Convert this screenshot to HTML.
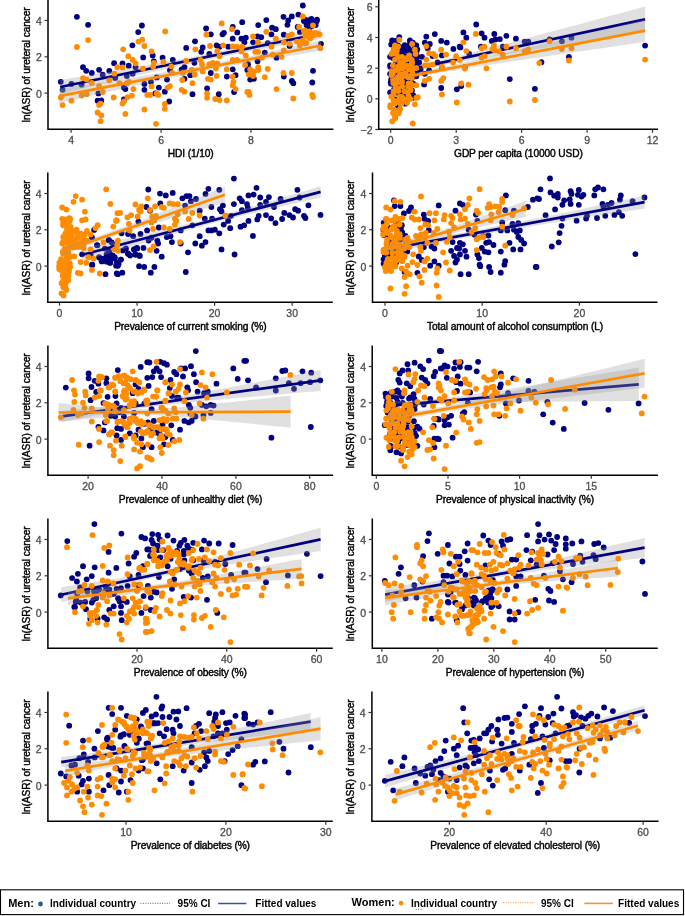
<!DOCTYPE html>
<html><head><meta charset="utf-8"><style>
html,body{margin:0;padding:0;background:#fff;}
svg{display:block;filter:blur(0.3px);}
text{font-family:"Liberation Sans",sans-serif;}
.tk{fill:#4D4D4D;font-size:10.5px;stroke:#4D4D4D;stroke-width:0.3px;}
.at{fill:#000;font-size:10.2px;letter-spacing:-0.12px;stroke:#000;stroke-width:0.4px;}
.lg{fill:#000;font-size:10px;font-weight:bold;}
</style></head><body>
<svg width="685" height="916" viewBox="0 0 685 916">
<rect width="685" height="916" fill="#fff"/>
<clipPath id="c0"><rect x="48.0" y="-0.5" width="285.4" height="129.8"/></clipPath>
<g clip-path="url(#c0)">
<circle cx="76.9" cy="16.8" r="2.9" fill="#000080"/>
<circle cx="88.1" cy="24.8" r="2.9" fill="#000080"/>
<circle cx="141.9" cy="25.5" r="2.9" fill="#000080"/>
<circle cx="138.2" cy="32.1" r="2.9" fill="#000080"/>
<circle cx="132.4" cy="45.3" r="2.9" fill="#000080"/>
<circle cx="143.2" cy="57.4" r="2.9" fill="#000080"/>
<circle cx="83.0" cy="67.2" r="2.9" fill="#000080"/>
<circle cx="86.2" cy="70.8" r="2.9" fill="#000080"/>
<circle cx="91.8" cy="73.0" r="2.9" fill="#000080"/>
<circle cx="99.1" cy="69.8" r="2.9" fill="#000080"/>
<circle cx="109.3" cy="70.8" r="2.9" fill="#000080"/>
<circle cx="114.1" cy="63.2" r="2.9" fill="#000080"/>
<circle cx="122.5" cy="63.5" r="2.9" fill="#000080"/>
<circle cx="128.7" cy="65.7" r="2.9" fill="#000080"/>
<circle cx="135.6" cy="67.2" r="2.9" fill="#000080"/>
<circle cx="60.8" cy="81.8" r="2.9" fill="#000080"/>
<circle cx="62.6" cy="89.8" r="2.9" fill="#000080"/>
<circle cx="71.4" cy="83.9" r="2.9" fill="#000080"/>
<circle cx="81.6" cy="84.7" r="2.9" fill="#000080"/>
<circle cx="102.7" cy="74.7" r="2.9" fill="#000080"/>
<circle cx="98.4" cy="93.4" r="2.9" fill="#000080"/>
<circle cx="97.6" cy="100.7" r="2.9" fill="#000080"/>
<circle cx="101.3" cy="100.4" r="2.9" fill="#000080"/>
<circle cx="123.9" cy="99.3" r="2.9" fill="#000080"/>
<circle cx="123.9" cy="87.6" r="2.9" fill="#000080"/>
<circle cx="125.4" cy="89.1" r="2.9" fill="#000080"/>
<circle cx="144.4" cy="89.8" r="2.9" fill="#000080"/>
<circle cx="144.4" cy="83.9" r="2.9" fill="#000080"/>
<circle cx="132.7" cy="73.7" r="2.9" fill="#000080"/>
<circle cx="126.8" cy="75.9" r="2.9" fill="#000080"/>
<circle cx="115.2" cy="78.1" r="2.9" fill="#000080"/>
<circle cx="242.2" cy="22.2" r="2.9" fill="#000080"/>
<circle cx="206.1" cy="28.5" r="2.9" fill="#000080"/>
<circle cx="210.8" cy="34.3" r="2.9" fill="#000080"/>
<circle cx="232.7" cy="27.0" r="2.9" fill="#000080"/>
<circle cx="237.3" cy="32.4" r="2.9" fill="#000080"/>
<circle cx="222.5" cy="34.3" r="2.9" fill="#000080"/>
<circle cx="223.9" cy="32.8" r="2.9" fill="#000080"/>
<circle cx="232.7" cy="38.7" r="2.9" fill="#000080"/>
<circle cx="241.4" cy="38.7" r="2.9" fill="#000080"/>
<circle cx="245.8" cy="37.7" r="2.9" fill="#000080"/>
<circle cx="244.4" cy="42.3" r="2.9" fill="#000080"/>
<circle cx="195.0" cy="41.3" r="2.9" fill="#000080"/>
<circle cx="186.2" cy="47.9" r="2.9" fill="#000080"/>
<circle cx="202.7" cy="47.4" r="2.9" fill="#000080"/>
<circle cx="201.3" cy="51.8" r="2.9" fill="#000080"/>
<circle cx="209.3" cy="54.0" r="2.9" fill="#000080"/>
<circle cx="216.6" cy="45.3" r="2.9" fill="#000080"/>
<circle cx="219.5" cy="46.7" r="2.9" fill="#000080"/>
<circle cx="228.3" cy="46.7" r="2.9" fill="#000080"/>
<circle cx="152.7" cy="55.5" r="2.9" fill="#000080"/>
<circle cx="162.6" cy="57.7" r="2.9" fill="#000080"/>
<circle cx="172.8" cy="59.9" r="2.9" fill="#000080"/>
<circle cx="153.8" cy="61.3" r="2.9" fill="#000080"/>
<circle cx="194.4" cy="62.8" r="2.9" fill="#000080"/>
<circle cx="184.5" cy="67.2" r="2.9" fill="#000080"/>
<circle cx="181.6" cy="69.3" r="2.9" fill="#000080"/>
<circle cx="169.9" cy="70.1" r="2.9" fill="#000080"/>
<circle cx="150.9" cy="81.8" r="2.9" fill="#000080"/>
<circle cx="167.0" cy="79.6" r="2.9" fill="#000080"/>
<circle cx="156.8" cy="77.4" r="2.9" fill="#000080"/>
<circle cx="158.9" cy="87.6" r="2.9" fill="#000080"/>
<circle cx="164.8" cy="91.7" r="2.9" fill="#000080"/>
<circle cx="155.3" cy="93.4" r="2.9" fill="#000080"/>
<circle cx="192.5" cy="94.2" r="2.9" fill="#000080"/>
<circle cx="207.1" cy="88.3" r="2.9" fill="#000080"/>
<circle cx="218.8" cy="94.2" r="2.9" fill="#000080"/>
<circle cx="232.7" cy="69.3" r="2.9" fill="#000080"/>
<circle cx="235.6" cy="75.2" r="2.9" fill="#000080"/>
<circle cx="226.8" cy="76.6" r="2.9" fill="#000080"/>
<circle cx="210.8" cy="73.0" r="2.9" fill="#000080"/>
<circle cx="190.3" cy="75.2" r="2.9" fill="#000080"/>
<circle cx="184.5" cy="78.8" r="2.9" fill="#000080"/>
<circle cx="169.2" cy="101.5" r="2.9" fill="#000080"/>
<circle cx="234.1" cy="92.0" r="2.9" fill="#000080"/>
<circle cx="247.3" cy="70.1" r="2.9" fill="#000080"/>
<circle cx="302.8" cy="5.5" r="2.9" fill="#000080"/>
<circle cx="258.2" cy="25.1" r="2.9" fill="#000080"/>
<circle cx="266.3" cy="20.1" r="2.9" fill="#000080"/>
<circle cx="283.5" cy="16.8" r="2.9" fill="#000080"/>
<circle cx="291.8" cy="16.4" r="2.9" fill="#000080"/>
<circle cx="298.4" cy="14.6" r="2.9" fill="#000080"/>
<circle cx="288.2" cy="20.4" r="2.9" fill="#000080"/>
<circle cx="287.4" cy="24.8" r="2.9" fill="#000080"/>
<circle cx="272.1" cy="27.7" r="2.9" fill="#000080"/>
<circle cx="275.8" cy="29.2" r="2.9" fill="#000080"/>
<circle cx="271.4" cy="34.3" r="2.9" fill="#000080"/>
<circle cx="283.8" cy="34.7" r="2.9" fill="#000080"/>
<circle cx="261.2" cy="37.2" r="2.9" fill="#000080"/>
<circle cx="257.5" cy="36.5" r="2.9" fill="#000080"/>
<circle cx="305.7" cy="20.4" r="2.9" fill="#000080"/>
<circle cx="311.5" cy="19.0" r="2.9" fill="#000080"/>
<circle cx="316.6" cy="21.2" r="2.9" fill="#000080"/>
<circle cx="307.2" cy="24.8" r="2.9" fill="#000080"/>
<circle cx="297.7" cy="27.0" r="2.9" fill="#000080"/>
<circle cx="299.9" cy="32.1" r="2.9" fill="#000080"/>
<circle cx="310.1" cy="27.0" r="2.9" fill="#000080"/>
<circle cx="253.1" cy="42.3" r="2.9" fill="#000080"/>
<circle cx="267.7" cy="43.1" r="2.9" fill="#000080"/>
<circle cx="264.8" cy="52.6" r="2.9" fill="#000080"/>
<circle cx="276.5" cy="57.7" r="2.9" fill="#000080"/>
<circle cx="257.5" cy="61.3" r="2.9" fill="#000080"/>
<circle cx="248.0" cy="64.2" r="2.9" fill="#000080"/>
<circle cx="248.8" cy="68.6" r="2.9" fill="#000080"/>
<circle cx="250.2" cy="79.6" r="2.9" fill="#000080"/>
<circle cx="253.9" cy="78.8" r="2.9" fill="#000080"/>
<circle cx="283.8" cy="76.6" r="2.9" fill="#000080"/>
<circle cx="291.8" cy="81.0" r="2.9" fill="#000080"/>
<circle cx="293.3" cy="83.2" r="2.9" fill="#000080"/>
<circle cx="313.0" cy="70.8" r="2.9" fill="#000080"/>
<circle cx="312.3" cy="82.5" r="2.9" fill="#000080"/>
<circle cx="321.0" cy="43.8" r="2.9" fill="#000080"/>
<circle cx="289.6" cy="46.0" r="2.9" fill="#000080"/>
<circle cx="305.2" cy="19.7" r="2.9" fill="#000080"/>
<circle cx="307.8" cy="22.3" r="2.9" fill="#000080"/>
<circle cx="310.4" cy="19.7" r="2.9" fill="#000080"/>
<circle cx="313.1" cy="22.3" r="2.9" fill="#000080"/>
<circle cx="315.7" cy="21.0" r="2.9" fill="#000080"/>
<circle cx="317.0" cy="19.7" r="2.9" fill="#000080"/>
<circle cx="306.5" cy="25.0" r="2.9" fill="#000080"/>
<circle cx="309.1" cy="26.3" r="2.9" fill="#000080"/>
<circle cx="311.8" cy="26.3" r="2.9" fill="#000080"/>
<circle cx="315.7" cy="25.0" r="2.9" fill="#000080"/>
<circle cx="303.9" cy="21.0" r="2.9" fill="#000080"/>
<path d="M60.2,80.0 L66.7,78.9 L73.2,77.8 L79.8,76.7 L86.3,75.6 L92.8,74.5 L99.3,73.4 L105.8,72.3 L112.4,71.2 L118.9,70.1 L125.4,68.9 L131.9,67.8 L138.4,66.7 L145.0,65.5 L151.5,64.4 L158.0,63.2 L164.5,62.0 L171.0,60.8 L177.6,59.6 L184.1,58.4 L190.6,57.2 L197.1,55.9 L203.6,54.6 L210.2,53.3 L216.7,52.0 L223.2,50.6 L229.7,49.3 L236.2,47.9 L242.8,46.4 L249.3,45.0 L255.8,43.5 L262.3,42.0 L268.8,40.6 L275.4,39.0 L281.9,37.5 L288.4,36.0 L294.9,34.5 L301.4,32.9 L308.0,31.4 L314.5,29.8 L321.0,28.3 L321.0,38.7 L314.5,39.9 L308.0,41.0 L301.4,42.1 L294.9,43.2 L288.4,44.4 L281.9,45.5 L275.4,46.7 L268.8,47.8 L262.3,49.0 L255.8,50.2 L249.3,51.4 L242.8,52.7 L236.2,53.9 L229.7,55.2 L223.2,56.5 L216.7,57.8 L210.2,59.1 L203.6,60.5 L197.1,61.9 L190.6,63.3 L184.1,64.8 L177.6,66.2 L171.0,67.7 L164.5,69.2 L158.0,70.7 L151.5,72.2 L145.0,73.7 L138.4,75.2 L131.9,76.8 L125.4,78.3 L118.9,79.9 L112.4,81.4 L105.8,83.0 L99.3,84.5 L92.8,86.1 L86.3,87.7 L79.8,89.3 L73.2,90.8 L66.7,92.4 L60.2,94.0Z" fill="#999" fill-opacity="0.3"/>
<line x1="60.2" y1="87.0" x2="321" y2="33.5" stroke="#000080" stroke-width="2.7"/>
<circle cx="76.9" cy="47.0" r="2.9" fill="#FF8C00"/>
<circle cx="88.1" cy="40.1" r="2.9" fill="#FF8C00"/>
<circle cx="123.2" cy="49.3" r="2.9" fill="#FF8C00"/>
<circle cx="138.5" cy="41.6" r="2.9" fill="#FF8C00"/>
<circle cx="142.2" cy="39.7" r="2.9" fill="#FF8C00"/>
<circle cx="144.4" cy="46.0" r="2.9" fill="#FF8C00"/>
<circle cx="128.3" cy="56.2" r="2.9" fill="#FF8C00"/>
<circle cx="132.7" cy="59.9" r="2.9" fill="#FF8C00"/>
<circle cx="135.6" cy="63.5" r="2.9" fill="#FF8C00"/>
<circle cx="117.3" cy="67.2" r="2.9" fill="#FF8C00"/>
<circle cx="122.5" cy="67.4" r="2.9" fill="#FF8C00"/>
<circle cx="114.4" cy="73.7" r="2.9" fill="#FF8C00"/>
<circle cx="83.0" cy="78.1" r="2.9" fill="#FF8C00"/>
<circle cx="86.7" cy="79.6" r="2.9" fill="#FF8C00"/>
<circle cx="91.8" cy="82.9" r="2.9" fill="#FF8C00"/>
<circle cx="109.3" cy="80.3" r="2.9" fill="#FF8C00"/>
<circle cx="99.1" cy="86.1" r="2.9" fill="#FF8C00"/>
<circle cx="102.7" cy="92.0" r="2.9" fill="#FF8C00"/>
<circle cx="60.8" cy="97.5" r="2.9" fill="#FF8C00"/>
<circle cx="71.4" cy="100.7" r="2.9" fill="#FF8C00"/>
<circle cx="62.6" cy="105.1" r="2.9" fill="#FF8C00"/>
<circle cx="81.6" cy="95.6" r="2.9" fill="#FF8C00"/>
<circle cx="86.7" cy="94.2" r="2.9" fill="#FF8C00"/>
<circle cx="119.5" cy="83.2" r="2.9" fill="#FF8C00"/>
<circle cx="126.8" cy="83.2" r="2.9" fill="#FF8C00"/>
<circle cx="129.0" cy="81.8" r="2.9" fill="#FF8C00"/>
<circle cx="133.4" cy="89.1" r="2.9" fill="#FF8C00"/>
<circle cx="113.7" cy="97.5" r="2.9" fill="#FF8C00"/>
<circle cx="127.6" cy="97.1" r="2.9" fill="#FF8C00"/>
<circle cx="131.9" cy="95.6" r="2.9" fill="#FF8C00"/>
<circle cx="122.5" cy="103.6" r="2.9" fill="#FF8C00"/>
<circle cx="123.9" cy="101.5" r="2.9" fill="#FF8C00"/>
<circle cx="99.1" cy="105.1" r="2.9" fill="#FF8C00"/>
<circle cx="100.6" cy="103.6" r="2.9" fill="#FF8C00"/>
<circle cx="97.6" cy="112.4" r="2.9" fill="#FF8C00"/>
<circle cx="101.3" cy="115.3" r="2.9" fill="#FF8C00"/>
<circle cx="100.6" cy="121.2" r="2.9" fill="#FF8C00"/>
<circle cx="125.4" cy="113.9" r="2.9" fill="#FF8C00"/>
<circle cx="144.4" cy="109.5" r="2.9" fill="#FF8C00"/>
<circle cx="142.9" cy="68.6" r="2.9" fill="#FF8C00"/>
<circle cx="147.3" cy="94.9" r="2.9" fill="#FF8C00"/>
<circle cx="165.2" cy="31.4" r="2.9" fill="#FF8C00"/>
<circle cx="221.7" cy="23.4" r="2.9" fill="#FF8C00"/>
<circle cx="231.9" cy="29.2" r="2.9" fill="#FF8C00"/>
<circle cx="206.4" cy="34.7" r="2.9" fill="#FF8C00"/>
<circle cx="195.4" cy="49.3" r="2.9" fill="#FF8C00"/>
<circle cx="210.0" cy="46.0" r="2.9" fill="#FF8C00"/>
<circle cx="223.2" cy="45.3" r="2.9" fill="#FF8C00"/>
<circle cx="232.7" cy="46.4" r="2.9" fill="#FF8C00"/>
<circle cx="237.1" cy="46.7" r="2.9" fill="#FF8C00"/>
<circle cx="242.2" cy="46.7" r="2.9" fill="#FF8C00"/>
<circle cx="241.4" cy="51.4" r="2.9" fill="#FF8C00"/>
<circle cx="245.8" cy="55.5" r="2.9" fill="#FF8C00"/>
<circle cx="217.3" cy="50.8" r="2.9" fill="#FF8C00"/>
<circle cx="219.5" cy="56.2" r="2.9" fill="#FF8C00"/>
<circle cx="151.6" cy="51.4" r="2.9" fill="#FF8C00"/>
<circle cx="153.8" cy="62.8" r="2.9" fill="#FF8C00"/>
<circle cx="153.1" cy="66.4" r="2.9" fill="#FF8C00"/>
<circle cx="163.3" cy="62.0" r="2.9" fill="#FF8C00"/>
<circle cx="171.4" cy="66.4" r="2.9" fill="#FF8C00"/>
<circle cx="186.2" cy="61.0" r="2.9" fill="#FF8C00"/>
<circle cx="200.6" cy="59.9" r="2.9" fill="#FF8C00"/>
<circle cx="202.0" cy="64.2" r="2.9" fill="#FF8C00"/>
<circle cx="209.3" cy="64.2" r="2.9" fill="#FF8C00"/>
<circle cx="213.0" cy="62.8" r="2.9" fill="#FF8C00"/>
<circle cx="217.3" cy="63.5" r="2.9" fill="#FF8C00"/>
<circle cx="215.9" cy="68.6" r="2.9" fill="#FF8C00"/>
<circle cx="202.7" cy="71.5" r="2.9" fill="#FF8C00"/>
<circle cx="191.8" cy="69.8" r="2.9" fill="#FF8C00"/>
<circle cx="183.0" cy="73.0" r="2.9" fill="#FF8C00"/>
<circle cx="194.7" cy="74.5" r="2.9" fill="#FF8C00"/>
<circle cx="172.1" cy="73.0" r="2.9" fill="#FF8C00"/>
<circle cx="182.3" cy="80.0" r="2.9" fill="#FF8C00"/>
<circle cx="192.5" cy="83.2" r="2.9" fill="#FF8C00"/>
<circle cx="151.6" cy="86.4" r="2.9" fill="#FF8C00"/>
<circle cx="167.7" cy="87.6" r="2.9" fill="#FF8C00"/>
<circle cx="169.9" cy="86.1" r="2.9" fill="#FF8C00"/>
<circle cx="181.6" cy="89.8" r="2.9" fill="#FF8C00"/>
<circle cx="184.5" cy="91.7" r="2.9" fill="#FF8C00"/>
<circle cx="150.2" cy="94.9" r="2.9" fill="#FF8C00"/>
<circle cx="158.2" cy="94.9" r="2.9" fill="#FF8C00"/>
<circle cx="156.8" cy="93.4" r="2.9" fill="#FF8C00"/>
<circle cx="207.9" cy="78.8" r="2.9" fill="#FF8C00"/>
<circle cx="210.8" cy="79.6" r="2.9" fill="#FF8C00"/>
<circle cx="216.6" cy="75.9" r="2.9" fill="#FF8C00"/>
<circle cx="226.8" cy="69.3" r="2.9" fill="#FF8C00"/>
<circle cx="232.7" cy="59.9" r="2.9" fill="#FF8C00"/>
<circle cx="237.1" cy="59.9" r="2.9" fill="#FF8C00"/>
<circle cx="232.7" cy="76.6" r="2.9" fill="#FF8C00"/>
<circle cx="233.4" cy="81.8" r="2.9" fill="#FF8C00"/>
<circle cx="232.7" cy="85.4" r="2.9" fill="#FF8C00"/>
<circle cx="235.6" cy="89.1" r="2.9" fill="#FF8C00"/>
<circle cx="207.1" cy="93.4" r="2.9" fill="#FF8C00"/>
<circle cx="207.1" cy="97.8" r="2.9" fill="#FF8C00"/>
<circle cx="215.2" cy="99.0" r="2.9" fill="#FF8C00"/>
<circle cx="219.5" cy="100.0" r="2.9" fill="#FF8C00"/>
<circle cx="226.8" cy="100.4" r="2.9" fill="#FF8C00"/>
<circle cx="164.8" cy="103.9" r="2.9" fill="#FF8C00"/>
<circle cx="164.8" cy="108.8" r="2.9" fill="#FF8C00"/>
<circle cx="156.0" cy="123.8" r="2.9" fill="#FF8C00"/>
<circle cx="245.1" cy="65.0" r="2.9" fill="#FF8C00"/>
<circle cx="247.3" cy="92.0" r="2.9" fill="#FF8C00"/>
<circle cx="302.8" cy="16.4" r="2.9" fill="#FF8C00"/>
<circle cx="299.1" cy="27.0" r="2.9" fill="#FF8C00"/>
<circle cx="313.0" cy="25.5" r="2.9" fill="#FF8C00"/>
<circle cx="266.3" cy="31.8" r="2.9" fill="#FF8C00"/>
<circle cx="253.1" cy="36.5" r="2.9" fill="#FF8C00"/>
<circle cx="275.8" cy="38.7" r="2.9" fill="#FF8C00"/>
<circle cx="288.2" cy="35.8" r="2.9" fill="#FF8C00"/>
<circle cx="291.8" cy="34.3" r="2.9" fill="#FF8C00"/>
<circle cx="283.8" cy="42.3" r="2.9" fill="#FF8C00"/>
<circle cx="289.6" cy="43.8" r="2.9" fill="#FF8C00"/>
<circle cx="296.9" cy="41.6" r="2.9" fill="#FF8C00"/>
<circle cx="302.8" cy="41.6" r="2.9" fill="#FF8C00"/>
<circle cx="306.4" cy="43.1" r="2.9" fill="#FF8C00"/>
<circle cx="305.0" cy="30.7" r="2.9" fill="#FF8C00"/>
<circle cx="308.6" cy="32.8" r="2.9" fill="#FF8C00"/>
<circle cx="311.5" cy="35.0" r="2.9" fill="#FF8C00"/>
<circle cx="315.9" cy="34.3" r="2.9" fill="#FF8C00"/>
<circle cx="319.6" cy="34.3" r="2.9" fill="#FF8C00"/>
<circle cx="310.1" cy="38.0" r="2.9" fill="#FF8C00"/>
<circle cx="258.2" cy="42.3" r="2.9" fill="#FF8C00"/>
<circle cx="271.4" cy="46.7" r="2.9" fill="#FF8C00"/>
<circle cx="255.3" cy="51.8" r="2.9" fill="#FF8C00"/>
<circle cx="258.2" cy="51.8" r="2.9" fill="#FF8C00"/>
<circle cx="261.9" cy="57.7" r="2.9" fill="#FF8C00"/>
<circle cx="272.8" cy="54.7" r="2.9" fill="#FF8C00"/>
<circle cx="281.6" cy="56.9" r="2.9" fill="#FF8C00"/>
<circle cx="283.8" cy="50.4" r="2.9" fill="#FF8C00"/>
<circle cx="250.2" cy="69.3" r="2.9" fill="#FF8C00"/>
<circle cx="253.9" cy="71.5" r="2.9" fill="#FF8C00"/>
<circle cx="258.2" cy="67.2" r="2.9" fill="#FF8C00"/>
<circle cx="258.2" cy="70.1" r="2.9" fill="#FF8C00"/>
<circle cx="248.8" cy="74.5" r="2.9" fill="#FF8C00"/>
<circle cx="253.1" cy="75.9" r="2.9" fill="#FF8C00"/>
<circle cx="267.7" cy="68.9" r="2.9" fill="#FF8C00"/>
<circle cx="264.8" cy="77.1" r="2.9" fill="#FF8C00"/>
<circle cx="283.5" cy="73.0" r="2.9" fill="#FF8C00"/>
<circle cx="291.8" cy="73.0" r="2.9" fill="#FF8C00"/>
<circle cx="276.5" cy="89.1" r="2.9" fill="#FF8C00"/>
<circle cx="248.8" cy="92.0" r="2.9" fill="#FF8C00"/>
<circle cx="249.5" cy="94.9" r="2.9" fill="#FF8C00"/>
<circle cx="293.3" cy="98.5" r="2.9" fill="#FF8C00"/>
<circle cx="312.3" cy="94.9" r="2.9" fill="#FF8C00"/>
<circle cx="313.0" cy="97.1" r="2.9" fill="#FF8C00"/>
<circle cx="320.3" cy="48.2" r="2.9" fill="#FF8C00"/>
<circle cx="299.9" cy="45.3" r="2.9" fill="#FF8C00"/>
<circle cx="303.9" cy="30.9" r="2.9" fill="#FF8C00"/>
<circle cx="306.5" cy="32.8" r="2.9" fill="#FF8C00"/>
<circle cx="309.1" cy="31.5" r="2.9" fill="#FF8C00"/>
<circle cx="311.8" cy="33.5" r="2.9" fill="#FF8C00"/>
<circle cx="314.4" cy="32.8" r="2.9" fill="#FF8C00"/>
<circle cx="317.0" cy="33.5" r="2.9" fill="#FF8C00"/>
<circle cx="307.8" cy="36.8" r="2.9" fill="#FF8C00"/>
<circle cx="310.4" cy="38.1" r="2.9" fill="#FF8C00"/>
<circle cx="305.2" cy="35.5" r="2.9" fill="#FF8C00"/>
<circle cx="313.1" cy="35.5" r="2.9" fill="#FF8C00"/>
<circle cx="318.3" cy="34.2" r="2.9" fill="#FF8C00"/>
<circle cx="302.6" cy="40.7" r="2.9" fill="#FF8C00"/>
<circle cx="305.2" cy="43.4" r="2.9" fill="#FF8C00"/>
<path d="M59.1,89.2 L65.6,88.2 L72.2,87.1 L78.7,86.1 L85.3,85.1 L91.8,84.1 L98.4,83.0 L104.9,82.0 L111.5,80.9 L118.0,79.9 L124.6,78.8 L131.1,77.8 L137.7,76.7 L144.2,75.6 L150.8,74.5 L157.3,73.5 L163.9,72.3 L170.4,71.2 L177.0,70.1 L183.5,68.9 L190.0,67.8 L196.6,66.6 L203.1,65.4 L209.7,64.1 L216.2,62.9 L222.8,61.6 L229.3,60.3 L235.9,59.0 L242.4,57.6 L249.0,56.2 L255.5,54.8 L262.1,53.4 L268.6,52.0 L275.2,50.6 L281.7,49.1 L288.3,47.7 L294.8,46.2 L301.4,44.7 L307.9,43.3 L314.5,41.8 L321.0,40.3 L321.0,50.7 L314.5,51.8 L307.9,52.8 L301.4,53.9 L294.8,54.9 L288.3,56.0 L281.7,57.1 L275.2,58.2 L268.6,59.3 L262.1,60.4 L255.5,61.5 L249.0,62.7 L242.4,63.8 L235.9,65.0 L229.3,66.2 L222.8,67.4 L216.2,68.7 L209.7,70.0 L203.1,71.3 L196.6,72.6 L190.0,73.9 L183.5,75.3 L177.0,76.7 L170.4,78.1 L163.9,79.5 L157.3,80.9 L150.8,82.4 L144.2,83.8 L137.7,85.3 L131.1,86.7 L124.6,88.2 L118.0,89.7 L111.5,91.2 L104.9,92.7 L98.4,94.2 L91.8,95.7 L85.3,97.2 L78.7,98.7 L72.2,100.2 L65.6,101.7 L59.1,103.2Z" fill="#999" fill-opacity="0.3"/>
<line x1="59.1" y1="96.2" x2="321" y2="45.5" stroke="#FF8C00" stroke-width="2.7"/>
</g>
<path d="M48.0,-0.5 V129.3 H333.4" fill="none" stroke="#000" stroke-width="1.5"/>
<line x1="44.6" y1="93.1" x2="48.0" y2="93.1" stroke="#333" stroke-width="1.2"/>
<text class="tk" x="41.8" y="97.6" text-anchor="end">0</text>
<line x1="44.6" y1="56.8" x2="48.0" y2="56.8" stroke="#333" stroke-width="1.2"/>
<text class="tk" x="41.8" y="61.3" text-anchor="end">2</text>
<line x1="44.6" y1="20.5" x2="48.0" y2="20.5" stroke="#333" stroke-width="1.2"/>
<text class="tk" x="41.8" y="25.0" text-anchor="end">4</text>
<line x1="71.1" y1="129.3" x2="71.1" y2="132.70000000000002" stroke="#333" stroke-width="1.2"/>
<text class="tk" x="71.1" y="143.7" text-anchor="middle">4</text>
<line x1="161.1" y1="129.3" x2="161.1" y2="132.70000000000002" stroke="#333" stroke-width="1.2"/>
<text class="tk" x="161.1" y="143.7" text-anchor="middle">6</text>
<line x1="251.0" y1="129.3" x2="251.0" y2="132.70000000000002" stroke="#333" stroke-width="1.2"/>
<text class="tk" x="251.0" y="143.7" text-anchor="middle">8</text>
<text class="at" x="190.7" y="157.1" text-anchor="middle">HDI (1/10)</text>
<text class="at" transform="translate(29.6,64.8) rotate(-90)" text-anchor="middle">ln(ASR) of ureteral cancer</text>
<clipPath id="c1"><rect x="378.7" y="-0.5" width="279.3" height="129.8"/></clipPath>
<g clip-path="url(#c1)">
<circle cx="392.2" cy="40.4" r="2.9" fill="#000080"/>
<circle cx="399.3" cy="37.2" r="2.9" fill="#000080"/>
<circle cx="409.9" cy="40.4" r="2.9" fill="#000080"/>
<circle cx="412.8" cy="42.6" r="2.9" fill="#000080"/>
<circle cx="403.5" cy="46.8" r="2.9" fill="#000080"/>
<circle cx="406.4" cy="49.0" r="2.9" fill="#000080"/>
<circle cx="402.1" cy="52.5" r="2.9" fill="#000080"/>
<circle cx="407.8" cy="51.1" r="2.9" fill="#000080"/>
<circle cx="415.6" cy="45.4" r="2.9" fill="#000080"/>
<circle cx="426.3" cy="36.6" r="2.9" fill="#000080"/>
<circle cx="434.8" cy="34.1" r="2.9" fill="#000080"/>
<circle cx="441.2" cy="40.9" r="2.9" fill="#000080"/>
<circle cx="446.8" cy="42.6" r="2.9" fill="#000080"/>
<circle cx="424.8" cy="42.6" r="2.9" fill="#000080"/>
<circle cx="429.8" cy="44.0" r="2.9" fill="#000080"/>
<circle cx="427.7" cy="48.3" r="2.9" fill="#000080"/>
<circle cx="432.6" cy="56.1" r="2.9" fill="#000080"/>
<circle cx="422.0" cy="56.8" r="2.9" fill="#000080"/>
<circle cx="416.3" cy="58.2" r="2.9" fill="#000080"/>
<circle cx="419.2" cy="62.4" r="2.9" fill="#000080"/>
<circle cx="441.9" cy="55.4" r="2.9" fill="#000080"/>
<circle cx="437.6" cy="62.4" r="2.9" fill="#000080"/>
<circle cx="441.9" cy="68.1" r="2.9" fill="#000080"/>
<circle cx="429.1" cy="70.3" r="2.9" fill="#000080"/>
<circle cx="424.8" cy="73.8" r="2.9" fill="#000080"/>
<circle cx="420.6" cy="69.5" r="2.9" fill="#000080"/>
<circle cx="424.1" cy="84.4" r="2.9" fill="#000080"/>
<circle cx="441.2" cy="88.0" r="2.9" fill="#000080"/>
<circle cx="412.1" cy="97.9" r="2.9" fill="#000080"/>
<circle cx="397.9" cy="105.7" r="2.9" fill="#000080"/>
<circle cx="390.1" cy="56.8" r="2.9" fill="#000080"/>
<circle cx="390.1" cy="65.3" r="2.9" fill="#000080"/>
<circle cx="390.1" cy="73.8" r="2.9" fill="#000080"/>
<circle cx="390.8" cy="82.3" r="2.9" fill="#000080"/>
<circle cx="390.1" cy="92.3" r="2.9" fill="#000080"/>
<circle cx="406.4" cy="85.2" r="2.9" fill="#000080"/>
<circle cx="409.2" cy="93.7" r="2.9" fill="#000080"/>
<circle cx="395.0" cy="66.7" r="2.9" fill="#000080"/>
<circle cx="399.3" cy="62.4" r="2.9" fill="#000080"/>
<circle cx="396.5" cy="71.0" r="2.9" fill="#000080"/>
<circle cx="476.2" cy="24.5" r="2.9" fill="#000080"/>
<circle cx="463.4" cy="32.4" r="2.9" fill="#000080"/>
<circle cx="466.3" cy="37.7" r="2.9" fill="#000080"/>
<circle cx="481.6" cy="33.3" r="2.9" fill="#000080"/>
<circle cx="484.5" cy="37.7" r="2.9" fill="#000080"/>
<circle cx="494.3" cy="33.9" r="2.9" fill="#000080"/>
<circle cx="491.8" cy="40.9" r="2.9" fill="#000080"/>
<circle cx="495.5" cy="39.4" r="2.9" fill="#000080"/>
<circle cx="499.9" cy="39.1" r="2.9" fill="#000080"/>
<circle cx="506.4" cy="35.8" r="2.9" fill="#000080"/>
<circle cx="515.9" cy="38.7" r="2.9" fill="#000080"/>
<circle cx="524.7" cy="41.6" r="2.9" fill="#000080"/>
<circle cx="528.3" cy="41.6" r="2.9" fill="#000080"/>
<circle cx="453.4" cy="48.9" r="2.9" fill="#000080"/>
<circle cx="459.7" cy="46.7" r="2.9" fill="#000080"/>
<circle cx="460.4" cy="47.4" r="2.9" fill="#000080"/>
<circle cx="469.2" cy="54.0" r="2.9" fill="#000080"/>
<circle cx="480.9" cy="46.7" r="2.9" fill="#000080"/>
<circle cx="502.8" cy="46.7" r="2.9" fill="#000080"/>
<circle cx="509.8" cy="79.1" r="2.9" fill="#000080"/>
<circle cx="456.8" cy="89.3" r="2.9" fill="#000080"/>
<circle cx="461.2" cy="86.1" r="2.9" fill="#000080"/>
<circle cx="534.9" cy="88.8" r="2.9" fill="#000080"/>
<circle cx="464.8" cy="67.2" r="2.9" fill="#000080"/>
<circle cx="549.6" cy="39.4" r="2.9" fill="#000080"/>
<circle cx="561.9" cy="41.2" r="2.9" fill="#000080"/>
<circle cx="571.5" cy="37.7" r="2.9" fill="#000080"/>
<circle cx="568.9" cy="56.9" r="2.9" fill="#000080"/>
<circle cx="645.1" cy="45.6" r="2.9" fill="#000080"/>
<circle cx="541.4" cy="62.2" r="2.9" fill="#000080"/>
<circle cx="395.2" cy="40.8" r="2.9" fill="#000080"/>
<circle cx="391.2" cy="44.5" r="2.9" fill="#000080"/>
<circle cx="393.1" cy="43.5" r="2.9" fill="#000080"/>
<circle cx="398.0" cy="45.4" r="2.9" fill="#000080"/>
<circle cx="404.6" cy="45.2" r="2.9" fill="#000080"/>
<circle cx="409.1" cy="45.0" r="2.9" fill="#000080"/>
<circle cx="414.0" cy="45.1" r="2.9" fill="#000080"/>
<circle cx="416.3" cy="45.3" r="2.9" fill="#000080"/>
<circle cx="394.8" cy="48.5" r="2.9" fill="#000080"/>
<circle cx="398.7" cy="48.5" r="2.9" fill="#000080"/>
<circle cx="403.0" cy="47.5" r="2.9" fill="#000080"/>
<circle cx="409.1" cy="49.6" r="2.9" fill="#000080"/>
<circle cx="414.1" cy="49.3" r="2.9" fill="#000080"/>
<circle cx="417.3" cy="49.5" r="2.9" fill="#000080"/>
<circle cx="394.4" cy="52.2" r="2.9" fill="#000080"/>
<circle cx="398.2" cy="53.3" r="2.9" fill="#000080"/>
<circle cx="402.8" cy="53.1" r="2.9" fill="#000080"/>
<circle cx="408.4" cy="52.9" r="2.9" fill="#000080"/>
<circle cx="411.4" cy="53.2" r="2.9" fill="#000080"/>
<circle cx="416.3" cy="52.4" r="2.9" fill="#000080"/>
<circle cx="393.3" cy="58.2" r="2.9" fill="#000080"/>
<circle cx="400.5" cy="57.4" r="2.9" fill="#000080"/>
<circle cx="404.3" cy="59.1" r="2.9" fill="#000080"/>
<circle cx="406.7" cy="56.6" r="2.9" fill="#000080"/>
<circle cx="413.6" cy="58.8" r="2.9" fill="#000080"/>
<circle cx="417.5" cy="56.6" r="2.9" fill="#000080"/>
<circle cx="395.8" cy="63.2" r="2.9" fill="#000080"/>
<circle cx="398.2" cy="63.3" r="2.9" fill="#000080"/>
<circle cx="403.2" cy="62.9" r="2.9" fill="#000080"/>
<circle cx="407.0" cy="63.7" r="2.9" fill="#000080"/>
<circle cx="412.9" cy="62.9" r="2.9" fill="#000080"/>
<circle cx="416.2" cy="62.6" r="2.9" fill="#000080"/>
<circle cx="390.4" cy="67.0" r="2.9" fill="#000080"/>
<circle cx="394.2" cy="67.4" r="2.9" fill="#000080"/>
<circle cx="398.6" cy="66.1" r="2.9" fill="#000080"/>
<circle cx="402.5" cy="67.3" r="2.9" fill="#000080"/>
<circle cx="406.9" cy="65.8" r="2.9" fill="#000080"/>
<circle cx="411.2" cy="67.2" r="2.9" fill="#000080"/>
<circle cx="417.3" cy="66.8" r="2.9" fill="#000080"/>
<circle cx="394.1" cy="69.9" r="2.9" fill="#000080"/>
<circle cx="397.5" cy="72.8" r="2.9" fill="#000080"/>
<circle cx="402.4" cy="70.6" r="2.9" fill="#000080"/>
<circle cx="407.4" cy="71.5" r="2.9" fill="#000080"/>
<circle cx="411.3" cy="71.1" r="2.9" fill="#000080"/>
<circle cx="416.7" cy="72.3" r="2.9" fill="#000080"/>
<circle cx="394.6" cy="77.2" r="2.9" fill="#000080"/>
<circle cx="399.2" cy="75.6" r="2.9" fill="#000080"/>
<circle cx="404.1" cy="75.1" r="2.9" fill="#000080"/>
<circle cx="406.6" cy="75.7" r="2.9" fill="#000080"/>
<circle cx="413.9" cy="76.5" r="2.9" fill="#000080"/>
<circle cx="416.3" cy="76.3" r="2.9" fill="#000080"/>
<circle cx="391.2" cy="79.4" r="2.9" fill="#000080"/>
<circle cx="394.9" cy="79.7" r="2.9" fill="#000080"/>
<circle cx="398.3" cy="79.5" r="2.9" fill="#000080"/>
<circle cx="402.7" cy="79.7" r="2.9" fill="#000080"/>
<circle cx="406.6" cy="79.9" r="2.9" fill="#000080"/>
<circle cx="411.3" cy="81.0" r="2.9" fill="#000080"/>
<circle cx="391.0" cy="83.7" r="2.9" fill="#000080"/>
<circle cx="394.5" cy="84.9" r="2.9" fill="#000080"/>
<circle cx="398.6" cy="84.0" r="2.9" fill="#000080"/>
<circle cx="403.4" cy="83.6" r="2.9" fill="#000080"/>
<circle cx="409.2" cy="83.5" r="2.9" fill="#000080"/>
<circle cx="413.6" cy="83.8" r="2.9" fill="#000080"/>
<circle cx="394.2" cy="89.0" r="2.9" fill="#000080"/>
<circle cx="400.3" cy="90.7" r="2.9" fill="#000080"/>
<circle cx="402.2" cy="89.3" r="2.9" fill="#000080"/>
<circle cx="406.9" cy="90.2" r="2.9" fill="#000080"/>
<circle cx="412.0" cy="90.4" r="2.9" fill="#000080"/>
<circle cx="395.8" cy="92.6" r="2.9" fill="#000080"/>
<circle cx="399.0" cy="93.3" r="2.9" fill="#000080"/>
<circle cx="403.1" cy="94.7" r="2.9" fill="#000080"/>
<circle cx="407.2" cy="94.4" r="2.9" fill="#000080"/>
<circle cx="413.1" cy="95.1" r="2.9" fill="#000080"/>
<circle cx="395.0" cy="99.3" r="2.9" fill="#000080"/>
<circle cx="400.4" cy="97.0" r="2.9" fill="#000080"/>
<circle cx="402.5" cy="98.3" r="2.9" fill="#000080"/>
<circle cx="409.1" cy="98.3" r="2.9" fill="#000080"/>
<circle cx="395.3" cy="101.5" r="2.9" fill="#000080"/>
<circle cx="399.8" cy="103.9" r="2.9" fill="#000080"/>
<circle cx="405.2" cy="103.7" r="2.9" fill="#000080"/>
<path d="M390.2,70.5 L396.6,69.3 L402.9,68.1 L409.3,66.9 L415.7,65.6 L422.1,64.3 L428.4,63.0 L434.8,61.5 L441.2,60.1 L447.6,58.5 L453.9,57.0 L460.3,55.4 L466.7,53.8 L473.0,52.2 L479.4,50.6 L485.8,48.9 L492.2,47.3 L498.5,45.6 L504.9,43.9 L511.3,42.3 L517.6,40.6 L524.0,38.9 L530.4,37.2 L536.8,35.5 L543.1,33.8 L549.5,32.1 L555.9,30.5 L562.3,28.8 L568.6,27.1 L575.0,25.4 L581.4,23.7 L587.7,22.0 L594.1,20.3 L600.5,18.5 L606.9,16.8 L613.2,15.1 L619.6,13.4 L626.0,11.7 L632.4,10.0 L638.7,8.3 L645.1,6.6 L645.1,32.2 L638.7,33.2 L632.4,34.2 L626.0,35.2 L619.6,36.2 L613.2,37.2 L606.9,38.2 L600.5,39.2 L594.1,40.2 L587.7,41.2 L581.4,42.2 L575.0,43.3 L568.6,44.3 L562.3,45.3 L555.9,46.3 L549.5,47.3 L543.1,48.3 L536.8,49.3 L530.4,50.4 L524.0,51.4 L517.6,52.4 L511.3,53.4 L504.9,54.5 L498.5,55.5 L492.2,56.6 L485.8,57.6 L479.4,58.7 L473.0,59.8 L466.7,60.9 L460.3,62.0 L453.9,63.1 L447.6,64.3 L441.2,65.5 L434.8,66.7 L428.4,68.0 L422.1,69.3 L415.7,70.7 L409.3,72.2 L402.9,73.6 L396.6,75.2 L390.2,76.7Z" fill="#999" fill-opacity="0.3"/>
<line x1="390.2" y1="73.6" x2="645.1" y2="19.4" stroke="#000080" stroke-width="2.7"/>
<circle cx="399.3" cy="39.7" r="2.9" fill="#FF8C00"/>
<circle cx="412.1" cy="44.0" r="2.9" fill="#FF8C00"/>
<circle cx="395.0" cy="45.4" r="2.9" fill="#FF8C00"/>
<circle cx="393.6" cy="49.7" r="2.9" fill="#FF8C00"/>
<circle cx="391.5" cy="53.9" r="2.9" fill="#FF8C00"/>
<circle cx="396.5" cy="53.9" r="2.9" fill="#FF8C00"/>
<circle cx="414.9" cy="49.7" r="2.9" fill="#FF8C00"/>
<circle cx="415.6" cy="53.9" r="2.9" fill="#FF8C00"/>
<circle cx="409.2" cy="55.4" r="2.9" fill="#FF8C00"/>
<circle cx="426.3" cy="46.1" r="2.9" fill="#FF8C00"/>
<circle cx="429.1" cy="53.2" r="2.9" fill="#FF8C00"/>
<circle cx="433.4" cy="53.9" r="2.9" fill="#FF8C00"/>
<circle cx="435.5" cy="56.1" r="2.9" fill="#FF8C00"/>
<circle cx="441.2" cy="49.7" r="2.9" fill="#FF8C00"/>
<circle cx="446.1" cy="54.6" r="2.9" fill="#FF8C00"/>
<circle cx="426.3" cy="59.6" r="2.9" fill="#FF8C00"/>
<circle cx="424.8" cy="65.3" r="2.9" fill="#FF8C00"/>
<circle cx="428.4" cy="65.3" r="2.9" fill="#FF8C00"/>
<circle cx="432.6" cy="64.6" r="2.9" fill="#FF8C00"/>
<circle cx="441.9" cy="66.7" r="2.9" fill="#FF8C00"/>
<circle cx="416.3" cy="68.1" r="2.9" fill="#FF8C00"/>
<circle cx="412.1" cy="62.4" r="2.9" fill="#FF8C00"/>
<circle cx="441.2" cy="80.9" r="2.9" fill="#FF8C00"/>
<circle cx="443.3" cy="78.1" r="2.9" fill="#FF8C00"/>
<circle cx="424.8" cy="80.9" r="2.9" fill="#FF8C00"/>
<circle cx="429.1" cy="78.8" r="2.9" fill="#FF8C00"/>
<circle cx="416.3" cy="85.2" r="2.9" fill="#FF8C00"/>
<circle cx="441.9" cy="94.4" r="2.9" fill="#FF8C00"/>
<circle cx="416.3" cy="97.9" r="2.9" fill="#FF8C00"/>
<circle cx="417.7" cy="97.2" r="2.9" fill="#FF8C00"/>
<circle cx="414.9" cy="104.3" r="2.9" fill="#FF8C00"/>
<circle cx="412.8" cy="123.5" r="2.9" fill="#FF8C00"/>
<circle cx="392.2" cy="121.3" r="2.9" fill="#FF8C00"/>
<circle cx="395.0" cy="116.4" r="2.9" fill="#FF8C00"/>
<circle cx="399.3" cy="110.7" r="2.9" fill="#FF8C00"/>
<circle cx="393.6" cy="112.1" r="2.9" fill="#FF8C00"/>
<circle cx="475.8" cy="33.9" r="2.9" fill="#FF8C00"/>
<circle cx="463.4" cy="42.3" r="2.9" fill="#FF8C00"/>
<circle cx="466.3" cy="51.1" r="2.9" fill="#FF8C00"/>
<circle cx="456.1" cy="56.2" r="2.9" fill="#FF8C00"/>
<circle cx="459.7" cy="59.9" r="2.9" fill="#FF8C00"/>
<circle cx="453.1" cy="62.5" r="2.9" fill="#FF8C00"/>
<circle cx="481.6" cy="48.2" r="2.9" fill="#FF8C00"/>
<circle cx="484.5" cy="46.7" r="2.9" fill="#FF8C00"/>
<circle cx="494.0" cy="45.3" r="2.9" fill="#FF8C00"/>
<circle cx="492.6" cy="48.9" r="2.9" fill="#FF8C00"/>
<circle cx="494.7" cy="50.4" r="2.9" fill="#FF8C00"/>
<circle cx="499.1" cy="51.4" r="2.9" fill="#FF8C00"/>
<circle cx="502.8" cy="54.7" r="2.9" fill="#FF8C00"/>
<circle cx="506.4" cy="46.7" r="2.9" fill="#FF8C00"/>
<circle cx="515.9" cy="48.2" r="2.9" fill="#FF8C00"/>
<circle cx="524.7" cy="51.1" r="2.9" fill="#FF8C00"/>
<circle cx="528.3" cy="49.3" r="2.9" fill="#FF8C00"/>
<circle cx="481.6" cy="57.7" r="2.9" fill="#FF8C00"/>
<circle cx="484.5" cy="56.2" r="2.9" fill="#FF8C00"/>
<circle cx="486.4" cy="68.3" r="2.9" fill="#FF8C00"/>
<circle cx="464.8" cy="68.6" r="2.9" fill="#FF8C00"/>
<circle cx="461.2" cy="83.5" r="2.9" fill="#FF8C00"/>
<circle cx="468.5" cy="84.7" r="2.9" fill="#FF8C00"/>
<circle cx="456.8" cy="102.5" r="2.9" fill="#FF8C00"/>
<circle cx="509.8" cy="101.5" r="2.9" fill="#FF8C00"/>
<circle cx="534.9" cy="100.0" r="2.9" fill="#FF8C00"/>
<circle cx="539.3" cy="63.1" r="2.9" fill="#FF8C00"/>
<circle cx="549.6" cy="41.2" r="2.9" fill="#FF8C00"/>
<circle cx="561.9" cy="49.1" r="2.9" fill="#FF8C00"/>
<circle cx="571.5" cy="48.2" r="2.9" fill="#FF8C00"/>
<circle cx="568.9" cy="60.4" r="2.9" fill="#FF8C00"/>
<circle cx="645.1" cy="59.6" r="2.9" fill="#FF8C00"/>
<circle cx="398.7" cy="57.1" r="2.9" fill="#FF8C00"/>
<circle cx="402.1" cy="56.8" r="2.9" fill="#FF8C00"/>
<circle cx="407.7" cy="57.7" r="2.9" fill="#FF8C00"/>
<circle cx="395.0" cy="59.7" r="2.9" fill="#FF8C00"/>
<circle cx="400.2" cy="62.5" r="2.9" fill="#FF8C00"/>
<circle cx="403.5" cy="61.4" r="2.9" fill="#FF8C00"/>
<circle cx="406.3" cy="59.6" r="2.9" fill="#FF8C00"/>
<circle cx="411.7" cy="59.8" r="2.9" fill="#FF8C00"/>
<circle cx="393.0" cy="65.3" r="2.9" fill="#FF8C00"/>
<circle cx="398.5" cy="66.4" r="2.9" fill="#FF8C00"/>
<circle cx="403.1" cy="65.8" r="2.9" fill="#FF8C00"/>
<circle cx="407.3" cy="65.9" r="2.9" fill="#FF8C00"/>
<circle cx="411.5" cy="64.7" r="2.9" fill="#FF8C00"/>
<circle cx="391.6" cy="71.2" r="2.9" fill="#FF8C00"/>
<circle cx="395.4" cy="70.3" r="2.9" fill="#FF8C00"/>
<circle cx="398.1" cy="68.9" r="2.9" fill="#FF8C00"/>
<circle cx="402.4" cy="68.4" r="2.9" fill="#FF8C00"/>
<circle cx="408.1" cy="69.4" r="2.9" fill="#FF8C00"/>
<circle cx="412.6" cy="69.4" r="2.9" fill="#FF8C00"/>
<circle cx="391.5" cy="75.0" r="2.9" fill="#FF8C00"/>
<circle cx="392.9" cy="73.1" r="2.9" fill="#FF8C00"/>
<circle cx="399.9" cy="73.9" r="2.9" fill="#FF8C00"/>
<circle cx="404.4" cy="73.7" r="2.9" fill="#FF8C00"/>
<circle cx="406.0" cy="74.4" r="2.9" fill="#FF8C00"/>
<circle cx="412.4" cy="73.3" r="2.9" fill="#FF8C00"/>
<circle cx="395.8" cy="79.1" r="2.9" fill="#FF8C00"/>
<circle cx="397.6" cy="77.5" r="2.9" fill="#FF8C00"/>
<circle cx="401.8" cy="77.0" r="2.9" fill="#FF8C00"/>
<circle cx="408.2" cy="77.3" r="2.9" fill="#FF8C00"/>
<circle cx="411.8" cy="78.1" r="2.9" fill="#FF8C00"/>
<circle cx="393.3" cy="83.0" r="2.9" fill="#FF8C00"/>
<circle cx="397.5" cy="82.4" r="2.9" fill="#FF8C00"/>
<circle cx="402.1" cy="81.9" r="2.9" fill="#FF8C00"/>
<circle cx="408.7" cy="83.5" r="2.9" fill="#FF8C00"/>
<circle cx="411.0" cy="83.8" r="2.9" fill="#FF8C00"/>
<circle cx="395.5" cy="87.3" r="2.9" fill="#FF8C00"/>
<circle cx="397.5" cy="88.4" r="2.9" fill="#FF8C00"/>
<circle cx="402.1" cy="86.2" r="2.9" fill="#FF8C00"/>
<circle cx="408.1" cy="86.4" r="2.9" fill="#FF8C00"/>
<circle cx="411.0" cy="85.6" r="2.9" fill="#FF8C00"/>
<circle cx="393.6" cy="91.5" r="2.9" fill="#FF8C00"/>
<circle cx="398.3" cy="91.1" r="2.9" fill="#FF8C00"/>
<circle cx="404.4" cy="91.2" r="2.9" fill="#FF8C00"/>
<circle cx="407.5" cy="92.3" r="2.9" fill="#FF8C00"/>
<circle cx="410.6" cy="90.2" r="2.9" fill="#FF8C00"/>
<circle cx="391.3" cy="96.5" r="2.9" fill="#FF8C00"/>
<circle cx="393.6" cy="94.6" r="2.9" fill="#FF8C00"/>
<circle cx="399.4" cy="96.8" r="2.9" fill="#FF8C00"/>
<circle cx="402.1" cy="96.9" r="2.9" fill="#FF8C00"/>
<circle cx="408.5" cy="95.8" r="2.9" fill="#FF8C00"/>
<circle cx="393.6" cy="100.4" r="2.9" fill="#FF8C00"/>
<circle cx="398.0" cy="100.8" r="2.9" fill="#FF8C00"/>
<circle cx="403.3" cy="99.2" r="2.9" fill="#FF8C00"/>
<circle cx="406.3" cy="100.5" r="2.9" fill="#FF8C00"/>
<circle cx="410.3" cy="99.0" r="2.9" fill="#FF8C00"/>
<circle cx="390.3" cy="105.2" r="2.9" fill="#FF8C00"/>
<circle cx="394.7" cy="103.4" r="2.9" fill="#FF8C00"/>
<circle cx="400.0" cy="103.2" r="2.9" fill="#FF8C00"/>
<circle cx="401.5" cy="103.4" r="2.9" fill="#FF8C00"/>
<circle cx="407.1" cy="102.8" r="2.9" fill="#FF8C00"/>
<circle cx="390.3" cy="107.3" r="2.9" fill="#FF8C00"/>
<circle cx="394.0" cy="109.6" r="2.9" fill="#FF8C00"/>
<circle cx="400.1" cy="108.9" r="2.9" fill="#FF8C00"/>
<circle cx="393.0" cy="113.1" r="2.9" fill="#FF8C00"/>
<circle cx="398.6" cy="113.4" r="2.9" fill="#FF8C00"/>
<circle cx="395.3" cy="118.2" r="2.9" fill="#FF8C00"/>
<circle cx="394.9" cy="46.5" r="2.9" fill="#FF8C00"/>
<circle cx="398.1" cy="46.6" r="2.9" fill="#FF8C00"/>
<circle cx="393.5" cy="50.8" r="2.9" fill="#FF8C00"/>
<circle cx="396.9" cy="50.6" r="2.9" fill="#FF8C00"/>
<circle cx="394.0" cy="53.2" r="2.9" fill="#FF8C00"/>
<path d="M390.2,76.8 L396.6,75.8 L402.9,74.7 L409.3,73.5 L415.7,72.4 L422.1,71.2 L428.4,69.9 L434.8,68.6 L441.2,67.3 L447.6,66.0 L453.9,64.6 L460.3,63.2 L466.7,61.8 L473.0,60.3 L479.4,58.9 L485.8,57.4 L492.2,55.9 L498.5,54.5 L504.9,53.0 L511.3,51.5 L517.6,50.0 L524.0,48.5 L530.4,47.0 L536.8,45.4 L543.1,43.9 L549.5,42.4 L555.9,40.9 L562.3,39.4 L568.6,37.8 L575.0,36.3 L581.4,34.8 L587.7,33.3 L594.1,31.7 L600.5,30.2 L606.9,28.7 L613.2,27.2 L619.6,25.6 L626.0,24.1 L632.4,22.6 L638.7,21.0 L645.1,19.5 L645.1,41.9 L638.7,42.8 L632.4,43.7 L626.0,44.7 L619.6,45.6 L613.2,46.5 L606.9,47.4 L600.5,48.4 L594.1,49.3 L587.7,50.2 L581.4,51.2 L575.0,52.1 L568.6,53.0 L562.3,53.9 L555.9,54.9 L549.5,55.8 L543.1,56.8 L536.8,57.7 L530.4,58.6 L524.0,59.6 L517.6,60.5 L511.3,61.5 L504.9,62.4 L498.5,63.4 L492.2,64.4 L485.8,65.4 L479.4,66.3 L473.0,67.3 L466.7,68.4 L460.3,69.4 L453.9,70.5 L447.6,71.5 L441.2,72.6 L434.8,73.8 L428.4,74.9 L422.1,76.2 L415.7,77.4 L409.3,78.7 L402.9,80.0 L396.6,81.4 L390.2,82.8Z" fill="#999" fill-opacity="0.3"/>
<line x1="390.2" y1="79.8" x2="645.1" y2="30.7" stroke="#FF8C00" stroke-width="2.7"/>
</g>
<path d="M378.7,-0.5 V129.3 H658.0" fill="none" stroke="#000" stroke-width="1.5"/>
<line x1="375.3" y1="129.5" x2="378.7" y2="129.5" stroke="#333" stroke-width="1.2"/>
<text class="tk" x="372.5" y="134.0" text-anchor="end">−2</text>
<line x1="375.3" y1="98.8" x2="378.7" y2="98.8" stroke="#333" stroke-width="1.2"/>
<text class="tk" x="372.5" y="103.3" text-anchor="end">0</text>
<line x1="375.3" y1="68.2" x2="378.7" y2="68.2" stroke="#333" stroke-width="1.2"/>
<text class="tk" x="372.5" y="72.7" text-anchor="end">2</text>
<line x1="375.3" y1="37.5" x2="378.7" y2="37.5" stroke="#333" stroke-width="1.2"/>
<text class="tk" x="372.5" y="42.0" text-anchor="end">4</text>
<line x1="375.3" y1="6.8" x2="378.7" y2="6.8" stroke="#333" stroke-width="1.2"/>
<text class="tk" x="372.5" y="11.3" text-anchor="end">6</text>
<line x1="390.7" y1="129.3" x2="390.7" y2="132.70000000000002" stroke="#333" stroke-width="1.2"/>
<text class="tk" x="390.7" y="143.7" text-anchor="middle">0</text>
<line x1="456.2" y1="129.3" x2="456.2" y2="132.70000000000002" stroke="#333" stroke-width="1.2"/>
<text class="tk" x="456.2" y="143.7" text-anchor="middle">3</text>
<line x1="521.6" y1="129.3" x2="521.6" y2="132.70000000000002" stroke="#333" stroke-width="1.2"/>
<text class="tk" x="521.6" y="143.7" text-anchor="middle">6</text>
<line x1="587.1" y1="129.3" x2="587.1" y2="132.70000000000002" stroke="#333" stroke-width="1.2"/>
<text class="tk" x="587.1" y="143.7" text-anchor="middle">9</text>
<line x1="652.5" y1="129.3" x2="652.5" y2="132.70000000000002" stroke="#333" stroke-width="1.2"/>
<text class="tk" x="652.5" y="143.7" text-anchor="middle">12</text>
<text class="at" x="518.4" y="157.1" text-anchor="middle">GDP per capita (10000 USD)</text>
<text class="at" transform="translate(353.7,64.8) rotate(-90)" text-anchor="middle">ln(ASR) of ureteral cancer</text>
<clipPath id="c2"><rect x="47.8" y="172.5" width="285.0" height="129.8"/></clipPath>
<g clip-path="url(#c2)">
<circle cx="99.4" cy="257.6" r="2.9" fill="#000080"/>
<circle cx="101.5" cy="260.7" r="2.9" fill="#000080"/>
<circle cx="103.5" cy="258.6" r="2.9" fill="#000080"/>
<circle cx="106.6" cy="261.7" r="2.9" fill="#000080"/>
<circle cx="109.6" cy="262.7" r="2.9" fill="#000080"/>
<circle cx="110.7" cy="259.6" r="2.9" fill="#000080"/>
<circle cx="112.7" cy="255.5" r="2.9" fill="#000080"/>
<circle cx="114.7" cy="258.6" r="2.9" fill="#000080"/>
<circle cx="116.8" cy="262.7" r="2.9" fill="#000080"/>
<circle cx="117.8" cy="265.8" r="2.9" fill="#000080"/>
<circle cx="120.9" cy="259.6" r="2.9" fill="#000080"/>
<circle cx="106.6" cy="254.5" r="2.9" fill="#000080"/>
<circle cx="109.6" cy="253.5" r="2.9" fill="#000080"/>
<circle cx="108.6" cy="240.2" r="2.9" fill="#000080"/>
<circle cx="111.7" cy="242.3" r="2.9" fill="#000080"/>
<circle cx="97.4" cy="245.3" r="2.9" fill="#000080"/>
<circle cx="92.3" cy="264.7" r="2.9" fill="#000080"/>
<circle cx="128.0" cy="253.5" r="2.9" fill="#000080"/>
<circle cx="130.1" cy="255.5" r="2.9" fill="#000080"/>
<circle cx="134.2" cy="249.4" r="2.9" fill="#000080"/>
<circle cx="137.2" cy="248.4" r="2.9" fill="#000080"/>
<circle cx="135.2" cy="254.5" r="2.9" fill="#000080"/>
<circle cx="139.3" cy="255.5" r="2.9" fill="#000080"/>
<circle cx="122.9" cy="250.4" r="2.9" fill="#000080"/>
<circle cx="126.0" cy="248.4" r="2.9" fill="#000080"/>
<circle cx="94.1" cy="229.9" r="2.9" fill="#000080"/>
<circle cx="92.0" cy="237.3" r="2.9" fill="#000080"/>
<circle cx="97.0" cy="245.1" r="2.9" fill="#000080"/>
<circle cx="109.0" cy="240.1" r="2.9" fill="#000080"/>
<circle cx="113.3" cy="244.4" r="2.9" fill="#000080"/>
<circle cx="82.1" cy="254.3" r="2.9" fill="#000080"/>
<circle cx="90.6" cy="254.3" r="2.9" fill="#000080"/>
<circle cx="99.1" cy="257.2" r="2.9" fill="#000080"/>
<circle cx="101.9" cy="261.4" r="2.9" fill="#000080"/>
<circle cx="107.6" cy="257.2" r="2.9" fill="#000080"/>
<circle cx="110.4" cy="262.8" r="2.9" fill="#000080"/>
<circle cx="114.7" cy="257.2" r="2.9" fill="#000080"/>
<circle cx="116.1" cy="265.7" r="2.9" fill="#000080"/>
<circle cx="92.0" cy="265.0" r="2.9" fill="#000080"/>
<circle cx="105.5" cy="274.2" r="2.9" fill="#000080"/>
<circle cx="116.8" cy="273.5" r="2.9" fill="#000080"/>
<circle cx="104.8" cy="248.6" r="2.9" fill="#000080"/>
<circle cx="109.0" cy="251.5" r="2.9" fill="#000080"/>
<circle cx="148.3" cy="189.5" r="2.9" fill="#000080"/>
<circle cx="160.0" cy="193.6" r="2.9" fill="#000080"/>
<circle cx="165.8" cy="195.4" r="2.9" fill="#000080"/>
<circle cx="172.7" cy="192.9" r="2.9" fill="#000080"/>
<circle cx="182.4" cy="198.3" r="2.9" fill="#000080"/>
<circle cx="186.5" cy="196.1" r="2.9" fill="#000080"/>
<circle cx="189.5" cy="196.1" r="2.9" fill="#000080"/>
<circle cx="196.0" cy="199.0" r="2.9" fill="#000080"/>
<circle cx="205.5" cy="193.9" r="2.9" fill="#000080"/>
<circle cx="208.4" cy="188.8" r="2.9" fill="#000080"/>
<circle cx="160.3" cy="203.4" r="2.9" fill="#000080"/>
<circle cx="146.4" cy="207.0" r="2.9" fill="#000080"/>
<circle cx="150.0" cy="210.7" r="2.9" fill="#000080"/>
<circle cx="138.4" cy="221.6" r="2.9" fill="#000080"/>
<circle cx="147.1" cy="230.4" r="2.9" fill="#000080"/>
<circle cx="140.5" cy="234.0" r="2.9" fill="#000080"/>
<circle cx="133.2" cy="236.2" r="2.9" fill="#000080"/>
<circle cx="128.1" cy="234.0" r="2.9" fill="#000080"/>
<circle cx="121.6" cy="233.3" r="2.9" fill="#000080"/>
<circle cx="158.8" cy="227.5" r="2.9" fill="#000080"/>
<circle cx="157.3" cy="240.6" r="2.9" fill="#000080"/>
<circle cx="158.1" cy="243.5" r="2.9" fill="#000080"/>
<circle cx="170.5" cy="236.2" r="2.9" fill="#000080"/>
<circle cx="171.9" cy="242.1" r="2.9" fill="#000080"/>
<circle cx="166.8" cy="237.0" r="2.9" fill="#000080"/>
<circle cx="180.7" cy="230.4" r="2.9" fill="#000080"/>
<circle cx="185.1" cy="205.6" r="2.9" fill="#000080"/>
<circle cx="190.9" cy="201.2" r="2.9" fill="#000080"/>
<circle cx="199.7" cy="210.7" r="2.9" fill="#000080"/>
<circle cx="204.8" cy="218.7" r="2.9" fill="#000080"/>
<circle cx="212.1" cy="218.7" r="2.9" fill="#000080"/>
<circle cx="208.4" cy="230.4" r="2.9" fill="#000080"/>
<circle cx="211.4" cy="230.4" r="2.9" fill="#000080"/>
<circle cx="192.4" cy="225.3" r="2.9" fill="#000080"/>
<circle cx="199.7" cy="236.2" r="2.9" fill="#000080"/>
<circle cx="195.3" cy="243.5" r="2.9" fill="#000080"/>
<circle cx="201.9" cy="245.7" r="2.9" fill="#000080"/>
<circle cx="205.5" cy="242.1" r="2.9" fill="#000080"/>
<circle cx="188.0" cy="252.3" r="2.9" fill="#000080"/>
<circle cx="185.8" cy="272.0" r="2.9" fill="#000080"/>
<circle cx="180.7" cy="243.5" r="2.9" fill="#000080"/>
<circle cx="161.7" cy="256.7" r="2.9" fill="#000080"/>
<circle cx="154.4" cy="266.9" r="2.9" fill="#000080"/>
<circle cx="150.8" cy="272.7" r="2.9" fill="#000080"/>
<circle cx="144.2" cy="266.9" r="2.9" fill="#000080"/>
<circle cx="139.1" cy="266.2" r="2.9" fill="#000080"/>
<circle cx="139.8" cy="255.9" r="2.9" fill="#000080"/>
<circle cx="135.4" cy="254.5" r="2.9" fill="#000080"/>
<circle cx="134.0" cy="249.4" r="2.9" fill="#000080"/>
<circle cx="136.9" cy="247.9" r="2.9" fill="#000080"/>
<circle cx="143.5" cy="247.9" r="2.9" fill="#000080"/>
<circle cx="128.1" cy="253.8" r="2.9" fill="#000080"/>
<circle cx="120.8" cy="259.6" r="2.9" fill="#000080"/>
<circle cx="118.6" cy="264.0" r="2.9" fill="#000080"/>
<circle cx="117.9" cy="274.2" r="2.9" fill="#000080"/>
<circle cx="122.3" cy="272.7" r="2.9" fill="#000080"/>
<circle cx="156.6" cy="250.8" r="2.9" fill="#000080"/>
<circle cx="148.6" cy="240.6" r="2.9" fill="#000080"/>
<circle cx="151.5" cy="237.7" r="2.9" fill="#000080"/>
<circle cx="211.4" cy="207.0" r="2.9" fill="#000080"/>
<circle cx="233.9" cy="178.6" r="2.9" fill="#000080"/>
<circle cx="256.5" cy="187.8" r="2.9" fill="#000080"/>
<circle cx="219.3" cy="189.8" r="2.9" fill="#000080"/>
<circle cx="297.4" cy="189.8" r="2.9" fill="#000080"/>
<circle cx="239.7" cy="198.3" r="2.9" fill="#000080"/>
<circle cx="241.9" cy="201.2" r="2.9" fill="#000080"/>
<circle cx="248.5" cy="195.4" r="2.9" fill="#000080"/>
<circle cx="253.6" cy="194.6" r="2.9" fill="#000080"/>
<circle cx="260.2" cy="197.5" r="2.9" fill="#000080"/>
<circle cx="268.9" cy="197.1" r="2.9" fill="#000080"/>
<circle cx="266.0" cy="201.9" r="2.9" fill="#000080"/>
<circle cx="280.6" cy="199.0" r="2.9" fill="#000080"/>
<circle cx="299.6" cy="197.5" r="2.9" fill="#000080"/>
<circle cx="233.9" cy="204.1" r="2.9" fill="#000080"/>
<circle cx="247.0" cy="204.1" r="2.9" fill="#000080"/>
<circle cx="260.2" cy="204.8" r="2.9" fill="#000080"/>
<circle cx="274.0" cy="207.0" r="2.9" fill="#000080"/>
<circle cx="308.4" cy="205.3" r="2.9" fill="#000080"/>
<circle cx="222.9" cy="205.6" r="2.9" fill="#000080"/>
<circle cx="220.0" cy="209.2" r="2.9" fill="#000080"/>
<circle cx="221.5" cy="211.4" r="2.9" fill="#000080"/>
<circle cx="241.9" cy="210.2" r="2.9" fill="#000080"/>
<circle cx="247.8" cy="207.8" r="2.9" fill="#000080"/>
<circle cx="228.1" cy="220.9" r="2.9" fill="#000080"/>
<circle cx="223.7" cy="224.6" r="2.9" fill="#000080"/>
<circle cx="230.2" cy="228.2" r="2.9" fill="#000080"/>
<circle cx="240.5" cy="226.7" r="2.9" fill="#000080"/>
<circle cx="244.1" cy="225.3" r="2.9" fill="#000080"/>
<circle cx="248.5" cy="220.9" r="2.9" fill="#000080"/>
<circle cx="257.3" cy="219.4" r="2.9" fill="#000080"/>
<circle cx="258.7" cy="215.8" r="2.9" fill="#000080"/>
<circle cx="266.0" cy="215.1" r="2.9" fill="#000080"/>
<circle cx="271.1" cy="218.4" r="2.9" fill="#000080"/>
<circle cx="275.5" cy="223.1" r="2.9" fill="#000080"/>
<circle cx="282.1" cy="219.0" r="2.9" fill="#000080"/>
<circle cx="284.3" cy="212.9" r="2.9" fill="#000080"/>
<circle cx="289.4" cy="215.1" r="2.9" fill="#000080"/>
<circle cx="293.0" cy="217.5" r="2.9" fill="#000080"/>
<circle cx="295.2" cy="209.2" r="2.9" fill="#000080"/>
<circle cx="298.1" cy="210.7" r="2.9" fill="#000080"/>
<circle cx="304.0" cy="215.8" r="2.9" fill="#000080"/>
<circle cx="305.4" cy="218.0" r="2.9" fill="#000080"/>
<circle cx="214.9" cy="229.7" r="2.9" fill="#000080"/>
<circle cx="219.3" cy="233.3" r="2.9" fill="#000080"/>
<circle cx="252.9" cy="235.9" r="2.9" fill="#000080"/>
<circle cx="221.5" cy="249.4" r="2.9" fill="#000080"/>
<circle cx="234.6" cy="254.5" r="2.9" fill="#000080"/>
<circle cx="231.0" cy="215.8" r="2.9" fill="#000080"/>
<circle cx="320.5" cy="214.9" r="2.9" fill="#000080"/>
<path d="M81.7,248.3 L87.7,247.0 L93.6,245.6 L99.6,244.3 L105.6,243.0 L111.6,241.6 L117.5,240.3 L123.5,238.9 L129.5,237.6 L135.5,236.2 L141.4,234.8 L147.4,233.4 L153.4,232.1 L159.3,230.7 L165.3,229.3 L171.3,227.8 L177.3,226.4 L183.2,225.0 L189.2,223.5 L195.2,222.0 L201.2,220.5 L207.1,219.0 L213.1,217.4 L219.1,215.8 L225.0,214.2 L231.0,212.6 L237.0,210.9 L243.0,209.2 L248.9,207.5 L254.9,205.8 L260.9,204.1 L266.8,202.3 L272.8,200.6 L278.8,198.8 L284.8,197.0 L290.7,195.2 L296.7,193.4 L302.7,191.7 L308.7,189.9 L314.6,188.0 L320.6,186.2 L320.6,197.6 L314.6,198.9 L308.7,200.3 L302.7,201.6 L296.7,203.0 L290.7,204.3 L284.8,205.7 L278.8,207.1 L272.8,208.5 L266.8,209.9 L260.9,211.3 L254.9,212.7 L248.9,214.1 L243.0,215.6 L237.0,217.1 L231.0,218.6 L225.0,220.1 L219.1,221.6 L213.1,223.2 L207.1,224.8 L201.2,226.4 L195.2,228.1 L189.2,229.7 L183.2,231.4 L177.3,233.1 L171.3,234.8 L165.3,236.6 L159.3,238.3 L153.4,240.1 L147.4,241.8 L141.4,243.6 L135.5,245.4 L129.5,247.2 L123.5,249.0 L117.5,250.8 L111.6,252.6 L105.6,254.4 L99.6,256.2 L93.6,258.1 L87.7,259.9 L81.7,261.7Z" fill="#999" fill-opacity="0.3"/>
<line x1="81.7" y1="255.0" x2="320.6" y2="191.9" stroke="#000080" stroke-width="2.7"/>
<circle cx="106.2" cy="189.3" r="2.9" fill="#FF8C00"/>
<circle cx="75.7" cy="196.1" r="2.9" fill="#FF8C00"/>
<circle cx="73.5" cy="201.8" r="2.9" fill="#FF8C00"/>
<circle cx="82.1" cy="199.7" r="2.9" fill="#FF8C00"/>
<circle cx="110.4" cy="203.9" r="2.9" fill="#FF8C00"/>
<circle cx="62.2" cy="207.5" r="2.9" fill="#FF8C00"/>
<circle cx="66.5" cy="209.6" r="2.9" fill="#FF8C00"/>
<circle cx="84.9" cy="211.7" r="2.9" fill="#FF8C00"/>
<circle cx="62.2" cy="218.8" r="2.9" fill="#FF8C00"/>
<circle cx="69.3" cy="218.1" r="2.9" fill="#FF8C00"/>
<circle cx="82.1" cy="220.3" r="2.9" fill="#FF8C00"/>
<circle cx="85.6" cy="219.5" r="2.9" fill="#FF8C00"/>
<circle cx="97.7" cy="225.2" r="2.9" fill="#FF8C00"/>
<circle cx="95.5" cy="228.1" r="2.9" fill="#FF8C00"/>
<circle cx="87.0" cy="230.9" r="2.9" fill="#FF8C00"/>
<circle cx="90.6" cy="234.4" r="2.9" fill="#FF8C00"/>
<circle cx="113.3" cy="226.6" r="2.9" fill="#FF8C00"/>
<circle cx="116.1" cy="221.0" r="2.9" fill="#FF8C00"/>
<circle cx="117.5" cy="213.2" r="2.9" fill="#FF8C00"/>
<circle cx="103.4" cy="242.3" r="2.9" fill="#FF8C00"/>
<circle cx="90.6" cy="249.3" r="2.9" fill="#FF8C00"/>
<circle cx="74.3" cy="256.4" r="2.9" fill="#FF8C00"/>
<circle cx="80.6" cy="262.1" r="2.9" fill="#FF8C00"/>
<circle cx="86.3" cy="262.8" r="2.9" fill="#FF8C00"/>
<circle cx="88.4" cy="257.2" r="2.9" fill="#FF8C00"/>
<circle cx="93.4" cy="258.6" r="2.9" fill="#FF8C00"/>
<circle cx="92.0" cy="269.9" r="2.9" fill="#FF8C00"/>
<circle cx="99.8" cy="273.5" r="2.9" fill="#FF8C00"/>
<circle cx="77.8" cy="272.8" r="2.9" fill="#FF8C00"/>
<circle cx="80.6" cy="273.5" r="2.9" fill="#FF8C00"/>
<circle cx="114.7" cy="249.3" r="2.9" fill="#FF8C00"/>
<circle cx="63.6" cy="295.5" r="2.9" fill="#FF8C00"/>
<circle cx="61.5" cy="293.3" r="2.9" fill="#FF8C00"/>
<circle cx="147.8" cy="198.3" r="2.9" fill="#FF8C00"/>
<circle cx="135.4" cy="204.4" r="2.9" fill="#FF8C00"/>
<circle cx="141.3" cy="206.3" r="2.9" fill="#FF8C00"/>
<circle cx="139.1" cy="210.0" r="2.9" fill="#FF8C00"/>
<circle cx="140.5" cy="211.4" r="2.9" fill="#FF8C00"/>
<circle cx="120.1" cy="212.9" r="2.9" fill="#FF8C00"/>
<circle cx="127.4" cy="217.3" r="2.9" fill="#FF8C00"/>
<circle cx="131.1" cy="215.1" r="2.9" fill="#FF8C00"/>
<circle cx="137.6" cy="216.5" r="2.9" fill="#FF8C00"/>
<circle cx="150.0" cy="210.0" r="2.9" fill="#FF8C00"/>
<circle cx="155.1" cy="206.3" r="2.9" fill="#FF8C00"/>
<circle cx="161.7" cy="207.0" r="2.9" fill="#FF8C00"/>
<circle cx="163.9" cy="207.8" r="2.9" fill="#FF8C00"/>
<circle cx="169.7" cy="203.4" r="2.9" fill="#FF8C00"/>
<circle cx="173.4" cy="204.1" r="2.9" fill="#FF8C00"/>
<circle cx="177.8" cy="204.1" r="2.9" fill="#FF8C00"/>
<circle cx="152.2" cy="216.5" r="2.9" fill="#FF8C00"/>
<circle cx="155.9" cy="215.8" r="2.9" fill="#FF8C00"/>
<circle cx="151.5" cy="222.4" r="2.9" fill="#FF8C00"/>
<circle cx="154.4" cy="220.2" r="2.9" fill="#FF8C00"/>
<circle cx="153.0" cy="228.9" r="2.9" fill="#FF8C00"/>
<circle cx="128.9" cy="223.8" r="2.9" fill="#FF8C00"/>
<circle cx="129.6" cy="230.4" r="2.9" fill="#FF8C00"/>
<circle cx="163.9" cy="227.5" r="2.9" fill="#FF8C00"/>
<circle cx="169.7" cy="228.9" r="2.9" fill="#FF8C00"/>
<circle cx="174.9" cy="218.7" r="2.9" fill="#FF8C00"/>
<circle cx="176.3" cy="220.9" r="2.9" fill="#FF8C00"/>
<circle cx="174.9" cy="224.6" r="2.9" fill="#FF8C00"/>
<circle cx="177.8" cy="214.3" r="2.9" fill="#FF8C00"/>
<circle cx="185.1" cy="211.4" r="2.9" fill="#FF8C00"/>
<circle cx="192.4" cy="212.9" r="2.9" fill="#FF8C00"/>
<circle cx="188.7" cy="219.0" r="2.9" fill="#FF8C00"/>
<circle cx="199.7" cy="215.5" r="2.9" fill="#FF8C00"/>
<circle cx="116.5" cy="220.2" r="2.9" fill="#FF8C00"/>
<circle cx="180.0" cy="242.1" r="2.9" fill="#FF8C00"/>
<circle cx="150.0" cy="250.1" r="2.9" fill="#FF8C00"/>
<circle cx="153.7" cy="246.5" r="2.9" fill="#FF8C00"/>
<circle cx="117.9" cy="240.6" r="2.9" fill="#FF8C00"/>
<circle cx="117.2" cy="245.0" r="2.9" fill="#FF8C00"/>
<circle cx="117.9" cy="250.8" r="2.9" fill="#FF8C00"/>
<circle cx="225.4" cy="215.5" r="2.9" fill="#FF8C00"/>
<circle cx="65.1" cy="219.5" r="2.9" fill="#FF8C00"/>
<circle cx="70.2" cy="218.8" r="2.9" fill="#FF8C00"/>
<circle cx="63.1" cy="222.7" r="2.9" fill="#FF8C00"/>
<circle cx="64.6" cy="222.0" r="2.9" fill="#FF8C00"/>
<circle cx="69.4" cy="221.4" r="2.9" fill="#FF8C00"/>
<circle cx="63.1" cy="225.3" r="2.9" fill="#FF8C00"/>
<circle cx="66.5" cy="225.3" r="2.9" fill="#FF8C00"/>
<circle cx="70.6" cy="227.0" r="2.9" fill="#FF8C00"/>
<circle cx="67.0" cy="229.3" r="2.9" fill="#FF8C00"/>
<circle cx="68.2" cy="228.6" r="2.9" fill="#FF8C00"/>
<circle cx="73.5" cy="230.8" r="2.9" fill="#FF8C00"/>
<circle cx="76.6" cy="229.6" r="2.9" fill="#FF8C00"/>
<circle cx="65.4" cy="233.4" r="2.9" fill="#FF8C00"/>
<circle cx="68.9" cy="232.2" r="2.9" fill="#FF8C00"/>
<circle cx="71.9" cy="234.0" r="2.9" fill="#FF8C00"/>
<circle cx="77.3" cy="232.9" r="2.9" fill="#FF8C00"/>
<circle cx="80.7" cy="233.6" r="2.9" fill="#FF8C00"/>
<circle cx="84.8" cy="234.4" r="2.9" fill="#FF8C00"/>
<circle cx="63.2" cy="236.8" r="2.9" fill="#FF8C00"/>
<circle cx="65.5" cy="236.2" r="2.9" fill="#FF8C00"/>
<circle cx="70.3" cy="235.9" r="2.9" fill="#FF8C00"/>
<circle cx="71.9" cy="237.6" r="2.9" fill="#FF8C00"/>
<circle cx="77.3" cy="236.8" r="2.9" fill="#FF8C00"/>
<circle cx="81.0" cy="235.7" r="2.9" fill="#FF8C00"/>
<circle cx="83.2" cy="236.3" r="2.9" fill="#FF8C00"/>
<circle cx="63.2" cy="241.6" r="2.9" fill="#FF8C00"/>
<circle cx="66.4" cy="240.3" r="2.9" fill="#FF8C00"/>
<circle cx="68.8" cy="241.6" r="2.9" fill="#FF8C00"/>
<circle cx="73.1" cy="241.0" r="2.9" fill="#FF8C00"/>
<circle cx="75.4" cy="239.7" r="2.9" fill="#FF8C00"/>
<circle cx="81.1" cy="241.1" r="2.9" fill="#FF8C00"/>
<circle cx="84.8" cy="240.7" r="2.9" fill="#FF8C00"/>
<circle cx="87.2" cy="240.6" r="2.9" fill="#FF8C00"/>
<circle cx="62.3" cy="243.4" r="2.9" fill="#FF8C00"/>
<circle cx="66.5" cy="242.8" r="2.9" fill="#FF8C00"/>
<circle cx="69.9" cy="245.1" r="2.9" fill="#FF8C00"/>
<circle cx="71.8" cy="244.2" r="2.9" fill="#FF8C00"/>
<circle cx="77.0" cy="244.9" r="2.9" fill="#FF8C00"/>
<circle cx="80.4" cy="243.4" r="2.9" fill="#FF8C00"/>
<circle cx="83.6" cy="245.2" r="2.9" fill="#FF8C00"/>
<circle cx="64.9" cy="248.5" r="2.9" fill="#FF8C00"/>
<circle cx="69.8" cy="246.7" r="2.9" fill="#FF8C00"/>
<circle cx="73.1" cy="247.2" r="2.9" fill="#FF8C00"/>
<circle cx="76.6" cy="246.9" r="2.9" fill="#FF8C00"/>
<circle cx="79.4" cy="246.8" r="2.9" fill="#FF8C00"/>
<circle cx="83.5" cy="248.1" r="2.9" fill="#FF8C00"/>
<circle cx="62.9" cy="251.9" r="2.9" fill="#FF8C00"/>
<circle cx="64.6" cy="251.1" r="2.9" fill="#FF8C00"/>
<circle cx="68.3" cy="251.9" r="2.9" fill="#FF8C00"/>
<circle cx="63.3" cy="253.8" r="2.9" fill="#FF8C00"/>
<circle cx="66.1" cy="254.8" r="2.9" fill="#FF8C00"/>
<circle cx="70.0" cy="256.0" r="2.9" fill="#FF8C00"/>
<circle cx="61.1" cy="259.2" r="2.9" fill="#FF8C00"/>
<circle cx="66.5" cy="258.3" r="2.9" fill="#FF8C00"/>
<circle cx="69.7" cy="257.2" r="2.9" fill="#FF8C00"/>
<circle cx="59.4" cy="262.6" r="2.9" fill="#FF8C00"/>
<circle cx="62.1" cy="261.3" r="2.9" fill="#FF8C00"/>
<circle cx="65.5" cy="262.0" r="2.9" fill="#FF8C00"/>
<circle cx="69.7" cy="263.2" r="2.9" fill="#FF8C00"/>
<circle cx="59.1" cy="266.1" r="2.9" fill="#FF8C00"/>
<circle cx="61.6" cy="266.7" r="2.9" fill="#FF8C00"/>
<circle cx="65.5" cy="265.9" r="2.9" fill="#FF8C00"/>
<circle cx="70.2" cy="266.8" r="2.9" fill="#FF8C00"/>
<circle cx="59.2" cy="269.1" r="2.9" fill="#FF8C00"/>
<circle cx="61.2" cy="270.3" r="2.9" fill="#FF8C00"/>
<circle cx="66.3" cy="268.5" r="2.9" fill="#FF8C00"/>
<circle cx="69.0" cy="269.6" r="2.9" fill="#FF8C00"/>
<circle cx="63.3" cy="272.7" r="2.9" fill="#FF8C00"/>
<circle cx="65.6" cy="273.1" r="2.9" fill="#FF8C00"/>
<circle cx="68.8" cy="272.0" r="2.9" fill="#FF8C00"/>
<circle cx="62.7" cy="275.7" r="2.9" fill="#FF8C00"/>
<circle cx="64.6" cy="276.5" r="2.9" fill="#FF8C00"/>
<circle cx="68.4" cy="275.9" r="2.9" fill="#FF8C00"/>
<circle cx="63.0" cy="280.9" r="2.9" fill="#FF8C00"/>
<circle cx="66.9" cy="281.0" r="2.9" fill="#FF8C00"/>
<circle cx="68.2" cy="280.2" r="2.9" fill="#FF8C00"/>
<circle cx="61.6" cy="283.2" r="2.9" fill="#FF8C00"/>
<circle cx="65.3" cy="283.9" r="2.9" fill="#FF8C00"/>
<circle cx="63.3" cy="287.3" r="2.9" fill="#FF8C00"/>
<circle cx="65.6" cy="287.7" r="2.9" fill="#FF8C00"/>
<circle cx="66.3" cy="290.1" r="2.9" fill="#FF8C00"/>
<path d="M60.2,248.2 L64.3,247.0 L68.4,245.7 L72.6,244.4 L76.7,243.1 L80.8,241.8 L84.9,240.5 L89.0,239.1 L93.1,237.8 L97.3,236.4 L101.4,235.0 L105.5,233.6 L109.6,232.1 L113.7,230.6 L117.8,229.1 L122.0,227.6 L126.1,226.1 L130.2,224.5 L134.3,223.0 L138.4,221.4 L142.6,219.8 L146.7,218.2 L150.8,216.6 L154.9,215.0 L159.0,213.3 L163.1,211.7 L167.3,210.0 L171.4,208.4 L175.5,206.7 L179.6,205.1 L183.7,203.4 L187.8,201.8 L192.0,200.1 L196.1,198.4 L200.2,196.8 L204.3,195.1 L208.4,193.4 L212.5,191.7 L216.7,190.1 L220.8,188.4 L224.9,186.7 L224.9,202.7 L220.8,203.9 L216.7,205.1 L212.5,206.3 L208.4,207.5 L204.3,208.7 L200.2,209.9 L196.1,211.1 L192.0,212.3 L187.8,213.6 L183.7,214.8 L179.6,216.0 L175.5,217.2 L171.4,218.4 L167.3,219.7 L163.1,220.9 L159.0,222.2 L154.9,223.4 L150.8,224.7 L146.7,225.9 L142.6,227.2 L138.4,228.5 L134.3,229.8 L130.2,231.1 L126.1,232.4 L122.0,233.8 L117.8,235.1 L113.7,236.5 L109.6,237.9 L105.5,239.4 L101.4,240.8 L97.3,242.3 L93.1,243.8 L89.0,245.3 L84.9,246.8 L80.8,248.4 L76.7,250.0 L72.6,251.6 L68.4,253.2 L64.3,254.8 L60.2,256.4Z" fill="#999" fill-opacity="0.3"/>
<line x1="60.2" y1="252.3" x2="224.9" y2="194.7" stroke="#FF8C00" stroke-width="2.7"/>
</g>
<path d="M47.8,172.5 V302.3 H332.8" fill="none" stroke="#000" stroke-width="1.5"/>
<line x1="44.4" y1="266.1" x2="47.8" y2="266.1" stroke="#333" stroke-width="1.2"/>
<text class="tk" x="41.6" y="270.6" text-anchor="end">0</text>
<line x1="44.4" y1="229.8" x2="47.8" y2="229.8" stroke="#333" stroke-width="1.2"/>
<text class="tk" x="41.6" y="234.3" text-anchor="end">2</text>
<line x1="44.4" y1="193.5" x2="47.8" y2="193.5" stroke="#333" stroke-width="1.2"/>
<text class="tk" x="41.6" y="198.0" text-anchor="end">4</text>
<line x1="59.5" y1="302.3" x2="59.5" y2="305.7" stroke="#333" stroke-width="1.2"/>
<text class="tk" x="59.5" y="316.7" text-anchor="middle">0</text>
<line x1="137.1" y1="302.3" x2="137.1" y2="305.7" stroke="#333" stroke-width="1.2"/>
<text class="tk" x="137.1" y="316.7" text-anchor="middle">10</text>
<line x1="214.6" y1="302.3" x2="214.6" y2="305.7" stroke="#333" stroke-width="1.2"/>
<text class="tk" x="214.6" y="316.7" text-anchor="middle">20</text>
<line x1="292.2" y1="302.3" x2="292.2" y2="305.7" stroke="#333" stroke-width="1.2"/>
<text class="tk" x="292.2" y="316.7" text-anchor="middle">30</text>
<text class="at" x="190.3" y="330.1" text-anchor="middle">Prevalence of current smoking (%)</text>
<text class="at" transform="translate(29.6,237.8) rotate(-90)" text-anchor="middle">ln(ASR) of ureteral cancer</text>
<clipPath id="c3"><rect x="372.5" y="172.5" width="285.0" height="129.8"/></clipPath>
<g clip-path="url(#c3)">
<circle cx="394.0" cy="200.4" r="2.9" fill="#000080"/>
<circle cx="394.7" cy="206.1" r="2.9" fill="#000080"/>
<circle cx="400.4" cy="206.1" r="2.9" fill="#000080"/>
<circle cx="411.0" cy="207.5" r="2.9" fill="#000080"/>
<circle cx="408.9" cy="211.0" r="2.9" fill="#000080"/>
<circle cx="403.9" cy="213.4" r="2.9" fill="#000080"/>
<circle cx="423.8" cy="214.6" r="2.9" fill="#000080"/>
<circle cx="424.5" cy="218.8" r="2.9" fill="#000080"/>
<circle cx="428.1" cy="221.0" r="2.9" fill="#000080"/>
<circle cx="438.7" cy="205.4" r="2.9" fill="#000080"/>
<circle cx="397.5" cy="220.3" r="2.9" fill="#000080"/>
<circle cx="401.8" cy="225.2" r="2.9" fill="#000080"/>
<circle cx="401.1" cy="230.2" r="2.9" fill="#000080"/>
<circle cx="428.8" cy="230.2" r="2.9" fill="#000080"/>
<circle cx="400.4" cy="238.7" r="2.9" fill="#000080"/>
<circle cx="384.1" cy="250.1" r="2.9" fill="#000080"/>
<circle cx="384.8" cy="255.7" r="2.9" fill="#000080"/>
<circle cx="390.5" cy="254.3" r="2.9" fill="#000080"/>
<circle cx="393.3" cy="255.7" r="2.9" fill="#000080"/>
<circle cx="418.8" cy="256.4" r="2.9" fill="#000080"/>
<circle cx="421.7" cy="260.0" r="2.9" fill="#000080"/>
<circle cx="430.2" cy="265.7" r="2.9" fill="#000080"/>
<circle cx="434.4" cy="261.4" r="2.9" fill="#000080"/>
<circle cx="438.7" cy="265.7" r="2.9" fill="#000080"/>
<circle cx="431.6" cy="246.5" r="2.9" fill="#000080"/>
<circle cx="434.4" cy="248.6" r="2.9" fill="#000080"/>
<circle cx="423.8" cy="247.2" r="2.9" fill="#000080"/>
<circle cx="404.6" cy="272.1" r="2.9" fill="#000080"/>
<circle cx="417.4" cy="272.8" r="2.9" fill="#000080"/>
<circle cx="505.9" cy="195.4" r="2.9" fill="#000080"/>
<circle cx="532.9" cy="199.7" r="2.9" fill="#000080"/>
<circle cx="537.3" cy="198.3" r="2.9" fill="#000080"/>
<circle cx="459.9" cy="203.4" r="2.9" fill="#000080"/>
<circle cx="462.8" cy="204.8" r="2.9" fill="#000080"/>
<circle cx="455.5" cy="210.7" r="2.9" fill="#000080"/>
<circle cx="476.0" cy="214.6" r="2.9" fill="#000080"/>
<circle cx="505.2" cy="210.2" r="2.9" fill="#000080"/>
<circle cx="513.9" cy="210.7" r="2.9" fill="#000080"/>
<circle cx="527.8" cy="207.0" r="2.9" fill="#000080"/>
<circle cx="477.4" cy="220.9" r="2.9" fill="#000080"/>
<circle cx="468.7" cy="229.7" r="2.9" fill="#000080"/>
<circle cx="502.2" cy="222.4" r="2.9" fill="#000080"/>
<circle cx="500.8" cy="230.4" r="2.9" fill="#000080"/>
<circle cx="507.3" cy="230.4" r="2.9" fill="#000080"/>
<circle cx="512.5" cy="223.8" r="2.9" fill="#000080"/>
<circle cx="518.3" cy="223.1" r="2.9" fill="#000080"/>
<circle cx="513.9" cy="229.7" r="2.9" fill="#000080"/>
<circle cx="516.8" cy="231.9" r="2.9" fill="#000080"/>
<circle cx="519.8" cy="230.4" r="2.9" fill="#000080"/>
<circle cx="518.3" cy="237.0" r="2.9" fill="#000080"/>
<circle cx="521.2" cy="239.9" r="2.9" fill="#000080"/>
<circle cx="524.1" cy="243.5" r="2.9" fill="#000080"/>
<circle cx="452.6" cy="242.1" r="2.9" fill="#000080"/>
<circle cx="459.9" cy="242.8" r="2.9" fill="#000080"/>
<circle cx="462.8" cy="244.3" r="2.9" fill="#000080"/>
<circle cx="457.0" cy="247.9" r="2.9" fill="#000080"/>
<circle cx="459.2" cy="248.6" r="2.9" fill="#000080"/>
<circle cx="465.0" cy="250.8" r="2.9" fill="#000080"/>
<circle cx="451.1" cy="250.8" r="2.9" fill="#000080"/>
<circle cx="459.9" cy="254.5" r="2.9" fill="#000080"/>
<circle cx="454.1" cy="255.9" r="2.9" fill="#000080"/>
<circle cx="466.5" cy="256.7" r="2.9" fill="#000080"/>
<circle cx="455.5" cy="262.5" r="2.9" fill="#000080"/>
<circle cx="457.0" cy="259.6" r="2.9" fill="#000080"/>
<circle cx="477.4" cy="254.5" r="2.9" fill="#000080"/>
<circle cx="478.9" cy="258.1" r="2.9" fill="#000080"/>
<circle cx="481.8" cy="247.9" r="2.9" fill="#000080"/>
<circle cx="484.7" cy="251.6" r="2.9" fill="#000080"/>
<circle cx="488.4" cy="252.3" r="2.9" fill="#000080"/>
<circle cx="486.2" cy="242.8" r="2.9" fill="#000080"/>
<circle cx="489.1" cy="242.1" r="2.9" fill="#000080"/>
<circle cx="493.5" cy="245.0" r="2.9" fill="#000080"/>
<circle cx="488.4" cy="235.5" r="2.9" fill="#000080"/>
<circle cx="509.5" cy="242.8" r="2.9" fill="#000080"/>
<circle cx="500.8" cy="251.6" r="2.9" fill="#000080"/>
<circle cx="513.2" cy="249.4" r="2.9" fill="#000080"/>
<circle cx="520.5" cy="249.4" r="2.9" fill="#000080"/>
<circle cx="505.2" cy="261.1" r="2.9" fill="#000080"/>
<circle cx="504.4" cy="264.7" r="2.9" fill="#000080"/>
<circle cx="479.6" cy="264.7" r="2.9" fill="#000080"/>
<circle cx="480.3" cy="266.2" r="2.9" fill="#000080"/>
<circle cx="489.1" cy="266.9" r="2.9" fill="#000080"/>
<circle cx="490.6" cy="272.0" r="2.9" fill="#000080"/>
<circle cx="500.8" cy="272.7" r="2.9" fill="#000080"/>
<circle cx="460.6" cy="274.2" r="2.9" fill="#000080"/>
<circle cx="468.7" cy="274.2" r="2.9" fill="#000080"/>
<circle cx="535.8" cy="266.9" r="2.9" fill="#000080"/>
<circle cx="474.5" cy="234.8" r="2.9" fill="#000080"/>
<circle cx="483.3" cy="236.2" r="2.9" fill="#000080"/>
<circle cx="550.0" cy="178.4" r="2.9" fill="#000080"/>
<circle cx="540.5" cy="189.3" r="2.9" fill="#000080"/>
<circle cx="550.5" cy="192.4" r="2.9" fill="#000080"/>
<circle cx="554.2" cy="195.7" r="2.9" fill="#000080"/>
<circle cx="557.8" cy="193.9" r="2.9" fill="#000080"/>
<circle cx="557.8" cy="197.5" r="2.9" fill="#000080"/>
<circle cx="539.0" cy="199.0" r="2.9" fill="#000080"/>
<circle cx="564.2" cy="200.3" r="2.9" fill="#000080"/>
<circle cx="562.4" cy="204.8" r="2.9" fill="#000080"/>
<circle cx="570.6" cy="191.2" r="2.9" fill="#000080"/>
<circle cx="571.5" cy="193.9" r="2.9" fill="#000080"/>
<circle cx="569.7" cy="199.4" r="2.9" fill="#000080"/>
<circle cx="570.6" cy="203.9" r="2.9" fill="#000080"/>
<circle cx="578.8" cy="189.9" r="2.9" fill="#000080"/>
<circle cx="577.9" cy="194.8" r="2.9" fill="#000080"/>
<circle cx="581.5" cy="196.6" r="2.9" fill="#000080"/>
<circle cx="583.4" cy="194.8" r="2.9" fill="#000080"/>
<circle cx="578.8" cy="204.8" r="2.9" fill="#000080"/>
<circle cx="555.1" cy="209.4" r="2.9" fill="#000080"/>
<circle cx="545.6" cy="215.2" r="2.9" fill="#000080"/>
<circle cx="595.2" cy="189.3" r="2.9" fill="#000080"/>
<circle cx="598.0" cy="187.5" r="2.9" fill="#000080"/>
<circle cx="603.4" cy="189.3" r="2.9" fill="#000080"/>
<circle cx="594.3" cy="195.4" r="2.9" fill="#000080"/>
<circle cx="602.5" cy="203.9" r="2.9" fill="#000080"/>
<circle cx="603.4" cy="206.7" r="2.9" fill="#000080"/>
<circle cx="608.0" cy="204.8" r="2.9" fill="#000080"/>
<circle cx="611.6" cy="203.0" r="2.9" fill="#000080"/>
<circle cx="620.8" cy="195.4" r="2.9" fill="#000080"/>
<circle cx="619.9" cy="199.7" r="2.9" fill="#000080"/>
<circle cx="632.6" cy="201.2" r="2.9" fill="#000080"/>
<circle cx="644.5" cy="197.5" r="2.9" fill="#000080"/>
<circle cx="562.4" cy="218.5" r="2.9" fill="#000080"/>
<circle cx="561.5" cy="225.8" r="2.9" fill="#000080"/>
<circle cx="559.6" cy="233.1" r="2.9" fill="#000080"/>
<circle cx="558.7" cy="242.3" r="2.9" fill="#000080"/>
<circle cx="551.8" cy="246.5" r="2.9" fill="#000080"/>
<circle cx="576.6" cy="220.7" r="2.9" fill="#000080"/>
<circle cx="586.1" cy="218.5" r="2.9" fill="#000080"/>
<circle cx="587.0" cy="215.8" r="2.9" fill="#000080"/>
<circle cx="597.0" cy="218.0" r="2.9" fill="#000080"/>
<circle cx="605.3" cy="215.8" r="2.9" fill="#000080"/>
<circle cx="614.4" cy="214.9" r="2.9" fill="#000080"/>
<circle cx="618.9" cy="212.1" r="2.9" fill="#000080"/>
<circle cx="622.2" cy="215.8" r="2.9" fill="#000080"/>
<circle cx="635.4" cy="254.1" r="2.9" fill="#000080"/>
<circle cx="536.5" cy="266.9" r="2.9" fill="#000080"/>
<circle cx="383.7" cy="222.6" r="2.9" fill="#000080"/>
<circle cx="396.0" cy="223.6" r="2.9" fill="#000080"/>
<circle cx="383.4" cy="230.0" r="2.9" fill="#000080"/>
<circle cx="389.5" cy="227.8" r="2.9" fill="#000080"/>
<circle cx="397.3" cy="228.6" r="2.9" fill="#000080"/>
<circle cx="400.6" cy="227.2" r="2.9" fill="#000080"/>
<circle cx="383.9" cy="235.0" r="2.9" fill="#000080"/>
<circle cx="389.1" cy="235.5" r="2.9" fill="#000080"/>
<circle cx="397.2" cy="234.2" r="2.9" fill="#000080"/>
<circle cx="402.2" cy="232.4" r="2.9" fill="#000080"/>
<circle cx="405.5" cy="236.0" r="2.9" fill="#000080"/>
<circle cx="391.1" cy="241.0" r="2.9" fill="#000080"/>
<circle cx="393.8" cy="239.3" r="2.9" fill="#000080"/>
<circle cx="400.3" cy="239.0" r="2.9" fill="#000080"/>
<circle cx="405.3" cy="240.1" r="2.9" fill="#000080"/>
<circle cx="388.1" cy="244.4" r="2.9" fill="#000080"/>
<circle cx="393.4" cy="247.6" r="2.9" fill="#000080"/>
<circle cx="402.4" cy="246.3" r="2.9" fill="#000080"/>
<circle cx="405.8" cy="244.5" r="2.9" fill="#000080"/>
<circle cx="387.5" cy="251.1" r="2.9" fill="#000080"/>
<circle cx="394.2" cy="250.7" r="2.9" fill="#000080"/>
<circle cx="402.0" cy="251.8" r="2.9" fill="#000080"/>
<circle cx="407.3" cy="251.4" r="2.9" fill="#000080"/>
<circle cx="383.6" cy="259.2" r="2.9" fill="#000080"/>
<circle cx="388.6" cy="256.2" r="2.9" fill="#000080"/>
<circle cx="395.3" cy="257.5" r="2.9" fill="#000080"/>
<circle cx="402.6" cy="256.4" r="2.9" fill="#000080"/>
<circle cx="383.6" cy="263.8" r="2.9" fill="#000080"/>
<circle cx="388.6" cy="265.6" r="2.9" fill="#000080"/>
<circle cx="396.2" cy="262.6" r="2.9" fill="#000080"/>
<path d="M385.0,245.1 L391.5,244.1 L398.0,243.0 L404.5,242.0 L411.0,241.0 L417.4,240.0 L423.9,238.9 L430.4,237.9 L436.9,236.8 L443.4,235.7 L449.9,234.6 L456.4,233.5 L462.9,232.4 L469.4,231.2 L475.9,230.1 L482.4,228.9 L488.8,227.7 L495.3,226.5 L501.8,225.2 L508.3,224.0 L514.8,222.7 L521.3,221.4 L527.8,220.1 L534.3,218.8 L540.8,217.5 L547.2,216.2 L553.7,214.9 L560.2,213.5 L566.7,212.2 L573.2,210.8 L579.7,209.4 L586.2,208.1 L592.7,206.7 L599.2,205.3 L605.7,203.9 L612.1,202.6 L618.6,201.2 L625.1,199.8 L631.6,198.4 L638.1,197.0 L644.6,195.6 L644.6,208.6 L638.1,209.6 L631.6,210.6 L625.1,211.5 L618.6,212.5 L612.1,213.5 L605.7,214.5 L599.2,215.5 L592.7,216.5 L586.2,217.5 L579.7,218.5 L573.2,219.5 L566.7,220.5 L560.2,221.6 L553.7,222.6 L547.2,223.6 L540.8,224.7 L534.3,225.7 L527.8,226.8 L521.3,227.9 L514.8,229.0 L508.3,230.1 L501.8,231.2 L495.3,232.4 L488.8,233.5 L482.4,234.7 L475.9,235.9 L469.4,237.1 L462.9,238.3 L456.4,239.6 L449.9,240.8 L443.4,242.1 L436.9,243.4 L430.4,244.7 L423.9,246.0 L417.4,247.4 L411.0,248.7 L404.5,250.1 L398.0,251.4 L391.5,252.8 L385.0,254.1Z" fill="#999" fill-opacity="0.3"/>
<line x1="385" y1="249.6" x2="644.6" y2="202.1" stroke="#000080" stroke-width="2.7"/>
<circle cx="421.0" cy="196.4" r="2.9" fill="#FF8C00"/>
<circle cx="394.7" cy="201.1" r="2.9" fill="#FF8C00"/>
<circle cx="400.4" cy="201.8" r="2.9" fill="#FF8C00"/>
<circle cx="386.2" cy="207.5" r="2.9" fill="#FF8C00"/>
<circle cx="390.5" cy="209.6" r="2.9" fill="#FF8C00"/>
<circle cx="414.6" cy="211.7" r="2.9" fill="#FF8C00"/>
<circle cx="429.5" cy="213.2" r="2.9" fill="#FF8C00"/>
<circle cx="435.9" cy="213.2" r="2.9" fill="#FF8C00"/>
<circle cx="386.2" cy="218.8" r="2.9" fill="#FF8C00"/>
<circle cx="391.2" cy="220.3" r="2.9" fill="#FF8C00"/>
<circle cx="399.0" cy="218.8" r="2.9" fill="#FF8C00"/>
<circle cx="402.5" cy="218.1" r="2.9" fill="#FF8C00"/>
<circle cx="399.7" cy="224.5" r="2.9" fill="#FF8C00"/>
<circle cx="411.7" cy="217.4" r="2.9" fill="#FF8C00"/>
<circle cx="414.6" cy="219.5" r="2.9" fill="#FF8C00"/>
<circle cx="418.8" cy="219.5" r="2.9" fill="#FF8C00"/>
<circle cx="434.4" cy="220.3" r="2.9" fill="#FF8C00"/>
<circle cx="425.2" cy="224.5" r="2.9" fill="#FF8C00"/>
<circle cx="428.1" cy="225.2" r="2.9" fill="#FF8C00"/>
<circle cx="420.3" cy="228.1" r="2.9" fill="#FF8C00"/>
<circle cx="437.3" cy="228.8" r="2.9" fill="#FF8C00"/>
<circle cx="425.9" cy="233.0" r="2.9" fill="#FF8C00"/>
<circle cx="421.0" cy="234.4" r="2.9" fill="#FF8C00"/>
<circle cx="416.0" cy="235.9" r="2.9" fill="#FF8C00"/>
<circle cx="407.5" cy="238.0" r="2.9" fill="#FF8C00"/>
<circle cx="408.9" cy="241.5" r="2.9" fill="#FF8C00"/>
<circle cx="418.8" cy="238.7" r="2.9" fill="#FF8C00"/>
<circle cx="424.5" cy="238.0" r="2.9" fill="#FF8C00"/>
<circle cx="433.7" cy="233.0" r="2.9" fill="#FF8C00"/>
<circle cx="435.9" cy="243.0" r="2.9" fill="#FF8C00"/>
<circle cx="427.4" cy="243.0" r="2.9" fill="#FF8C00"/>
<circle cx="420.3" cy="247.2" r="2.9" fill="#FF8C00"/>
<circle cx="421.0" cy="250.8" r="2.9" fill="#FF8C00"/>
<circle cx="413.2" cy="254.3" r="2.9" fill="#FF8C00"/>
<circle cx="404.6" cy="255.7" r="2.9" fill="#FF8C00"/>
<circle cx="397.5" cy="257.2" r="2.9" fill="#FF8C00"/>
<circle cx="399.7" cy="260.0" r="2.9" fill="#FF8C00"/>
<circle cx="387.6" cy="260.0" r="2.9" fill="#FF8C00"/>
<circle cx="388.3" cy="264.3" r="2.9" fill="#FF8C00"/>
<circle cx="395.4" cy="266.4" r="2.9" fill="#FF8C00"/>
<circle cx="401.8" cy="268.5" r="2.9" fill="#FF8C00"/>
<circle cx="407.5" cy="265.7" r="2.9" fill="#FF8C00"/>
<circle cx="412.4" cy="262.1" r="2.9" fill="#FF8C00"/>
<circle cx="417.4" cy="265.0" r="2.9" fill="#FF8C00"/>
<circle cx="424.5" cy="261.4" r="2.9" fill="#FF8C00"/>
<circle cx="427.4" cy="258.6" r="2.9" fill="#FF8C00"/>
<circle cx="424.5" cy="269.9" r="2.9" fill="#FF8C00"/>
<circle cx="437.3" cy="268.5" r="2.9" fill="#FF8C00"/>
<circle cx="436.6" cy="272.8" r="2.9" fill="#FF8C00"/>
<circle cx="419.5" cy="276.3" r="2.9" fill="#FF8C00"/>
<circle cx="421.7" cy="282.7" r="2.9" fill="#FF8C00"/>
<circle cx="406.1" cy="271.3" r="2.9" fill="#FF8C00"/>
<circle cx="404.6" cy="277.0" r="2.9" fill="#FF8C00"/>
<circle cx="409.6" cy="274.2" r="2.9" fill="#FF8C00"/>
<circle cx="406.1" cy="286.2" r="2.9" fill="#FF8C00"/>
<circle cx="390.5" cy="288.4" r="2.9" fill="#FF8C00"/>
<circle cx="404.6" cy="293.8" r="2.9" fill="#FF8C00"/>
<circle cx="436.6" cy="285.5" r="2.9" fill="#FF8C00"/>
<circle cx="438.7" cy="296.9" r="2.9" fill="#FF8C00"/>
<circle cx="386.2" cy="269.9" r="2.9" fill="#FF8C00"/>
<circle cx="384.8" cy="267.1" r="2.9" fill="#FF8C00"/>
<circle cx="479.6" cy="189.2" r="2.9" fill="#FF8C00"/>
<circle cx="469.4" cy="198.3" r="2.9" fill="#FF8C00"/>
<circle cx="467.9" cy="204.8" r="2.9" fill="#FF8C00"/>
<circle cx="465.0" cy="209.2" r="2.9" fill="#FF8C00"/>
<circle cx="502.2" cy="199.0" r="2.9" fill="#FF8C00"/>
<circle cx="502.2" cy="201.9" r="2.9" fill="#FF8C00"/>
<circle cx="489.1" cy="204.1" r="2.9" fill="#FF8C00"/>
<circle cx="491.3" cy="207.0" r="2.9" fill="#FF8C00"/>
<circle cx="487.6" cy="207.8" r="2.9" fill="#FF8C00"/>
<circle cx="495.7" cy="206.3" r="2.9" fill="#FF8C00"/>
<circle cx="499.3" cy="207.0" r="2.9" fill="#FF8C00"/>
<circle cx="476.7" cy="210.7" r="2.9" fill="#FF8C00"/>
<circle cx="478.1" cy="212.9" r="2.9" fill="#FF8C00"/>
<circle cx="444.6" cy="215.1" r="2.9" fill="#FF8C00"/>
<circle cx="451.1" cy="215.8" r="2.9" fill="#FF8C00"/>
<circle cx="452.6" cy="218.0" r="2.9" fill="#FF8C00"/>
<circle cx="443.8" cy="219.4" r="2.9" fill="#FF8C00"/>
<circle cx="459.9" cy="214.3" r="2.9" fill="#FF8C00"/>
<circle cx="460.6" cy="219.4" r="2.9" fill="#FF8C00"/>
<circle cx="465.0" cy="218.7" r="2.9" fill="#FF8C00"/>
<circle cx="451.1" cy="223.1" r="2.9" fill="#FF8C00"/>
<circle cx="491.3" cy="214.3" r="2.9" fill="#FF8C00"/>
<circle cx="498.6" cy="212.1" r="2.9" fill="#FF8C00"/>
<circle cx="490.6" cy="220.2" r="2.9" fill="#FF8C00"/>
<circle cx="512.5" cy="215.1" r="2.9" fill="#FF8C00"/>
<circle cx="524.1" cy="208.5" r="2.9" fill="#FF8C00"/>
<circle cx="467.9" cy="223.8" r="2.9" fill="#FF8C00"/>
<circle cx="475.2" cy="228.2" r="2.9" fill="#FF8C00"/>
<circle cx="454.1" cy="227.5" r="2.9" fill="#FF8C00"/>
<circle cx="448.9" cy="231.9" r="2.9" fill="#FF8C00"/>
<circle cx="471.6" cy="231.9" r="2.9" fill="#FF8C00"/>
<circle cx="502.2" cy="226.7" r="2.9" fill="#FF8C00"/>
<circle cx="476.7" cy="239.2" r="2.9" fill="#FF8C00"/>
<circle cx="478.9" cy="237.7" r="2.9" fill="#FF8C00"/>
<circle cx="483.3" cy="237.0" r="2.9" fill="#FF8C00"/>
<circle cx="449.7" cy="237.0" r="2.9" fill="#FF8C00"/>
<circle cx="446.8" cy="241.8" r="2.9" fill="#FF8C00"/>
<circle cx="476.7" cy="250.1" r="2.9" fill="#FF8C00"/>
<circle cx="505.2" cy="245.7" r="2.9" fill="#FF8C00"/>
<circle cx="443.1" cy="252.3" r="2.9" fill="#FF8C00"/>
<circle cx="446.0" cy="262.5" r="2.9" fill="#FF8C00"/>
<circle cx="449.7" cy="270.5" r="2.9" fill="#FF8C00"/>
<circle cx="395.5" cy="216.8" r="2.9" fill="#FF8C00"/>
<circle cx="385.9" cy="219.1" r="2.9" fill="#FF8C00"/>
<circle cx="393.2" cy="220.3" r="2.9" fill="#FF8C00"/>
<circle cx="395.4" cy="220.1" r="2.9" fill="#FF8C00"/>
<circle cx="384.1" cy="226.3" r="2.9" fill="#FF8C00"/>
<circle cx="386.7" cy="224.2" r="2.9" fill="#FF8C00"/>
<circle cx="392.9" cy="226.8" r="2.9" fill="#FF8C00"/>
<circle cx="394.9" cy="226.0" r="2.9" fill="#FF8C00"/>
<circle cx="383.1" cy="228.9" r="2.9" fill="#FF8C00"/>
<circle cx="385.7" cy="229.3" r="2.9" fill="#FF8C00"/>
<circle cx="391.3" cy="229.5" r="2.9" fill="#FF8C00"/>
<circle cx="396.9" cy="230.9" r="2.9" fill="#FF8C00"/>
<circle cx="383.0" cy="234.5" r="2.9" fill="#FF8C00"/>
<circle cx="387.8" cy="233.1" r="2.9" fill="#FF8C00"/>
<circle cx="390.8" cy="235.8" r="2.9" fill="#FF8C00"/>
<circle cx="396.7" cy="235.0" r="2.9" fill="#FF8C00"/>
<circle cx="399.7" cy="234.1" r="2.9" fill="#FF8C00"/>
<circle cx="387.0" cy="239.9" r="2.9" fill="#FF8C00"/>
<circle cx="392.0" cy="237.8" r="2.9" fill="#FF8C00"/>
<circle cx="395.1" cy="240.6" r="2.9" fill="#FF8C00"/>
<circle cx="399.8" cy="238.0" r="2.9" fill="#FF8C00"/>
<circle cx="405.1" cy="239.7" r="2.9" fill="#FF8C00"/>
<circle cx="386.5" cy="243.2" r="2.9" fill="#FF8C00"/>
<circle cx="392.2" cy="244.0" r="2.9" fill="#FF8C00"/>
<circle cx="394.9" cy="242.4" r="2.9" fill="#FF8C00"/>
<circle cx="399.8" cy="244.3" r="2.9" fill="#FF8C00"/>
<circle cx="406.2" cy="245.1" r="2.9" fill="#FF8C00"/>
<circle cx="383.5" cy="249.8" r="2.9" fill="#FF8C00"/>
<circle cx="386.7" cy="246.6" r="2.9" fill="#FF8C00"/>
<circle cx="391.4" cy="247.5" r="2.9" fill="#FF8C00"/>
<circle cx="395.4" cy="246.7" r="2.9" fill="#FF8C00"/>
<circle cx="399.8" cy="249.4" r="2.9" fill="#FF8C00"/>
<circle cx="404.2" cy="248.6" r="2.9" fill="#FF8C00"/>
<circle cx="409.3" cy="247.2" r="2.9" fill="#FF8C00"/>
<circle cx="383.6" cy="252.2" r="2.9" fill="#FF8C00"/>
<circle cx="386.2" cy="252.7" r="2.9" fill="#FF8C00"/>
<circle cx="392.4" cy="252.9" r="2.9" fill="#FF8C00"/>
<circle cx="397.6" cy="252.5" r="2.9" fill="#FF8C00"/>
<circle cx="401.1" cy="253.5" r="2.9" fill="#FF8C00"/>
<circle cx="388.0" cy="258.8" r="2.9" fill="#FF8C00"/>
<circle cx="392.4" cy="257.7" r="2.9" fill="#FF8C00"/>
<circle cx="395.3" cy="258.5" r="2.9" fill="#FF8C00"/>
<circle cx="399.8" cy="257.2" r="2.9" fill="#FF8C00"/>
<circle cx="404.4" cy="257.0" r="2.9" fill="#FF8C00"/>
<circle cx="386.4" cy="262.9" r="2.9" fill="#FF8C00"/>
<circle cx="392.6" cy="263.1" r="2.9" fill="#FF8C00"/>
<circle cx="394.9" cy="262.4" r="2.9" fill="#FF8C00"/>
<circle cx="402.3" cy="261.2" r="2.9" fill="#FF8C00"/>
<circle cx="386.2" cy="265.7" r="2.9" fill="#FF8C00"/>
<circle cx="391.3" cy="267.2" r="2.9" fill="#FF8C00"/>
<circle cx="385.7" cy="271.1" r="2.9" fill="#FF8C00"/>
<circle cx="391.1" cy="271.1" r="2.9" fill="#FF8C00"/>
<path d="M384.9,245.5 L388.4,244.7 L391.9,243.8 L395.5,243.0 L399.0,242.1 L402.5,241.2 L406.0,240.3 L409.5,239.4 L413.0,238.5 L416.6,237.5 L420.1,236.5 L423.6,235.5 L427.1,234.5 L430.6,233.4 L434.1,232.4 L437.7,231.3 L441.2,230.2 L444.7,229.0 L448.2,227.9 L451.7,226.7 L455.2,225.6 L458.8,224.4 L462.3,223.2 L465.8,222.0 L469.3,220.8 L472.8,219.6 L476.4,218.3 L479.9,217.1 L483.4,215.9 L486.9,214.6 L490.4,213.4 L493.9,212.2 L497.5,210.9 L501.0,209.7 L504.5,208.4 L508.0,207.2 L511.5,205.9 L515.0,204.7 L518.6,203.4 L522.1,202.2 L525.6,200.9 L525.6,216.9 L522.1,217.7 L518.6,218.5 L515.0,219.2 L511.5,220.0 L508.0,220.8 L504.5,221.6 L501.0,222.4 L497.5,223.2 L493.9,224.0 L490.4,224.7 L486.9,225.5 L483.4,226.3 L479.9,227.1 L476.4,228.0 L472.8,228.8 L469.3,229.6 L465.8,230.4 L462.3,231.3 L458.8,232.1 L455.2,232.9 L451.7,233.8 L448.2,234.7 L444.7,235.6 L441.2,236.5 L437.7,237.4 L434.1,238.3 L430.6,239.3 L427.1,240.3 L423.6,241.3 L420.1,242.3 L416.6,243.4 L413.0,244.5 L409.5,245.6 L406.0,246.7 L402.5,247.8 L399.0,249.0 L395.5,250.1 L391.9,251.3 L388.4,252.5 L384.9,253.7Z" fill="#999" fill-opacity="0.3"/>
<line x1="384.9" y1="249.6" x2="525.6" y2="208.9" stroke="#FF8C00" stroke-width="2.7"/>
</g>
<path d="M372.5,172.5 V302.3 H657.5" fill="none" stroke="#000" stroke-width="1.5"/>
<line x1="369.1" y1="266.1" x2="372.5" y2="266.1" stroke="#333" stroke-width="1.2"/>
<text class="tk" x="366.3" y="270.6" text-anchor="end">0</text>
<line x1="369.1" y1="229.8" x2="372.5" y2="229.8" stroke="#333" stroke-width="1.2"/>
<text class="tk" x="366.3" y="234.3" text-anchor="end">2</text>
<line x1="369.1" y1="193.5" x2="372.5" y2="193.5" stroke="#333" stroke-width="1.2"/>
<text class="tk" x="366.3" y="198.0" text-anchor="end">4</text>
<line x1="385.0" y1="302.3" x2="385.0" y2="305.7" stroke="#333" stroke-width="1.2"/>
<text class="tk" x="385.0" y="316.7" text-anchor="middle">0</text>
<line x1="482.2" y1="302.3" x2="482.2" y2="305.7" stroke="#333" stroke-width="1.2"/>
<text class="tk" x="482.2" y="316.7" text-anchor="middle">10</text>
<line x1="579.4" y1="302.3" x2="579.4" y2="305.7" stroke="#333" stroke-width="1.2"/>
<text class="tk" x="579.4" y="316.7" text-anchor="middle">20</text>
<text class="at" x="515.0" y="330.1" text-anchor="middle">Total amount of alcohol consumption (L)</text>
<text class="at" transform="translate(353.7,237.8) rotate(-90)" text-anchor="middle">ln(ASR) of ureteral cancer</text>
<clipPath id="c4"><rect x="47.9" y="345.5" width="285.20000000000005" height="129.8"/></clipPath>
<g clip-path="url(#c4)">
<circle cx="65.8" cy="387.6" r="2.9" fill="#000080"/>
<circle cx="88.6" cy="373.5" r="2.9" fill="#000080"/>
<circle cx="88.6" cy="378.3" r="2.9" fill="#000080"/>
<circle cx="94.7" cy="380.8" r="2.9" fill="#000080"/>
<circle cx="98.4" cy="383.7" r="2.9" fill="#000080"/>
<circle cx="106.4" cy="378.3" r="2.9" fill="#000080"/>
<circle cx="106.4" cy="383.2" r="2.9" fill="#000080"/>
<circle cx="91.5" cy="387.0" r="2.9" fill="#000080"/>
<circle cx="96.2" cy="392.0" r="2.9" fill="#000080"/>
<circle cx="107.6" cy="396.8" r="2.9" fill="#000080"/>
<circle cx="115.4" cy="396.1" r="2.9" fill="#000080"/>
<circle cx="90.6" cy="400.2" r="2.9" fill="#000080"/>
<circle cx="103.5" cy="403.1" r="2.9" fill="#000080"/>
<circle cx="117.8" cy="370.1" r="2.9" fill="#000080"/>
<circle cx="140.7" cy="366.9" r="2.9" fill="#000080"/>
<circle cx="147.3" cy="362.2" r="2.9" fill="#000080"/>
<circle cx="147.3" cy="377.8" r="2.9" fill="#000080"/>
<circle cx="135.6" cy="384.4" r="2.9" fill="#000080"/>
<circle cx="138.5" cy="388.8" r="2.9" fill="#000080"/>
<circle cx="132.7" cy="393.2" r="2.9" fill="#000080"/>
<circle cx="116.6" cy="403.4" r="2.9" fill="#000080"/>
<circle cx="121.0" cy="407.8" r="2.9" fill="#000080"/>
<circle cx="119.5" cy="412.2" r="2.9" fill="#000080"/>
<circle cx="115.2" cy="416.5" r="2.9" fill="#000080"/>
<circle cx="110.8" cy="415.8" r="2.9" fill="#000080"/>
<circle cx="123.9" cy="416.5" r="2.9" fill="#000080"/>
<circle cx="129.8" cy="419.5" r="2.9" fill="#000080"/>
<circle cx="104.9" cy="422.4" r="2.9" fill="#000080"/>
<circle cx="98.4" cy="426.8" r="2.9" fill="#000080"/>
<circle cx="103.5" cy="430.4" r="2.9" fill="#000080"/>
<circle cx="117.3" cy="428.2" r="2.9" fill="#000080"/>
<circle cx="121.0" cy="428.9" r="2.9" fill="#000080"/>
<circle cx="116.6" cy="435.5" r="2.9" fill="#000080"/>
<circle cx="121.0" cy="439.9" r="2.9" fill="#000080"/>
<circle cx="129.8" cy="433.3" r="2.9" fill="#000080"/>
<circle cx="135.6" cy="435.5" r="2.9" fill="#000080"/>
<circle cx="141.4" cy="438.4" r="2.9" fill="#000080"/>
<circle cx="142.9" cy="447.2" r="2.9" fill="#000080"/>
<circle cx="89.6" cy="445.7" r="2.9" fill="#000080"/>
<circle cx="138.5" cy="429.7" r="2.9" fill="#000080"/>
<circle cx="144.4" cy="423.8" r="2.9" fill="#000080"/>
<circle cx="134.1" cy="412.9" r="2.9" fill="#000080"/>
<circle cx="144.4" cy="403.4" r="2.9" fill="#000080"/>
<circle cx="135.6" cy="403.4" r="2.9" fill="#000080"/>
<circle cx="195.8" cy="351.1" r="2.9" fill="#000080"/>
<circle cx="149.4" cy="362.5" r="2.9" fill="#000080"/>
<circle cx="160.3" cy="361.8" r="2.9" fill="#000080"/>
<circle cx="164.0" cy="363.2" r="2.9" fill="#000080"/>
<circle cx="166.9" cy="364.7" r="2.9" fill="#000080"/>
<circle cx="156.7" cy="368.4" r="2.9" fill="#000080"/>
<circle cx="153.8" cy="371.3" r="2.9" fill="#000080"/>
<circle cx="159.6" cy="371.3" r="2.9" fill="#000080"/>
<circle cx="152.3" cy="377.1" r="2.9" fill="#000080"/>
<circle cx="161.1" cy="377.1" r="2.9" fill="#000080"/>
<circle cx="148.6" cy="385.9" r="2.9" fill="#000080"/>
<circle cx="174.2" cy="372.0" r="2.9" fill="#000080"/>
<circle cx="176.4" cy="374.2" r="2.9" fill="#000080"/>
<circle cx="180.8" cy="368.4" r="2.9" fill="#000080"/>
<circle cx="185.1" cy="368.4" r="2.9" fill="#000080"/>
<circle cx="183.0" cy="376.4" r="2.9" fill="#000080"/>
<circle cx="191.0" cy="366.2" r="2.9" fill="#000080"/>
<circle cx="193.9" cy="374.2" r="2.9" fill="#000080"/>
<circle cx="170.5" cy="380.0" r="2.9" fill="#000080"/>
<circle cx="196.1" cy="382.2" r="2.9" fill="#000080"/>
<circle cx="169.8" cy="388.1" r="2.9" fill="#000080"/>
<circle cx="187.3" cy="387.3" r="2.9" fill="#000080"/>
<circle cx="188.1" cy="390.3" r="2.9" fill="#000080"/>
<circle cx="197.6" cy="391.7" r="2.9" fill="#000080"/>
<circle cx="204.1" cy="393.2" r="2.9" fill="#000080"/>
<circle cx="207.8" cy="391.7" r="2.9" fill="#000080"/>
<circle cx="216.5" cy="383.7" r="2.9" fill="#000080"/>
<circle cx="233.3" cy="368.4" r="2.9" fill="#000080"/>
<circle cx="237.7" cy="378.9" r="2.9" fill="#000080"/>
<circle cx="244.3" cy="360.8" r="2.9" fill="#000080"/>
<circle cx="177.1" cy="397.6" r="2.9" fill="#000080"/>
<circle cx="172.0" cy="396.1" r="2.9" fill="#000080"/>
<circle cx="188.8" cy="404.9" r="2.9" fill="#000080"/>
<circle cx="190.3" cy="407.8" r="2.9" fill="#000080"/>
<circle cx="201.9" cy="404.9" r="2.9" fill="#000080"/>
<circle cx="206.3" cy="406.3" r="2.9" fill="#000080"/>
<circle cx="210.7" cy="404.9" r="2.9" fill="#000080"/>
<circle cx="213.6" cy="405.6" r="2.9" fill="#000080"/>
<circle cx="210.7" cy="412.9" r="2.9" fill="#000080"/>
<circle cx="193.2" cy="415.1" r="2.9" fill="#000080"/>
<circle cx="195.4" cy="416.5" r="2.9" fill="#000080"/>
<circle cx="203.4" cy="415.1" r="2.9" fill="#000080"/>
<circle cx="184.4" cy="420.9" r="2.9" fill="#000080"/>
<circle cx="188.8" cy="422.4" r="2.9" fill="#000080"/>
<circle cx="191.7" cy="420.9" r="2.9" fill="#000080"/>
<circle cx="180.0" cy="429.7" r="2.9" fill="#000080"/>
<circle cx="171.3" cy="425.3" r="2.9" fill="#000080"/>
<circle cx="153.8" cy="420.9" r="2.9" fill="#000080"/>
<circle cx="147.9" cy="422.4" r="2.9" fill="#000080"/>
<circle cx="151.6" cy="409.2" r="2.9" fill="#000080"/>
<circle cx="162.5" cy="424.6" r="2.9" fill="#000080"/>
<circle cx="159.6" cy="434.1" r="2.9" fill="#000080"/>
<circle cx="165.4" cy="437.0" r="2.9" fill="#000080"/>
<circle cx="164.0" cy="444.3" r="2.9" fill="#000080"/>
<circle cx="151.6" cy="447.2" r="2.9" fill="#000080"/>
<circle cx="172.7" cy="439.9" r="2.9" fill="#000080"/>
<circle cx="190.3" cy="413.6" r="2.9" fill="#000080"/>
<circle cx="178.6" cy="397.6" r="2.9" fill="#000080"/>
<circle cx="156.7" cy="432.6" r="2.9" fill="#000080"/>
<circle cx="150.8" cy="429.7" r="2.9" fill="#000080"/>
<circle cx="246.1" cy="360.8" r="2.9" fill="#000080"/>
<circle cx="248.0" cy="380.3" r="2.9" fill="#000080"/>
<circle cx="256.1" cy="387.3" r="2.9" fill="#000080"/>
<circle cx="275.8" cy="378.3" r="2.9" fill="#000080"/>
<circle cx="275.8" cy="390.5" r="2.9" fill="#000080"/>
<circle cx="282.3" cy="371.0" r="2.9" fill="#000080"/>
<circle cx="285.3" cy="370.5" r="2.9" fill="#000080"/>
<circle cx="288.9" cy="383.2" r="2.9" fill="#000080"/>
<circle cx="294.0" cy="388.8" r="2.9" fill="#000080"/>
<circle cx="302.5" cy="371.3" r="2.9" fill="#000080"/>
<circle cx="311.2" cy="372.7" r="2.9" fill="#000080"/>
<circle cx="300.6" cy="383.2" r="2.9" fill="#000080"/>
<circle cx="310.1" cy="382.2" r="2.9" fill="#000080"/>
<circle cx="320.3" cy="380.3" r="2.9" fill="#000080"/>
<circle cx="310.8" cy="427.0" r="2.9" fill="#000080"/>
<circle cx="271.4" cy="437.7" r="2.9" fill="#000080"/>
<path d="M62.0,410.9 L68.5,410.3 L74.9,409.7 L81.4,409.1 L87.9,408.4 L94.3,407.8 L100.8,407.2 L107.3,406.5 L113.7,405.8 L120.2,405.0 L126.7,404.3 L133.1,403.5 L139.6,402.6 L146.0,401.7 L152.5,400.8 L159.0,399.8 L165.4,398.8 L171.9,397.7 L178.4,396.6 L184.8,395.5 L191.3,394.4 L197.8,393.2 L204.2,392.0 L210.7,390.8 L217.2,389.6 L223.6,388.4 L230.1,387.2 L236.6,386.0 L243.0,384.8 L249.5,383.6 L256.0,382.3 L262.4,381.1 L268.9,379.9 L275.3,378.6 L281.8,377.4 L288.3,376.1 L294.7,374.9 L301.2,373.6 L307.7,372.4 L314.1,371.2 L320.6,369.9 L320.6,390.9 L314.1,391.4 L307.7,392.0 L301.2,392.5 L294.7,393.1 L288.3,393.6 L281.8,394.2 L275.3,394.7 L268.9,395.3 L262.4,395.9 L256.0,396.4 L249.5,397.0 L243.0,397.6 L236.6,398.1 L230.1,398.7 L223.6,399.3 L217.2,399.9 L210.7,400.5 L204.2,401.1 L197.8,401.7 L191.3,402.3 L184.8,403.0 L178.4,403.7 L171.9,404.4 L165.4,405.1 L159.0,405.9 L152.5,406.7 L146.0,407.5 L139.6,408.4 L133.1,409.4 L126.7,410.4 L120.2,411.4 L113.7,412.5 L107.3,413.6 L100.8,414.7 L94.3,415.8 L87.9,417.0 L81.4,418.2 L74.9,419.3 L68.5,420.5 L62.0,421.7Z" fill="#999" fill-opacity="0.3"/>
<line x1="62" y1="416.3" x2="320.6" y2="380.4" stroke="#000080" stroke-width="2.7"/>
<circle cx="72.1" cy="380.0" r="2.9" fill="#FF8C00"/>
<circle cx="74.0" cy="390.3" r="2.9" fill="#FF8C00"/>
<circle cx="75.0" cy="394.6" r="2.9" fill="#FF8C00"/>
<circle cx="74.3" cy="401.9" r="2.9" fill="#FF8C00"/>
<circle cx="85.2" cy="391.7" r="2.9" fill="#FF8C00"/>
<circle cx="85.7" cy="395.4" r="2.9" fill="#FF8C00"/>
<circle cx="83.0" cy="402.7" r="2.9" fill="#FF8C00"/>
<circle cx="84.5" cy="407.8" r="2.9" fill="#FF8C00"/>
<circle cx="91.8" cy="408.5" r="2.9" fill="#FF8C00"/>
<circle cx="81.6" cy="413.6" r="2.9" fill="#FF8C00"/>
<circle cx="73.5" cy="410.0" r="2.9" fill="#FF8C00"/>
<circle cx="77.9" cy="415.1" r="2.9" fill="#FF8C00"/>
<circle cx="60.8" cy="417.3" r="2.9" fill="#FF8C00"/>
<circle cx="99.1" cy="376.4" r="2.9" fill="#FF8C00"/>
<circle cx="101.3" cy="377.1" r="2.9" fill="#FF8C00"/>
<circle cx="98.4" cy="380.8" r="2.9" fill="#FF8C00"/>
<circle cx="99.8" cy="390.3" r="2.9" fill="#FF8C00"/>
<circle cx="99.1" cy="396.1" r="2.9" fill="#FF8C00"/>
<circle cx="94.7" cy="397.6" r="2.9" fill="#FF8C00"/>
<circle cx="108.6" cy="387.3" r="2.9" fill="#FF8C00"/>
<circle cx="112.2" cy="384.4" r="2.9" fill="#FF8C00"/>
<circle cx="115.2" cy="377.8" r="2.9" fill="#FF8C00"/>
<circle cx="119.5" cy="376.4" r="2.9" fill="#FF8C00"/>
<circle cx="123.9" cy="375.7" r="2.9" fill="#FF8C00"/>
<circle cx="127.6" cy="377.8" r="2.9" fill="#FF8C00"/>
<circle cx="132.7" cy="371.3" r="2.9" fill="#FF8C00"/>
<circle cx="135.6" cy="380.0" r="2.9" fill="#FF8C00"/>
<circle cx="139.2" cy="382.2" r="2.9" fill="#FF8C00"/>
<circle cx="125.4" cy="383.0" r="2.9" fill="#FF8C00"/>
<circle cx="129.8" cy="388.1" r="2.9" fill="#FF8C00"/>
<circle cx="123.9" cy="391.7" r="2.9" fill="#FF8C00"/>
<circle cx="122.5" cy="396.1" r="2.9" fill="#FF8C00"/>
<circle cx="126.8" cy="399.0" r="2.9" fill="#FF8C00"/>
<circle cx="115.2" cy="391.7" r="2.9" fill="#FF8C00"/>
<circle cx="135.6" cy="391.7" r="2.9" fill="#FF8C00"/>
<circle cx="141.4" cy="392.4" r="2.9" fill="#FF8C00"/>
<circle cx="144.4" cy="390.3" r="2.9" fill="#FF8C00"/>
<circle cx="134.1" cy="401.2" r="2.9" fill="#FF8C00"/>
<circle cx="106.4" cy="404.1" r="2.9" fill="#FF8C00"/>
<circle cx="109.3" cy="406.3" r="2.9" fill="#FF8C00"/>
<circle cx="113.0" cy="405.6" r="2.9" fill="#FF8C00"/>
<circle cx="107.9" cy="409.2" r="2.9" fill="#FF8C00"/>
<circle cx="129.8" cy="404.9" r="2.9" fill="#FF8C00"/>
<circle cx="123.9" cy="410.0" r="2.9" fill="#FF8C00"/>
<circle cx="115.2" cy="411.4" r="2.9" fill="#FF8C00"/>
<circle cx="105.7" cy="415.1" r="2.9" fill="#FF8C00"/>
<circle cx="107.1" cy="420.9" r="2.9" fill="#FF8C00"/>
<circle cx="91.8" cy="421.6" r="2.9" fill="#FF8C00"/>
<circle cx="99.1" cy="428.9" r="2.9" fill="#FF8C00"/>
<circle cx="118.1" cy="421.6" r="2.9" fill="#FF8C00"/>
<circle cx="123.9" cy="422.4" r="2.9" fill="#FF8C00"/>
<circle cx="126.8" cy="426.8" r="2.9" fill="#FF8C00"/>
<circle cx="129.8" cy="423.1" r="2.9" fill="#FF8C00"/>
<circle cx="135.6" cy="420.9" r="2.9" fill="#FF8C00"/>
<circle cx="141.4" cy="424.6" r="2.9" fill="#FF8C00"/>
<circle cx="147.3" cy="413.6" r="2.9" fill="#FF8C00"/>
<circle cx="147.3" cy="400.5" r="2.9" fill="#FF8C00"/>
<circle cx="109.3" cy="434.1" r="2.9" fill="#FF8C00"/>
<circle cx="112.2" cy="432.6" r="2.9" fill="#FF8C00"/>
<circle cx="125.4" cy="437.0" r="2.9" fill="#FF8C00"/>
<circle cx="115.9" cy="440.6" r="2.9" fill="#FF8C00"/>
<circle cx="134.1" cy="438.4" r="2.9" fill="#FF8C00"/>
<circle cx="137.1" cy="442.8" r="2.9" fill="#FF8C00"/>
<circle cx="141.4" cy="444.3" r="2.9" fill="#FF8C00"/>
<circle cx="121.7" cy="445.7" r="2.9" fill="#FF8C00"/>
<circle cx="99.1" cy="442.1" r="2.9" fill="#FF8C00"/>
<circle cx="78.7" cy="444.7" r="2.9" fill="#FF8C00"/>
<circle cx="110.0" cy="445.7" r="2.9" fill="#FF8C00"/>
<circle cx="113.7" cy="450.1" r="2.9" fill="#FF8C00"/>
<circle cx="113.7" cy="455.2" r="2.9" fill="#FF8C00"/>
<circle cx="120.3" cy="461.1" r="2.9" fill="#FF8C00"/>
<circle cx="134.1" cy="449.4" r="2.9" fill="#FF8C00"/>
<circle cx="140.0" cy="451.6" r="2.9" fill="#FF8C00"/>
<circle cx="137.1" cy="468.4" r="2.9" fill="#FF8C00"/>
<circle cx="140.0" cy="466.2" r="2.9" fill="#FF8C00"/>
<circle cx="147.3" cy="457.4" r="2.9" fill="#FF8C00"/>
<circle cx="145.8" cy="432.6" r="2.9" fill="#FF8C00"/>
<circle cx="156.4" cy="361.8" r="2.9" fill="#FF8C00"/>
<circle cx="180.0" cy="369.1" r="2.9" fill="#FF8C00"/>
<circle cx="201.9" cy="372.4" r="2.9" fill="#FF8C00"/>
<circle cx="212.4" cy="374.2" r="2.9" fill="#FF8C00"/>
<circle cx="165.4" cy="382.2" r="2.9" fill="#FF8C00"/>
<circle cx="172.0" cy="384.4" r="2.9" fill="#FF8C00"/>
<circle cx="180.0" cy="384.4" r="2.9" fill="#FF8C00"/>
<circle cx="178.6" cy="388.8" r="2.9" fill="#FF8C00"/>
<circle cx="175.7" cy="391.7" r="2.9" fill="#FF8C00"/>
<circle cx="169.1" cy="393.2" r="2.9" fill="#FF8C00"/>
<circle cx="185.9" cy="392.4" r="2.9" fill="#FF8C00"/>
<circle cx="200.5" cy="385.1" r="2.9" fill="#FF8C00"/>
<circle cx="205.6" cy="387.3" r="2.9" fill="#FF8C00"/>
<circle cx="207.0" cy="397.6" r="2.9" fill="#FF8C00"/>
<circle cx="226.8" cy="392.4" r="2.9" fill="#FF8C00"/>
<circle cx="157.4" cy="390.3" r="2.9" fill="#FF8C00"/>
<circle cx="155.9" cy="396.8" r="2.9" fill="#FF8C00"/>
<circle cx="165.4" cy="401.2" r="2.9" fill="#FF8C00"/>
<circle cx="184.4" cy="401.2" r="2.9" fill="#FF8C00"/>
<circle cx="199.7" cy="403.4" r="2.9" fill="#FF8C00"/>
<circle cx="162.5" cy="407.8" r="2.9" fill="#FF8C00"/>
<circle cx="165.4" cy="410.7" r="2.9" fill="#FF8C00"/>
<circle cx="174.2" cy="408.5" r="2.9" fill="#FF8C00"/>
<circle cx="175.7" cy="412.2" r="2.9" fill="#FF8C00"/>
<circle cx="168.4" cy="413.6" r="2.9" fill="#FF8C00"/>
<circle cx="191.7" cy="415.1" r="2.9" fill="#FF8C00"/>
<circle cx="203.4" cy="418.7" r="2.9" fill="#FF8C00"/>
<circle cx="161.1" cy="420.2" r="2.9" fill="#FF8C00"/>
<circle cx="166.9" cy="419.5" r="2.9" fill="#FF8C00"/>
<circle cx="172.7" cy="418.7" r="2.9" fill="#FF8C00"/>
<circle cx="176.4" cy="418.7" r="2.9" fill="#FF8C00"/>
<circle cx="150.1" cy="425.3" r="2.9" fill="#FF8C00"/>
<circle cx="158.1" cy="427.5" r="2.9" fill="#FF8C00"/>
<circle cx="164.0" cy="428.9" r="2.9" fill="#FF8C00"/>
<circle cx="166.9" cy="429.7" r="2.9" fill="#FF8C00"/>
<circle cx="147.9" cy="431.1" r="2.9" fill="#FF8C00"/>
<circle cx="153.0" cy="433.3" r="2.9" fill="#FF8C00"/>
<circle cx="162.5" cy="438.4" r="2.9" fill="#FF8C00"/>
<circle cx="159.6" cy="438.4" r="2.9" fill="#FF8C00"/>
<circle cx="169.8" cy="434.8" r="2.9" fill="#FF8C00"/>
<circle cx="174.2" cy="441.4" r="2.9" fill="#FF8C00"/>
<circle cx="179.3" cy="439.9" r="2.9" fill="#FF8C00"/>
<circle cx="168.4" cy="445.0" r="2.9" fill="#FF8C00"/>
<circle cx="160.3" cy="447.2" r="2.9" fill="#FF8C00"/>
<circle cx="161.8" cy="453.0" r="2.9" fill="#FF8C00"/>
<circle cx="149.4" cy="458.1" r="2.9" fill="#FF8C00"/>
<circle cx="151.6" cy="459.6" r="2.9" fill="#FF8C00"/>
<circle cx="147.9" cy="444.3" r="2.9" fill="#FF8C00"/>
<circle cx="290.4" cy="374.9" r="2.9" fill="#FF8C00"/>
<circle cx="102.0" cy="377.2" r="2.9" fill="#FF8C00"/>
<circle cx="115.3" cy="377.7" r="2.9" fill="#FF8C00"/>
<circle cx="118.4" cy="376.1" r="2.9" fill="#FF8C00"/>
<circle cx="124.5" cy="375.6" r="2.9" fill="#FF8C00"/>
<circle cx="126.6" cy="378.2" r="2.9" fill="#FF8C00"/>
<circle cx="130.7" cy="379.2" r="2.9" fill="#FF8C00"/>
<circle cx="135.8" cy="380.2" r="2.9" fill="#FF8C00"/>
<circle cx="138.8" cy="382.3" r="2.9" fill="#FF8C00"/>
<circle cx="120.4" cy="381.2" r="2.9" fill="#FF8C00"/>
<circle cx="123.5" cy="383.3" r="2.9" fill="#FF8C00"/>
<circle cx="127.6" cy="385.3" r="2.9" fill="#FF8C00"/>
<circle cx="129.6" cy="387.9" r="2.9" fill="#FF8C00"/>
<circle cx="109.2" cy="387.4" r="2.9" fill="#FF8C00"/>
<circle cx="113.3" cy="385.3" r="2.9" fill="#FF8C00"/>
<circle cx="101.0" cy="390.4" r="2.9" fill="#FF8C00"/>
<circle cx="115.3" cy="391.5" r="2.9" fill="#FF8C00"/>
<circle cx="124.5" cy="390.4" r="2.9" fill="#FF8C00"/>
<circle cx="126.6" cy="393.5" r="2.9" fill="#FF8C00"/>
<circle cx="123.5" cy="396.6" r="2.9" fill="#FF8C00"/>
<circle cx="125.5" cy="399.6" r="2.9" fill="#FF8C00"/>
<circle cx="133.7" cy="391.5" r="2.9" fill="#FF8C00"/>
<circle cx="137.8" cy="393.5" r="2.9" fill="#FF8C00"/>
<circle cx="140.9" cy="392.0" r="2.9" fill="#FF8C00"/>
<circle cx="143.9" cy="389.4" r="2.9" fill="#FF8C00"/>
<circle cx="157.2" cy="390.4" r="2.9" fill="#FF8C00"/>
<circle cx="156.2" cy="396.6" r="2.9" fill="#FF8C00"/>
<circle cx="153.1" cy="396.6" r="2.9" fill="#FF8C00"/>
<circle cx="165.4" cy="382.3" r="2.9" fill="#FF8C00"/>
<circle cx="168.5" cy="393.5" r="2.9" fill="#FF8C00"/>
<circle cx="165.4" cy="400.7" r="2.9" fill="#FF8C00"/>
<circle cx="131.7" cy="401.7" r="2.9" fill="#FF8C00"/>
<circle cx="133.7" cy="404.7" r="2.9" fill="#FF8C00"/>
<circle cx="129.6" cy="405.8" r="2.9" fill="#FF8C00"/>
<circle cx="146.0" cy="400.7" r="2.9" fill="#FF8C00"/>
<circle cx="147.0" cy="403.7" r="2.9" fill="#FF8C00"/>
<circle cx="105.1" cy="403.7" r="2.9" fill="#FF8C00"/>
<circle cx="108.2" cy="404.7" r="2.9" fill="#FF8C00"/>
<circle cx="111.2" cy="405.8" r="2.9" fill="#FF8C00"/>
<circle cx="114.3" cy="406.8" r="2.9" fill="#FF8C00"/>
<circle cx="161.3" cy="407.8" r="2.9" fill="#FF8C00"/>
<circle cx="163.4" cy="409.9" r="2.9" fill="#FF8C00"/>
<circle cx="106.1" cy="421.1" r="2.9" fill="#FF8C00"/>
<circle cx="117.4" cy="422.1" r="2.9" fill="#FF8C00"/>
<circle cx="121.5" cy="421.1" r="2.9" fill="#FF8C00"/>
<circle cx="124.5" cy="424.2" r="2.9" fill="#FF8C00"/>
<circle cx="127.6" cy="427.2" r="2.9" fill="#FF8C00"/>
<circle cx="129.6" cy="419.0" r="2.9" fill="#FF8C00"/>
<circle cx="132.7" cy="418.0" r="2.9" fill="#FF8C00"/>
<circle cx="135.8" cy="419.0" r="2.9" fill="#FF8C00"/>
<circle cx="137.8" cy="423.1" r="2.9" fill="#FF8C00"/>
<circle cx="140.9" cy="421.1" r="2.9" fill="#FF8C00"/>
<circle cx="143.9" cy="423.1" r="2.9" fill="#FF8C00"/>
<circle cx="149.0" cy="425.2" r="2.9" fill="#FF8C00"/>
<circle cx="153.1" cy="427.2" r="2.9" fill="#FF8C00"/>
<circle cx="159.3" cy="420.1" r="2.9" fill="#FF8C00"/>
<circle cx="163.4" cy="419.0" r="2.9" fill="#FF8C00"/>
<circle cx="166.4" cy="421.1" r="2.9" fill="#FF8C00"/>
<circle cx="111.2" cy="432.3" r="2.9" fill="#FF8C00"/>
<circle cx="109.2" cy="434.4" r="2.9" fill="#FF8C00"/>
<circle cx="125.5" cy="436.4" r="2.9" fill="#FF8C00"/>
<circle cx="133.7" cy="436.4" r="2.9" fill="#FF8C00"/>
<circle cx="140.9" cy="431.3" r="2.9" fill="#FF8C00"/>
<circle cx="142.9" cy="433.4" r="2.9" fill="#FF8C00"/>
<circle cx="147.0" cy="431.3" r="2.9" fill="#FF8C00"/>
<circle cx="151.1" cy="435.4" r="2.9" fill="#FF8C00"/>
<circle cx="157.2" cy="427.2" r="2.9" fill="#FF8C00"/>
<circle cx="161.3" cy="429.3" r="2.9" fill="#FF8C00"/>
<circle cx="165.4" cy="429.3" r="2.9" fill="#FF8C00"/>
<circle cx="161.3" cy="435.4" r="2.9" fill="#FF8C00"/>
<circle cx="167.4" cy="433.4" r="2.9" fill="#FF8C00"/>
<path d="M58.5,403.0 L64.3,403.6 L70.1,404.2 L75.9,404.7 L81.7,405.3 L87.5,405.8 L93.3,406.3 L99.1,406.9 L104.9,407.4 L110.7,407.8 L116.5,408.3 L122.3,408.6 L128.1,409.0 L133.9,409.2 L139.7,409.3 L145.5,409.3 L151.3,409.1 L157.1,408.9 L162.9,408.5 L168.7,408.1 L174.6,407.7 L180.4,407.2 L186.2,406.6 L192.0,406.1 L197.8,405.5 L203.6,404.9 L209.4,404.3 L215.2,403.7 L221.0,403.1 L226.8,402.5 L232.6,401.9 L238.4,401.3 L244.2,400.7 L250.0,400.1 L255.8,399.5 L261.6,398.8 L267.4,398.2 L273.2,397.6 L279.0,397.0 L284.8,396.3 L290.6,395.7 L290.6,427.7 L284.8,427.1 L279.0,426.5 L273.2,425.9 L267.4,425.4 L261.6,424.8 L255.8,424.2 L250.0,423.6 L244.2,423.0 L238.4,422.5 L232.6,421.9 L226.8,421.3 L221.0,420.7 L215.2,420.2 L209.4,419.6 L203.6,419.1 L197.8,418.5 L192.0,418.0 L186.2,417.5 L180.4,417.0 L174.6,416.5 L168.7,416.1 L162.9,415.7 L157.1,415.4 L151.3,415.2 L145.5,415.1 L139.7,415.1 L133.9,415.3 L128.1,415.6 L122.3,415.9 L116.5,416.3 L110.7,416.8 L104.9,417.3 L99.1,417.9 L93.3,418.4 L87.5,419.0 L81.7,419.6 L75.9,420.2 L70.1,420.8 L64.3,421.4 L58.5,422.0Z" fill="#999" fill-opacity="0.3"/>
<line x1="58.5" y1="412.5" x2="290.6" y2="411.7" stroke="#FF8C00" stroke-width="2.7"/>
</g>
<path d="M47.9,345.5 V475.3 H333.1" fill="none" stroke="#000" stroke-width="1.5"/>
<line x1="44.5" y1="439.1" x2="47.9" y2="439.1" stroke="#333" stroke-width="1.2"/>
<text class="tk" x="41.7" y="443.6" text-anchor="end">0</text>
<line x1="44.5" y1="402.8" x2="47.9" y2="402.8" stroke="#333" stroke-width="1.2"/>
<text class="tk" x="41.7" y="407.3" text-anchor="end">2</text>
<line x1="44.5" y1="366.5" x2="47.9" y2="366.5" stroke="#333" stroke-width="1.2"/>
<text class="tk" x="41.7" y="371.0" text-anchor="end">4</text>
<line x1="88.1" y1="475.3" x2="88.1" y2="478.7" stroke="#333" stroke-width="1.2"/>
<text class="tk" x="88.1" y="489.7" text-anchor="middle">20</text>
<line x1="162.0" y1="475.3" x2="162.0" y2="478.7" stroke="#333" stroke-width="1.2"/>
<text class="tk" x="162.0" y="489.7" text-anchor="middle">40</text>
<line x1="235.9" y1="475.3" x2="235.9" y2="478.7" stroke="#333" stroke-width="1.2"/>
<text class="tk" x="235.9" y="489.7" text-anchor="middle">60</text>
<line x1="309.7" y1="475.3" x2="309.7" y2="478.7" stroke="#333" stroke-width="1.2"/>
<text class="tk" x="309.7" y="489.7" text-anchor="middle">80</text>
<text class="at" x="190.5" y="503.1" text-anchor="middle">Prevalence of unhealthy diet (%)</text>
<text class="at" transform="translate(29.6,410.8) rotate(-90)" text-anchor="middle">ln(ASR) of ureteral cancer</text>
<clipPath id="c5"><rect x="372.2" y="345.5" width="285.7" height="129.8"/></clipPath>
<g clip-path="url(#c5)">
<circle cx="407.5" cy="364.2" r="2.9" fill="#000080"/>
<circle cx="414.6" cy="362.7" r="2.9" fill="#000080"/>
<circle cx="428.8" cy="360.6" r="2.9" fill="#000080"/>
<circle cx="439.8" cy="351.0" r="2.9" fill="#000080"/>
<circle cx="440.8" cy="368.4" r="2.9" fill="#000080"/>
<circle cx="402.5" cy="370.5" r="2.9" fill="#000080"/>
<circle cx="399.7" cy="373.4" r="2.9" fill="#000080"/>
<circle cx="420.3" cy="366.3" r="2.9" fill="#000080"/>
<circle cx="423.1" cy="369.1" r="2.9" fill="#000080"/>
<circle cx="408.2" cy="370.5" r="2.9" fill="#000080"/>
<circle cx="435.2" cy="372.0" r="2.9" fill="#000080"/>
<circle cx="433.7" cy="376.2" r="2.9" fill="#000080"/>
<circle cx="398.3" cy="379.8" r="2.9" fill="#000080"/>
<circle cx="399.7" cy="382.6" r="2.9" fill="#000080"/>
<circle cx="406.8" cy="383.3" r="2.9" fill="#000080"/>
<circle cx="410.3" cy="386.2" r="2.9" fill="#000080"/>
<circle cx="421.7" cy="377.6" r="2.9" fill="#000080"/>
<circle cx="425.2" cy="379.8" r="2.9" fill="#000080"/>
<circle cx="427.4" cy="383.3" r="2.9" fill="#000080"/>
<circle cx="397.5" cy="390.4" r="2.9" fill="#000080"/>
<circle cx="400.4" cy="393.3" r="2.9" fill="#000080"/>
<circle cx="394.7" cy="391.8" r="2.9" fill="#000080"/>
<circle cx="410.3" cy="397.5" r="2.9" fill="#000080"/>
<circle cx="414.6" cy="399.6" r="2.9" fill="#000080"/>
<circle cx="423.8" cy="404.6" r="2.9" fill="#000080"/>
<circle cx="430.2" cy="398.9" r="2.9" fill="#000080"/>
<circle cx="397.5" cy="401.8" r="2.9" fill="#000080"/>
<circle cx="386.2" cy="406.0" r="2.9" fill="#000080"/>
<circle cx="387.6" cy="412.4" r="2.9" fill="#000080"/>
<circle cx="384.8" cy="425.2" r="2.9" fill="#000080"/>
<circle cx="401.8" cy="423.1" r="2.9" fill="#000080"/>
<circle cx="407.5" cy="427.3" r="2.9" fill="#000080"/>
<circle cx="417.4" cy="426.6" r="2.9" fill="#000080"/>
<circle cx="419.5" cy="428.7" r="2.9" fill="#000080"/>
<circle cx="414.6" cy="433.0" r="2.9" fill="#000080"/>
<circle cx="416.0" cy="435.8" r="2.9" fill="#000080"/>
<circle cx="434.4" cy="438.7" r="2.9" fill="#000080"/>
<circle cx="437.3" cy="438.7" r="2.9" fill="#000080"/>
<circle cx="434.4" cy="447.2" r="2.9" fill="#000080"/>
<circle cx="390.5" cy="445.8" r="2.9" fill="#000080"/>
<circle cx="417.4" cy="445.8" r="2.9" fill="#000080"/>
<circle cx="434.4" cy="418.8" r="2.9" fill="#000080"/>
<circle cx="437.3" cy="418.8" r="2.9" fill="#000080"/>
<circle cx="433.7" cy="425.9" r="2.9" fill="#000080"/>
<circle cx="441.2" cy="351.1" r="2.9" fill="#000080"/>
<circle cx="444.6" cy="365.4" r="2.9" fill="#000080"/>
<circle cx="447.5" cy="366.6" r="2.9" fill="#000080"/>
<circle cx="442.4" cy="368.4" r="2.9" fill="#000080"/>
<circle cx="454.1" cy="368.6" r="2.9" fill="#000080"/>
<circle cx="455.5" cy="362.5" r="2.9" fill="#000080"/>
<circle cx="460.6" cy="362.2" r="2.9" fill="#000080"/>
<circle cx="459.9" cy="366.9" r="2.9" fill="#000080"/>
<circle cx="467.2" cy="367.6" r="2.9" fill="#000080"/>
<circle cx="469.4" cy="367.6" r="2.9" fill="#000080"/>
<circle cx="478.1" cy="361.8" r="2.9" fill="#000080"/>
<circle cx="476.7" cy="371.3" r="2.9" fill="#000080"/>
<circle cx="457.7" cy="376.4" r="2.9" fill="#000080"/>
<circle cx="446.8" cy="377.8" r="2.9" fill="#000080"/>
<circle cx="460.6" cy="383.7" r="2.9" fill="#000080"/>
<circle cx="456.2" cy="382.2" r="2.9" fill="#000080"/>
<circle cx="457.0" cy="391.0" r="2.9" fill="#000080"/>
<circle cx="470.1" cy="392.4" r="2.9" fill="#000080"/>
<circle cx="500.8" cy="373.5" r="2.9" fill="#000080"/>
<circle cx="513.2" cy="378.3" r="2.9" fill="#000080"/>
<circle cx="528.5" cy="380.8" r="2.9" fill="#000080"/>
<circle cx="500.8" cy="384.4" r="2.9" fill="#000080"/>
<circle cx="500.0" cy="387.3" r="2.9" fill="#000080"/>
<circle cx="508.1" cy="393.2" r="2.9" fill="#000080"/>
<circle cx="528.5" cy="391.0" r="2.9" fill="#000080"/>
<circle cx="534.4" cy="391.7" r="2.9" fill="#000080"/>
<circle cx="519.0" cy="400.5" r="2.9" fill="#000080"/>
<circle cx="505.9" cy="403.4" r="2.9" fill="#000080"/>
<circle cx="467.9" cy="402.7" r="2.9" fill="#000080"/>
<circle cx="464.3" cy="412.2" r="2.9" fill="#000080"/>
<circle cx="462.8" cy="413.6" r="2.9" fill="#000080"/>
<circle cx="451.1" cy="415.8" r="2.9" fill="#000080"/>
<circle cx="447.5" cy="417.3" r="2.9" fill="#000080"/>
<circle cx="444.6" cy="420.2" r="2.9" fill="#000080"/>
<circle cx="448.9" cy="424.6" r="2.9" fill="#000080"/>
<circle cx="444.6" cy="425.3" r="2.9" fill="#000080"/>
<circle cx="452.6" cy="437.7" r="2.9" fill="#000080"/>
<circle cx="499.3" cy="415.8" r="2.9" fill="#000080"/>
<circle cx="438.7" cy="439.2" r="2.9" fill="#000080"/>
<circle cx="438.7" cy="419.5" r="2.9" fill="#000080"/>
<circle cx="547.4" cy="401.9" r="2.9" fill="#000080"/>
<circle cx="543.2" cy="414.3" r="2.9" fill="#000080"/>
<circle cx="552.7" cy="422.6" r="2.9" fill="#000080"/>
<circle cx="563.8" cy="428.9" r="2.9" fill="#000080"/>
<circle cx="584.6" cy="403.0" r="2.9" fill="#000080"/>
<circle cx="608.4" cy="409.8" r="2.9" fill="#000080"/>
<circle cx="638.6" cy="403.4" r="2.9" fill="#000080"/>
<circle cx="385.5" cy="393.6" r="2.9" fill="#000080"/>
<circle cx="390.8" cy="392.9" r="2.9" fill="#000080"/>
<circle cx="398.8" cy="392.1" r="2.9" fill="#000080"/>
<circle cx="404.0" cy="393.0" r="2.9" fill="#000080"/>
<circle cx="413.6" cy="394.1" r="2.9" fill="#000080"/>
<circle cx="386.0" cy="397.0" r="2.9" fill="#000080"/>
<circle cx="392.0" cy="396.6" r="2.9" fill="#000080"/>
<circle cx="396.4" cy="397.8" r="2.9" fill="#000080"/>
<circle cx="401.9" cy="396.5" r="2.9" fill="#000080"/>
<circle cx="409.0" cy="398.6" r="2.9" fill="#000080"/>
<circle cx="414.2" cy="398.7" r="2.9" fill="#000080"/>
<circle cx="387.0" cy="402.1" r="2.9" fill="#000080"/>
<circle cx="390.1" cy="402.3" r="2.9" fill="#000080"/>
<circle cx="397.7" cy="403.6" r="2.9" fill="#000080"/>
<circle cx="402.7" cy="402.9" r="2.9" fill="#000080"/>
<circle cx="410.2" cy="405.1" r="2.9" fill="#000080"/>
<circle cx="414.8" cy="405.4" r="2.9" fill="#000080"/>
<circle cx="392.9" cy="408.9" r="2.9" fill="#000080"/>
<circle cx="395.5" cy="408.0" r="2.9" fill="#000080"/>
<circle cx="403.7" cy="411.3" r="2.9" fill="#000080"/>
<circle cx="407.1" cy="409.9" r="2.9" fill="#000080"/>
<circle cx="414.6" cy="409.3" r="2.9" fill="#000080"/>
<circle cx="389.5" cy="417.8" r="2.9" fill="#000080"/>
<circle cx="395.7" cy="416.1" r="2.9" fill="#000080"/>
<circle cx="403.6" cy="416.7" r="2.9" fill="#000080"/>
<circle cx="408.9" cy="416.1" r="2.9" fill="#000080"/>
<circle cx="392.0" cy="421.7" r="2.9" fill="#000080"/>
<circle cx="396.5" cy="420.2" r="2.9" fill="#000080"/>
<circle cx="401.4" cy="422.6" r="2.9" fill="#000080"/>
<circle cx="407.9" cy="421.8" r="2.9" fill="#000080"/>
<circle cx="413.9" cy="421.2" r="2.9" fill="#000080"/>
<circle cx="391.5" cy="427.9" r="2.9" fill="#000080"/>
<circle cx="395.9" cy="429.4" r="2.9" fill="#000080"/>
<circle cx="403.3" cy="426.5" r="2.9" fill="#000080"/>
<circle cx="407.7" cy="429.9" r="2.9" fill="#000080"/>
<circle cx="414.3" cy="427.6" r="2.9" fill="#000080"/>
<circle cx="389.9" cy="434.3" r="2.9" fill="#000080"/>
<circle cx="397.9" cy="434.2" r="2.9" fill="#000080"/>
<circle cx="402.5" cy="433.0" r="2.9" fill="#000080"/>
<circle cx="409.8" cy="433.0" r="2.9" fill="#000080"/>
<circle cx="415.5" cy="435.9" r="2.9" fill="#000080"/>
<circle cx="391.4" cy="438.6" r="2.9" fill="#000080"/>
<circle cx="398.3" cy="441.7" r="2.9" fill="#000080"/>
<circle cx="402.4" cy="438.2" r="2.9" fill="#000080"/>
<circle cx="409.1" cy="439.7" r="2.9" fill="#000080"/>
<circle cx="390.9" cy="446.7" r="2.9" fill="#000080"/>
<circle cx="397.6" cy="446.7" r="2.9" fill="#000080"/>
<circle cx="401.8" cy="447.3" r="2.9" fill="#000080"/>
<circle cx="407.1" cy="445.0" r="2.9" fill="#000080"/>
<circle cx="390.3" cy="450.2" r="2.9" fill="#000080"/>
<circle cx="396.5" cy="452.3" r="2.9" fill="#000080"/>
<circle cx="401.1" cy="453.4" r="2.9" fill="#000080"/>
<path d="M385.0,401.3 L391.3,401.2 L397.7,401.0 L404.0,400.8 L410.4,400.5 L416.7,400.2 L423.1,399.9 L429.4,399.4 L435.8,398.9 L442.1,398.3 L448.4,397.6 L454.8,396.8 L461.1,396.0 L467.5,395.1 L473.8,394.2 L480.2,393.3 L486.5,392.3 L492.9,391.3 L499.2,390.4 L505.6,389.4 L511.9,388.4 L518.2,387.3 L524.6,386.3 L530.9,385.3 L537.3,384.3 L543.6,383.2 L550.0,382.2 L556.3,381.2 L562.7,380.1 L569.0,379.1 L575.3,378.1 L581.7,377.0 L588.0,376.0 L594.4,374.9 L600.7,373.9 L607.1,372.8 L613.4,371.8 L619.8,370.7 L626.1,369.7 L632.5,368.6 L638.8,367.6 L638.8,401.0 L632.5,401.0 L626.1,401.1 L619.8,401.1 L613.4,401.2 L607.1,401.2 L600.7,401.3 L594.4,401.3 L588.0,401.4 L581.7,401.4 L575.3,401.5 L569.0,401.5 L562.7,401.6 L556.3,401.7 L550.0,401.7 L543.6,401.8 L537.3,401.8 L530.9,401.9 L524.6,402.0 L518.2,402.1 L511.9,402.1 L505.6,402.2 L499.2,402.3 L492.9,402.4 L486.5,402.6 L480.2,402.7 L473.8,402.9 L467.5,403.0 L461.1,403.3 L454.8,403.5 L448.4,403.8 L442.1,404.2 L435.8,404.7 L429.4,405.3 L423.1,405.9 L416.7,406.7 L410.4,407.5 L404.0,408.3 L397.7,409.2 L391.3,410.1 L385.0,411.1Z" fill="#999" fill-opacity="0.3"/>
<line x1="385" y1="406.2" x2="638.8" y2="384.3" stroke="#000080" stroke-width="2.7"/>
<circle cx="395.4" cy="369.1" r="2.9" fill="#FF8C00"/>
<circle cx="408.6" cy="374.5" r="2.9" fill="#FF8C00"/>
<circle cx="415.3" cy="374.1" r="2.9" fill="#FF8C00"/>
<circle cx="414.6" cy="379.1" r="2.9" fill="#FF8C00"/>
<circle cx="413.2" cy="382.2" r="2.9" fill="#FF8C00"/>
<circle cx="421.0" cy="385.4" r="2.9" fill="#FF8C00"/>
<circle cx="424.5" cy="386.2" r="2.9" fill="#FF8C00"/>
<circle cx="418.1" cy="390.4" r="2.9" fill="#FF8C00"/>
<circle cx="404.6" cy="390.4" r="2.9" fill="#FF8C00"/>
<circle cx="403.9" cy="393.3" r="2.9" fill="#FF8C00"/>
<circle cx="391.9" cy="391.8" r="2.9" fill="#FF8C00"/>
<circle cx="388.3" cy="397.5" r="2.9" fill="#FF8C00"/>
<circle cx="389.0" cy="401.8" r="2.9" fill="#FF8C00"/>
<circle cx="410.3" cy="405.3" r="2.9" fill="#FF8C00"/>
<circle cx="417.4" cy="401.8" r="2.9" fill="#FF8C00"/>
<circle cx="424.5" cy="397.5" r="2.9" fill="#FF8C00"/>
<circle cx="433.0" cy="406.0" r="2.9" fill="#FF8C00"/>
<circle cx="438.7" cy="383.3" r="2.9" fill="#FF8C00"/>
<circle cx="438.7" cy="387.6" r="2.9" fill="#FF8C00"/>
<circle cx="439.4" cy="398.9" r="2.9" fill="#FF8C00"/>
<circle cx="434.4" cy="418.8" r="2.9" fill="#FF8C00"/>
<circle cx="432.3" cy="427.3" r="2.9" fill="#FF8C00"/>
<circle cx="411.7" cy="426.6" r="2.9" fill="#FF8C00"/>
<circle cx="423.1" cy="432.3" r="2.9" fill="#FF8C00"/>
<circle cx="428.8" cy="440.1" r="2.9" fill="#FF8C00"/>
<circle cx="433.0" cy="442.9" r="2.9" fill="#FF8C00"/>
<circle cx="427.4" cy="450.0" r="2.9" fill="#FF8C00"/>
<circle cx="430.2" cy="449.3" r="2.9" fill="#FF8C00"/>
<circle cx="433.7" cy="458.5" r="2.9" fill="#FF8C00"/>
<circle cx="414.6" cy="441.5" r="2.9" fill="#FF8C00"/>
<circle cx="414.6" cy="447.2" r="2.9" fill="#FF8C00"/>
<circle cx="411.7" cy="454.3" r="2.9" fill="#FF8C00"/>
<circle cx="407.5" cy="457.1" r="2.9" fill="#FF8C00"/>
<circle cx="401.1" cy="460.7" r="2.9" fill="#FF8C00"/>
<circle cx="404.6" cy="466.3" r="2.9" fill="#FF8C00"/>
<circle cx="397.5" cy="445.8" r="2.9" fill="#FF8C00"/>
<circle cx="403.2" cy="450.0" r="2.9" fill="#FF8C00"/>
<circle cx="459.2" cy="361.8" r="2.9" fill="#FF8C00"/>
<circle cx="446.0" cy="372.0" r="2.9" fill="#FF8C00"/>
<circle cx="451.9" cy="380.0" r="2.9" fill="#FF8C00"/>
<circle cx="455.5" cy="380.8" r="2.9" fill="#FF8C00"/>
<circle cx="465.0" cy="379.3" r="2.9" fill="#FF8C00"/>
<circle cx="466.5" cy="383.0" r="2.9" fill="#FF8C00"/>
<circle cx="469.4" cy="384.4" r="2.9" fill="#FF8C00"/>
<circle cx="476.0" cy="388.8" r="2.9" fill="#FF8C00"/>
<circle cx="484.0" cy="377.1" r="2.9" fill="#FF8C00"/>
<circle cx="487.6" cy="380.0" r="2.9" fill="#FF8C00"/>
<circle cx="492.0" cy="379.3" r="2.9" fill="#FF8C00"/>
<circle cx="494.2" cy="371.3" r="2.9" fill="#FF8C00"/>
<circle cx="495.7" cy="376.4" r="2.9" fill="#FF8C00"/>
<circle cx="501.5" cy="376.4" r="2.9" fill="#FF8C00"/>
<circle cx="508.1" cy="382.7" r="2.9" fill="#FF8C00"/>
<circle cx="516.1" cy="379.3" r="2.9" fill="#FF8C00"/>
<circle cx="486.2" cy="388.1" r="2.9" fill="#FF8C00"/>
<circle cx="491.3" cy="387.3" r="2.9" fill="#FF8C00"/>
<circle cx="493.5" cy="386.6" r="2.9" fill="#FF8C00"/>
<circle cx="494.9" cy="391.7" r="2.9" fill="#FF8C00"/>
<circle cx="497.1" cy="393.2" r="2.9" fill="#FF8C00"/>
<circle cx="484.7" cy="393.9" r="2.9" fill="#FF8C00"/>
<circle cx="486.9" cy="390.3" r="2.9" fill="#FF8C00"/>
<circle cx="492.0" cy="396.1" r="2.9" fill="#FF8C00"/>
<circle cx="465.0" cy="392.4" r="2.9" fill="#FF8C00"/>
<circle cx="467.9" cy="391.7" r="2.9" fill="#FF8C00"/>
<circle cx="454.1" cy="392.4" r="2.9" fill="#FF8C00"/>
<circle cx="454.1" cy="400.5" r="2.9" fill="#FF8C00"/>
<circle cx="444.6" cy="396.1" r="2.9" fill="#FF8C00"/>
<circle cx="448.2" cy="403.4" r="2.9" fill="#FF8C00"/>
<circle cx="441.6" cy="400.5" r="2.9" fill="#FF8C00"/>
<circle cx="439.5" cy="385.9" r="2.9" fill="#FF8C00"/>
<circle cx="440.9" cy="390.3" r="2.9" fill="#FF8C00"/>
<circle cx="477.4" cy="409.2" r="2.9" fill="#FF8C00"/>
<circle cx="476.7" cy="414.3" r="2.9" fill="#FF8C00"/>
<circle cx="479.6" cy="420.9" r="2.9" fill="#FF8C00"/>
<circle cx="486.2" cy="406.3" r="2.9" fill="#FF8C00"/>
<circle cx="493.5" cy="405.6" r="2.9" fill="#FF8C00"/>
<circle cx="494.2" cy="414.3" r="2.9" fill="#FF8C00"/>
<circle cx="498.6" cy="414.3" r="2.9" fill="#FF8C00"/>
<circle cx="505.2" cy="415.8" r="2.9" fill="#FF8C00"/>
<circle cx="506.6" cy="408.5" r="2.9" fill="#FF8C00"/>
<circle cx="510.3" cy="403.4" r="2.9" fill="#FF8C00"/>
<circle cx="520.5" cy="410.7" r="2.9" fill="#FF8C00"/>
<circle cx="531.4" cy="397.6" r="2.9" fill="#FF8C00"/>
<circle cx="535.8" cy="402.7" r="2.9" fill="#FF8C00"/>
<circle cx="462.1" cy="416.5" r="2.9" fill="#FF8C00"/>
<circle cx="463.5" cy="419.5" r="2.9" fill="#FF8C00"/>
<circle cx="468.7" cy="422.4" r="2.9" fill="#FF8C00"/>
<circle cx="470.8" cy="428.9" r="2.9" fill="#FF8C00"/>
<circle cx="456.2" cy="432.6" r="2.9" fill="#FF8C00"/>
<circle cx="443.8" cy="415.8" r="2.9" fill="#FF8C00"/>
<circle cx="446.0" cy="445.7" r="2.9" fill="#FF8C00"/>
<circle cx="476.7" cy="442.8" r="2.9" fill="#FF8C00"/>
<circle cx="479.6" cy="442.1" r="2.9" fill="#FF8C00"/>
<circle cx="444.6" cy="469.1" r="2.9" fill="#FF8C00"/>
<circle cx="551.1" cy="380.0" r="2.9" fill="#FF8C00"/>
<circle cx="548.1" cy="404.3" r="2.9" fill="#FF8C00"/>
<circle cx="565.1" cy="408.9" r="2.9" fill="#FF8C00"/>
<circle cx="574.8" cy="389.7" r="2.9" fill="#FF8C00"/>
<circle cx="644.5" cy="396.6" r="2.9" fill="#FF8C00"/>
<circle cx="641.8" cy="413.4" r="2.9" fill="#FF8C00"/>
<circle cx="388.3" cy="405.6" r="2.9" fill="#FF8C00"/>
<circle cx="393.1" cy="404.8" r="2.9" fill="#FF8C00"/>
<circle cx="404.7" cy="405.3" r="2.9" fill="#FF8C00"/>
<circle cx="408.0" cy="405.0" r="2.9" fill="#FF8C00"/>
<circle cx="386.4" cy="410.3" r="2.9" fill="#FF8C00"/>
<circle cx="387.9" cy="408.4" r="2.9" fill="#FF8C00"/>
<circle cx="393.9" cy="410.2" r="2.9" fill="#FF8C00"/>
<circle cx="397.6" cy="409.6" r="2.9" fill="#FF8C00"/>
<circle cx="402.8" cy="410.1" r="2.9" fill="#FF8C00"/>
<circle cx="409.2" cy="410.0" r="2.9" fill="#FF8C00"/>
<circle cx="411.4" cy="410.0" r="2.9" fill="#FF8C00"/>
<circle cx="391.0" cy="414.8" r="2.9" fill="#FF8C00"/>
<circle cx="395.0" cy="414.8" r="2.9" fill="#FF8C00"/>
<circle cx="398.9" cy="412.8" r="2.9" fill="#FF8C00"/>
<circle cx="404.8" cy="413.7" r="2.9" fill="#FF8C00"/>
<circle cx="406.2" cy="413.6" r="2.9" fill="#FF8C00"/>
<circle cx="412.1" cy="412.8" r="2.9" fill="#FF8C00"/>
<circle cx="386.1" cy="418.6" r="2.9" fill="#FF8C00"/>
<circle cx="388.4" cy="417.9" r="2.9" fill="#FF8C00"/>
<circle cx="393.8" cy="417.2" r="2.9" fill="#FF8C00"/>
<circle cx="399.4" cy="418.9" r="2.9" fill="#FF8C00"/>
<circle cx="404.8" cy="419.5" r="2.9" fill="#FF8C00"/>
<circle cx="408.7" cy="420.0" r="2.9" fill="#FF8C00"/>
<circle cx="385.8" cy="424.4" r="2.9" fill="#FF8C00"/>
<circle cx="390.5" cy="424.1" r="2.9" fill="#FF8C00"/>
<circle cx="392.5" cy="422.7" r="2.9" fill="#FF8C00"/>
<circle cx="397.3" cy="423.3" r="2.9" fill="#FF8C00"/>
<circle cx="403.5" cy="423.2" r="2.9" fill="#FF8C00"/>
<circle cx="389.5" cy="427.9" r="2.9" fill="#FF8C00"/>
<circle cx="395.6" cy="427.8" r="2.9" fill="#FF8C00"/>
<circle cx="399.8" cy="426.9" r="2.9" fill="#FF8C00"/>
<circle cx="403.1" cy="426.5" r="2.9" fill="#FF8C00"/>
<circle cx="390.0" cy="432.9" r="2.9" fill="#FF8C00"/>
<circle cx="394.2" cy="432.2" r="2.9" fill="#FF8C00"/>
<circle cx="400.1" cy="431.5" r="2.9" fill="#FF8C00"/>
<circle cx="403.9" cy="432.7" r="2.9" fill="#FF8C00"/>
<circle cx="408.5" cy="432.1" r="2.9" fill="#FF8C00"/>
<circle cx="410.8" cy="433.1" r="2.9" fill="#FF8C00"/>
<circle cx="386.4" cy="437.7" r="2.9" fill="#FF8C00"/>
<circle cx="389.1" cy="438.0" r="2.9" fill="#FF8C00"/>
<circle cx="393.6" cy="436.2" r="2.9" fill="#FF8C00"/>
<circle cx="398.8" cy="437.3" r="2.9" fill="#FF8C00"/>
<circle cx="403.8" cy="437.0" r="2.9" fill="#FF8C00"/>
<circle cx="407.5" cy="437.6" r="2.9" fill="#FF8C00"/>
<circle cx="411.8" cy="437.1" r="2.9" fill="#FF8C00"/>
<circle cx="389.1" cy="440.0" r="2.9" fill="#FF8C00"/>
<circle cx="394.9" cy="440.8" r="2.9" fill="#FF8C00"/>
<circle cx="397.1" cy="440.7" r="2.9" fill="#FF8C00"/>
<circle cx="404.6" cy="442.2" r="2.9" fill="#FF8C00"/>
<circle cx="406.2" cy="442.9" r="2.9" fill="#FF8C00"/>
<circle cx="411.0" cy="441.3" r="2.9" fill="#FF8C00"/>
<circle cx="388.7" cy="446.8" r="2.9" fill="#FF8C00"/>
<circle cx="395.4" cy="446.3" r="2.9" fill="#FF8C00"/>
<circle cx="397.0" cy="446.5" r="2.9" fill="#FF8C00"/>
<circle cx="403.0" cy="446.7" r="2.9" fill="#FF8C00"/>
<circle cx="408.7" cy="444.7" r="2.9" fill="#FF8C00"/>
<circle cx="412.6" cy="446.5" r="2.9" fill="#FF8C00"/>
<circle cx="402.9" cy="449.7" r="2.9" fill="#FF8C00"/>
<circle cx="409.2" cy="451.7" r="2.9" fill="#FF8C00"/>
<circle cx="412.3" cy="449.2" r="2.9" fill="#FF8C00"/>
<circle cx="411.1" cy="453.8" r="2.9" fill="#FF8C00"/>
<path d="M385.0,415.5 L391.5,414.7 L398.0,413.8 L404.5,412.9 L411.0,411.9 L417.4,411.0 L423.9,409.9 L430.4,408.8 L436.9,407.7 L443.4,406.4 L449.9,405.2 L456.4,403.8 L462.9,402.4 L469.4,401.0 L475.9,399.5 L482.4,398.1 L488.8,396.6 L495.3,395.0 L501.8,393.5 L508.3,392.0 L514.8,390.4 L521.3,388.9 L527.8,387.3 L534.3,385.7 L540.8,384.2 L547.2,382.6 L553.7,381.0 L560.2,379.4 L566.7,377.9 L573.2,376.3 L579.7,374.7 L586.2,373.1 L592.7,371.5 L599.2,369.9 L605.7,368.4 L612.1,366.8 L618.6,365.2 L625.1,363.6 L631.6,362.0 L638.1,360.4 L644.6,358.8 L644.6,387.8 L638.1,388.5 L631.6,389.3 L625.1,390.0 L618.6,390.7 L612.1,391.5 L605.7,392.2 L599.2,393.0 L592.7,393.7 L586.2,394.5 L579.7,395.2 L573.2,395.9 L566.7,396.7 L560.2,397.4 L553.7,398.2 L547.2,398.9 L540.8,399.7 L534.3,400.5 L527.8,401.2 L521.3,402.0 L514.8,402.8 L508.3,403.6 L501.8,404.3 L495.3,405.1 L488.8,406.0 L482.4,406.8 L475.9,407.6 L469.4,408.5 L462.9,409.4 L456.4,410.4 L449.9,411.3 L443.4,412.4 L436.9,413.5 L430.4,414.7 L423.9,415.9 L417.4,417.2 L411.0,418.5 L404.5,419.9 L398.0,421.4 L391.5,422.8 L385.0,424.3Z" fill="#999" fill-opacity="0.3"/>
<line x1="385" y1="419.9" x2="644.6" y2="373.3" stroke="#FF8C00" stroke-width="2.7"/>
</g>
<path d="M372.2,345.5 V475.3 H657.9" fill="none" stroke="#000" stroke-width="1.5"/>
<line x1="368.8" y1="439.1" x2="372.2" y2="439.1" stroke="#333" stroke-width="1.2"/>
<text class="tk" x="366.0" y="443.6" text-anchor="end">0</text>
<line x1="368.8" y1="402.8" x2="372.2" y2="402.8" stroke="#333" stroke-width="1.2"/>
<text class="tk" x="366.0" y="407.3" text-anchor="end">2</text>
<line x1="368.8" y1="366.5" x2="372.2" y2="366.5" stroke="#333" stroke-width="1.2"/>
<text class="tk" x="366.0" y="371.0" text-anchor="end">4</text>
<line x1="376.3" y1="475.3" x2="376.3" y2="478.7" stroke="#333" stroke-width="1.2"/>
<text class="tk" x="376.3" y="489.7" text-anchor="middle">0</text>
<line x1="448.0" y1="475.3" x2="448.0" y2="478.7" stroke="#333" stroke-width="1.2"/>
<text class="tk" x="448.0" y="489.7" text-anchor="middle">5</text>
<line x1="519.6" y1="475.3" x2="519.6" y2="478.7" stroke="#333" stroke-width="1.2"/>
<text class="tk" x="519.6" y="489.7" text-anchor="middle">10</text>
<line x1="591.3" y1="475.3" x2="591.3" y2="478.7" stroke="#333" stroke-width="1.2"/>
<text class="tk" x="591.3" y="489.7" text-anchor="middle">15</text>
<text class="at" x="515.0" y="503.1" text-anchor="middle">Prevalence of physical inactivity (%)</text>
<text class="at" transform="translate(353.7,410.8) rotate(-90)" text-anchor="middle">ln(ASR) of ureteral cancer</text>
<clipPath id="c6"><rect x="47.9" y="518.5" width="284.90000000000003" height="129.79999999999995"/></clipPath>
<g clip-path="url(#c6)">
<circle cx="94.4" cy="524.1" r="2.9" fill="#000080"/>
<circle cx="67.3" cy="541.1" r="2.9" fill="#000080"/>
<circle cx="121.4" cy="533.6" r="2.9" fill="#000080"/>
<circle cx="141.4" cy="537.0" r="2.9" fill="#000080"/>
<circle cx="145.1" cy="538.4" r="2.9" fill="#000080"/>
<circle cx="147.3" cy="549.4" r="2.9" fill="#000080"/>
<circle cx="108.6" cy="551.9" r="2.9" fill="#000080"/>
<circle cx="136.3" cy="553.0" r="2.9" fill="#000080"/>
<circle cx="134.1" cy="556.7" r="2.9" fill="#000080"/>
<circle cx="128.6" cy="563.5" r="2.9" fill="#000080"/>
<circle cx="83.0" cy="566.2" r="2.9" fill="#000080"/>
<circle cx="94.7" cy="567.3" r="2.9" fill="#000080"/>
<circle cx="116.3" cy="567.9" r="2.9" fill="#000080"/>
<circle cx="108.6" cy="572.7" r="2.9" fill="#000080"/>
<circle cx="77.9" cy="573.8" r="2.9" fill="#000080"/>
<circle cx="72.1" cy="578.1" r="2.9" fill="#000080"/>
<circle cx="76.9" cy="581.5" r="2.9" fill="#000080"/>
<circle cx="86.7" cy="579.3" r="2.9" fill="#000080"/>
<circle cx="91.8" cy="576.1" r="2.9" fill="#000080"/>
<circle cx="60.8" cy="595.4" r="2.9" fill="#000080"/>
<circle cx="80.1" cy="587.3" r="2.9" fill="#000080"/>
<circle cx="77.2" cy="593.9" r="2.9" fill="#000080"/>
<circle cx="75.7" cy="601.9" r="2.9" fill="#000080"/>
<circle cx="75.0" cy="607.1" r="2.9" fill="#000080"/>
<circle cx="85.2" cy="601.9" r="2.9" fill="#000080"/>
<circle cx="86.0" cy="609.2" r="2.9" fill="#000080"/>
<circle cx="93.3" cy="599.8" r="2.9" fill="#000080"/>
<circle cx="94.7" cy="589.5" r="2.9" fill="#000080"/>
<circle cx="99.1" cy="589.5" r="2.9" fill="#000080"/>
<circle cx="96.2" cy="593.9" r="2.9" fill="#000080"/>
<circle cx="105.7" cy="586.6" r="2.9" fill="#000080"/>
<circle cx="107.9" cy="589.5" r="2.9" fill="#000080"/>
<circle cx="116.6" cy="588.8" r="2.9" fill="#000080"/>
<circle cx="121.0" cy="588.1" r="2.9" fill="#000080"/>
<circle cx="127.6" cy="585.9" r="2.9" fill="#000080"/>
<circle cx="112.2" cy="593.9" r="2.9" fill="#000080"/>
<circle cx="119.5" cy="601.2" r="2.9" fill="#000080"/>
<circle cx="126.8" cy="601.9" r="2.9" fill="#000080"/>
<circle cx="113.7" cy="606.3" r="2.9" fill="#000080"/>
<circle cx="121.0" cy="606.3" r="2.9" fill="#000080"/>
<circle cx="121.0" cy="612.9" r="2.9" fill="#000080"/>
<circle cx="141.4" cy="612.9" r="2.9" fill="#000080"/>
<circle cx="143.6" cy="596.1" r="2.9" fill="#000080"/>
<circle cx="138.5" cy="574.9" r="2.9" fill="#000080"/>
<circle cx="142.9" cy="566.2" r="2.9" fill="#000080"/>
<circle cx="90.3" cy="618.7" r="2.9" fill="#000080"/>
<circle cx="97.6" cy="618.7" r="2.9" fill="#000080"/>
<circle cx="104.2" cy="617.3" r="2.9" fill="#000080"/>
<circle cx="107.1" cy="619.5" r="2.9" fill="#000080"/>
<circle cx="121.7" cy="620.2" r="2.9" fill="#000080"/>
<circle cx="129.8" cy="576.4" r="2.9" fill="#000080"/>
<circle cx="138.5" cy="585.2" r="2.9" fill="#000080"/>
<circle cx="109.3" cy="610.0" r="2.9" fill="#000080"/>
<circle cx="152.3" cy="534.1" r="2.9" fill="#000080"/>
<circle cx="158.1" cy="534.8" r="2.9" fill="#000080"/>
<circle cx="167.6" cy="535.5" r="2.9" fill="#000080"/>
<circle cx="151.6" cy="539.9" r="2.9" fill="#000080"/>
<circle cx="159.6" cy="539.2" r="2.9" fill="#000080"/>
<circle cx="173.5" cy="540.6" r="2.9" fill="#000080"/>
<circle cx="180.8" cy="542.8" r="2.9" fill="#000080"/>
<circle cx="184.4" cy="539.9" r="2.9" fill="#000080"/>
<circle cx="187.3" cy="545.7" r="2.9" fill="#000080"/>
<circle cx="193.2" cy="542.8" r="2.9" fill="#000080"/>
<circle cx="204.1" cy="540.6" r="2.9" fill="#000080"/>
<circle cx="209.2" cy="543.5" r="2.9" fill="#000080"/>
<circle cx="218.7" cy="543.5" r="2.9" fill="#000080"/>
<circle cx="232.6" cy="545.0" r="2.9" fill="#000080"/>
<circle cx="148.6" cy="549.4" r="2.9" fill="#000080"/>
<circle cx="158.1" cy="550.1" r="2.9" fill="#000080"/>
<circle cx="163.2" cy="550.1" r="2.9" fill="#000080"/>
<circle cx="177.1" cy="550.8" r="2.9" fill="#000080"/>
<circle cx="183.7" cy="550.8" r="2.9" fill="#000080"/>
<circle cx="190.3" cy="549.4" r="2.9" fill="#000080"/>
<circle cx="201.9" cy="549.4" r="2.9" fill="#000080"/>
<circle cx="150.1" cy="556.0" r="2.9" fill="#000080"/>
<circle cx="160.3" cy="557.4" r="2.9" fill="#000080"/>
<circle cx="184.4" cy="560.3" r="2.9" fill="#000080"/>
<circle cx="193.2" cy="560.3" r="2.9" fill="#000080"/>
<circle cx="203.4" cy="560.3" r="2.9" fill="#000080"/>
<circle cx="215.1" cy="561.8" r="2.9" fill="#000080"/>
<circle cx="225.3" cy="564.0" r="2.9" fill="#000080"/>
<circle cx="167.6" cy="566.2" r="2.9" fill="#000080"/>
<circle cx="180.0" cy="569.1" r="2.9" fill="#000080"/>
<circle cx="188.8" cy="570.6" r="2.9" fill="#000080"/>
<circle cx="191.7" cy="573.5" r="2.9" fill="#000080"/>
<circle cx="202.7" cy="577.9" r="2.9" fill="#000080"/>
<circle cx="207.8" cy="576.4" r="2.9" fill="#000080"/>
<circle cx="231.1" cy="574.9" r="2.9" fill="#000080"/>
<circle cx="244.3" cy="572.7" r="2.9" fill="#000080"/>
<circle cx="158.9" cy="577.1" r="2.9" fill="#000080"/>
<circle cx="174.2" cy="579.3" r="2.9" fill="#000080"/>
<circle cx="172.0" cy="588.8" r="2.9" fill="#000080"/>
<circle cx="147.9" cy="585.9" r="2.9" fill="#000080"/>
<circle cx="153.8" cy="591.7" r="2.9" fill="#000080"/>
<circle cx="156.7" cy="592.5" r="2.9" fill="#000080"/>
<circle cx="150.8" cy="597.6" r="2.9" fill="#000080"/>
<circle cx="183.7" cy="596.8" r="2.9" fill="#000080"/>
<circle cx="191.0" cy="597.6" r="2.9" fill="#000080"/>
<circle cx="207.0" cy="599.8" r="2.9" fill="#000080"/>
<circle cx="150.8" cy="610.0" r="2.9" fill="#000080"/>
<circle cx="217.3" cy="612.9" r="2.9" fill="#000080"/>
<circle cx="145.7" cy="607.8" r="2.9" fill="#000080"/>
<circle cx="266.6" cy="558.9" r="2.9" fill="#000080"/>
<circle cx="306.9" cy="553.8" r="2.9" fill="#000080"/>
<circle cx="245.5" cy="572.7" r="2.9" fill="#000080"/>
<circle cx="257.5" cy="569.1" r="2.9" fill="#000080"/>
<circle cx="287.9" cy="575.4" r="2.9" fill="#000080"/>
<circle cx="320.6" cy="576.1" r="2.9" fill="#000080"/>
<circle cx="266.0" cy="582.2" r="2.9" fill="#000080"/>
<circle cx="76.5" cy="600.4" r="2.9" fill="#000080"/>
<circle cx="80.8" cy="602.6" r="2.9" fill="#000080"/>
<circle cx="74.3" cy="607.0" r="2.9" fill="#000080"/>
<circle cx="87.4" cy="591.6" r="2.9" fill="#000080"/>
<circle cx="94.0" cy="591.6" r="2.9" fill="#000080"/>
<circle cx="98.4" cy="589.4" r="2.9" fill="#000080"/>
<circle cx="104.9" cy="591.6" r="2.9" fill="#000080"/>
<circle cx="109.3" cy="589.4" r="2.9" fill="#000080"/>
<circle cx="102.7" cy="596.0" r="2.9" fill="#000080"/>
<circle cx="96.2" cy="598.2" r="2.9" fill="#000080"/>
<circle cx="91.8" cy="602.6" r="2.9" fill="#000080"/>
<circle cx="113.7" cy="593.8" r="2.9" fill="#000080"/>
<circle cx="118.1" cy="598.2" r="2.9" fill="#000080"/>
<circle cx="122.4" cy="600.4" r="2.9" fill="#000080"/>
<circle cx="153.1" cy="543.5" r="2.9" fill="#000080"/>
<circle cx="150.9" cy="550.0" r="2.9" fill="#000080"/>
<circle cx="157.5" cy="545.7" r="2.9" fill="#000080"/>
<circle cx="161.9" cy="541.3" r="2.9" fill="#000080"/>
<circle cx="179.4" cy="545.7" r="2.9" fill="#000080"/>
<circle cx="188.1" cy="547.8" r="2.9" fill="#000080"/>
<circle cx="183.8" cy="554.4" r="2.9" fill="#000080"/>
<circle cx="192.5" cy="550.0" r="2.9" fill="#000080"/>
<circle cx="170.6" cy="558.8" r="2.9" fill="#000080"/>
<circle cx="157.5" cy="558.8" r="2.9" fill="#000080"/>
<path d="M61.2,587.2 L67.7,586.2 L74.2,585.3 L80.7,584.3 L87.1,583.3 L93.6,582.3 L100.1,581.3 L106.6,580.3 L113.1,579.3 L119.6,578.2 L126.1,577.1 L132.5,576.0 L139.0,574.9 L145.5,573.7 L152.0,572.4 L158.5,571.1 L165.0,569.7 L171.4,568.2 L177.9,566.7 L184.4,565.1 L190.9,563.4 L197.4,561.8 L203.9,560.1 L210.4,558.3 L216.8,556.6 L223.3,554.8 L229.8,553.1 L236.3,551.3 L242.8,549.5 L249.3,547.7 L255.8,545.9 L262.2,544.1 L268.7,542.3 L275.2,540.5 L281.7,538.7 L288.2,536.9 L294.7,535.1 L301.1,533.3 L307.6,531.4 L314.1,529.6 L320.6,527.8 L320.6,551.0 L314.1,551.9 L307.6,552.9 L301.1,553.8 L294.7,554.8 L288.2,555.7 L281.7,556.7 L275.2,557.6 L268.7,558.6 L262.2,559.6 L255.8,560.5 L249.3,561.5 L242.8,562.5 L236.3,563.4 L229.8,564.4 L223.3,565.4 L216.8,566.4 L210.4,567.5 L203.9,568.5 L197.4,569.6 L190.9,570.7 L184.4,571.8 L177.9,573.0 L171.4,574.2 L165.0,575.5 L158.5,576.9 L152.0,578.3 L145.5,579.8 L139.0,581.4 L132.5,583.0 L126.1,584.6 L119.6,586.3 L113.1,588.0 L106.6,589.8 L100.1,591.5 L93.6,593.3 L87.1,595.0 L80.7,596.8 L74.2,598.6 L67.7,600.4 L61.2,602.2Z" fill="#999" fill-opacity="0.3"/>
<line x1="61.2" y1="594.7" x2="320.6" y2="539.4" stroke="#000080" stroke-width="2.7"/>
<circle cx="92.5" cy="535.1" r="2.9" fill="#FF8C00"/>
<circle cx="67.0" cy="547.2" r="2.9" fill="#FF8C00"/>
<circle cx="104.2" cy="547.9" r="2.9" fill="#FF8C00"/>
<circle cx="109.3" cy="545.4" r="2.9" fill="#FF8C00"/>
<circle cx="127.6" cy="557.4" r="2.9" fill="#FF8C00"/>
<circle cx="102.7" cy="565.9" r="2.9" fill="#FF8C00"/>
<circle cx="139.2" cy="568.4" r="2.9" fill="#FF8C00"/>
<circle cx="141.4" cy="569.8" r="2.9" fill="#FF8C00"/>
<circle cx="127.6" cy="574.2" r="2.9" fill="#FF8C00"/>
<circle cx="147.3" cy="564.0" r="2.9" fill="#FF8C00"/>
<circle cx="102.7" cy="580.5" r="2.9" fill="#FF8C00"/>
<circle cx="107.9" cy="581.5" r="2.9" fill="#FF8C00"/>
<circle cx="113.4" cy="583.4" r="2.9" fill="#FF8C00"/>
<circle cx="84.5" cy="584.9" r="2.9" fill="#FF8C00"/>
<circle cx="91.8" cy="585.9" r="2.9" fill="#FF8C00"/>
<circle cx="81.6" cy="591.0" r="2.9" fill="#FF8C00"/>
<circle cx="78.7" cy="591.7" r="2.9" fill="#FF8C00"/>
<circle cx="103.5" cy="593.2" r="2.9" fill="#FF8C00"/>
<circle cx="109.3" cy="595.4" r="2.9" fill="#FF8C00"/>
<circle cx="102.7" cy="597.6" r="2.9" fill="#FF8C00"/>
<circle cx="107.1" cy="601.2" r="2.9" fill="#FF8C00"/>
<circle cx="123.9" cy="598.3" r="2.9" fill="#FF8C00"/>
<circle cx="134.1" cy="584.4" r="2.9" fill="#FF8C00"/>
<circle cx="140.0" cy="584.4" r="2.9" fill="#FF8C00"/>
<circle cx="137.1" cy="591.0" r="2.9" fill="#FF8C00"/>
<circle cx="132.7" cy="598.3" r="2.9" fill="#FF8C00"/>
<circle cx="135.6" cy="602.7" r="2.9" fill="#FF8C00"/>
<circle cx="140.0" cy="601.2" r="2.9" fill="#FF8C00"/>
<circle cx="134.1" cy="607.1" r="2.9" fill="#FF8C00"/>
<circle cx="138.5" cy="607.1" r="2.9" fill="#FF8C00"/>
<circle cx="132.7" cy="610.0" r="2.9" fill="#FF8C00"/>
<circle cx="134.1" cy="613.6" r="2.9" fill="#FF8C00"/>
<circle cx="145.8" cy="607.1" r="2.9" fill="#FF8C00"/>
<circle cx="147.3" cy="591.0" r="2.9" fill="#FF8C00"/>
<circle cx="83.0" cy="606.3" r="2.9" fill="#FF8C00"/>
<circle cx="98.4" cy="604.9" r="2.9" fill="#FF8C00"/>
<circle cx="96.9" cy="610.0" r="2.9" fill="#FF8C00"/>
<circle cx="75.0" cy="612.2" r="2.9" fill="#FF8C00"/>
<circle cx="89.6" cy="612.9" r="2.9" fill="#FF8C00"/>
<circle cx="93.3" cy="612.9" r="2.9" fill="#FF8C00"/>
<circle cx="90.3" cy="615.8" r="2.9" fill="#FF8C00"/>
<circle cx="96.2" cy="615.8" r="2.9" fill="#FF8C00"/>
<circle cx="91.8" cy="620.2" r="2.9" fill="#FF8C00"/>
<circle cx="88.9" cy="623.8" r="2.9" fill="#FF8C00"/>
<circle cx="97.6" cy="622.4" r="2.9" fill="#FF8C00"/>
<circle cx="106.4" cy="624.6" r="2.9" fill="#FF8C00"/>
<circle cx="110.8" cy="613.6" r="2.9" fill="#FF8C00"/>
<circle cx="113.7" cy="613.6" r="2.9" fill="#FF8C00"/>
<circle cx="126.8" cy="615.8" r="2.9" fill="#FF8C00"/>
<circle cx="129.0" cy="618.7" r="2.9" fill="#FF8C00"/>
<circle cx="126.8" cy="622.4" r="2.9" fill="#FF8C00"/>
<circle cx="145.8" cy="618.7" r="2.9" fill="#FF8C00"/>
<circle cx="145.8" cy="623.1" r="2.9" fill="#FF8C00"/>
<circle cx="145.8" cy="631.9" r="2.9" fill="#FF8C00"/>
<circle cx="119.5" cy="634.1" r="2.9" fill="#FF8C00"/>
<circle cx="121.7" cy="639.5" r="2.9" fill="#FF8C00"/>
<circle cx="129.8" cy="611.4" r="2.9" fill="#FF8C00"/>
<circle cx="162.5" cy="541.4" r="2.9" fill="#FF8C00"/>
<circle cx="197.6" cy="544.0" r="2.9" fill="#FF8C00"/>
<circle cx="153.8" cy="549.4" r="2.9" fill="#FF8C00"/>
<circle cx="168.4" cy="548.7" r="2.9" fill="#FF8C00"/>
<circle cx="171.3" cy="551.6" r="2.9" fill="#FF8C00"/>
<circle cx="167.6" cy="554.5" r="2.9" fill="#FF8C00"/>
<circle cx="170.5" cy="556.0" r="2.9" fill="#FF8C00"/>
<circle cx="176.4" cy="552.3" r="2.9" fill="#FF8C00"/>
<circle cx="178.6" cy="554.5" r="2.9" fill="#FF8C00"/>
<circle cx="188.8" cy="553.0" r="2.9" fill="#FF8C00"/>
<circle cx="193.2" cy="550.1" r="2.9" fill="#FF8C00"/>
<circle cx="207.0" cy="549.4" r="2.9" fill="#FF8C00"/>
<circle cx="213.6" cy="552.3" r="2.9" fill="#FF8C00"/>
<circle cx="220.9" cy="558.1" r="2.9" fill="#FF8C00"/>
<circle cx="230.4" cy="553.0" r="2.9" fill="#FF8C00"/>
<circle cx="239.2" cy="564.7" r="2.9" fill="#FF8C00"/>
<circle cx="154.5" cy="556.0" r="2.9" fill="#FF8C00"/>
<circle cx="153.8" cy="560.3" r="2.9" fill="#FF8C00"/>
<circle cx="147.2" cy="564.0" r="2.9" fill="#FF8C00"/>
<circle cx="158.1" cy="566.2" r="2.9" fill="#FF8C00"/>
<circle cx="160.3" cy="563.3" r="2.9" fill="#FF8C00"/>
<circle cx="164.0" cy="561.8" r="2.9" fill="#FF8C00"/>
<circle cx="166.9" cy="560.3" r="2.9" fill="#FF8C00"/>
<circle cx="177.8" cy="561.8" r="2.9" fill="#FF8C00"/>
<circle cx="180.0" cy="564.0" r="2.9" fill="#FF8C00"/>
<circle cx="184.4" cy="564.7" r="2.9" fill="#FF8C00"/>
<circle cx="188.8" cy="566.2" r="2.9" fill="#FF8C00"/>
<circle cx="191.7" cy="560.3" r="2.9" fill="#FF8C00"/>
<circle cx="199.0" cy="558.9" r="2.9" fill="#FF8C00"/>
<circle cx="200.5" cy="567.6" r="2.9" fill="#FF8C00"/>
<circle cx="204.9" cy="557.4" r="2.9" fill="#FF8C00"/>
<circle cx="209.2" cy="561.1" r="2.9" fill="#FF8C00"/>
<circle cx="215.1" cy="564.7" r="2.9" fill="#FF8C00"/>
<circle cx="218.0" cy="565.4" r="2.9" fill="#FF8C00"/>
<circle cx="224.6" cy="569.8" r="2.9" fill="#FF8C00"/>
<circle cx="172.7" cy="573.5" r="2.9" fill="#FF8C00"/>
<circle cx="176.4" cy="569.8" r="2.9" fill="#FF8C00"/>
<circle cx="194.6" cy="570.6" r="2.9" fill="#FF8C00"/>
<circle cx="199.0" cy="573.5" r="2.9" fill="#FF8C00"/>
<circle cx="169.8" cy="581.5" r="2.9" fill="#FF8C00"/>
<circle cx="174.9" cy="584.4" r="2.9" fill="#FF8C00"/>
<circle cx="181.5" cy="586.6" r="2.9" fill="#FF8C00"/>
<circle cx="193.2" cy="577.9" r="2.9" fill="#FF8C00"/>
<circle cx="197.6" cy="580.8" r="2.9" fill="#FF8C00"/>
<circle cx="194.6" cy="586.6" r="2.9" fill="#FF8C00"/>
<circle cx="199.7" cy="584.4" r="2.9" fill="#FF8C00"/>
<circle cx="200.5" cy="591.0" r="2.9" fill="#FF8C00"/>
<circle cx="213.6" cy="573.5" r="2.9" fill="#FF8C00"/>
<circle cx="216.5" cy="577.9" r="2.9" fill="#FF8C00"/>
<circle cx="215.1" cy="586.6" r="2.9" fill="#FF8C00"/>
<circle cx="220.9" cy="593.9" r="2.9" fill="#FF8C00"/>
<circle cx="212.2" cy="582.2" r="2.9" fill="#FF8C00"/>
<circle cx="226.8" cy="580.8" r="2.9" fill="#FF8C00"/>
<circle cx="228.9" cy="589.5" r="2.9" fill="#FF8C00"/>
<circle cx="232.6" cy="595.4" r="2.9" fill="#FF8C00"/>
<circle cx="236.2" cy="594.6" r="2.9" fill="#FF8C00"/>
<circle cx="237.7" cy="588.8" r="2.9" fill="#FF8C00"/>
<circle cx="234.1" cy="579.3" r="2.9" fill="#FF8C00"/>
<circle cx="245.0" cy="586.6" r="2.9" fill="#FF8C00"/>
<circle cx="149.4" cy="592.5" r="2.9" fill="#FF8C00"/>
<circle cx="162.5" cy="593.2" r="2.9" fill="#FF8C00"/>
<circle cx="161.8" cy="596.1" r="2.9" fill="#FF8C00"/>
<circle cx="170.5" cy="600.5" r="2.9" fill="#FF8C00"/>
<circle cx="180.0" cy="603.4" r="2.9" fill="#FF8C00"/>
<circle cx="184.4" cy="601.2" r="2.9" fill="#FF8C00"/>
<circle cx="188.1" cy="596.1" r="2.9" fill="#FF8C00"/>
<circle cx="196.8" cy="597.6" r="2.9" fill="#FF8C00"/>
<circle cx="155.9" cy="607.8" r="2.9" fill="#FF8C00"/>
<circle cx="154.5" cy="611.4" r="2.9" fill="#FF8C00"/>
<circle cx="166.9" cy="610.0" r="2.9" fill="#FF8C00"/>
<circle cx="170.5" cy="613.6" r="2.9" fill="#FF8C00"/>
<circle cx="159.6" cy="616.5" r="2.9" fill="#FF8C00"/>
<circle cx="180.8" cy="615.1" r="2.9" fill="#FF8C00"/>
<circle cx="193.9" cy="615.1" r="2.9" fill="#FF8C00"/>
<circle cx="193.9" cy="619.5" r="2.9" fill="#FF8C00"/>
<circle cx="201.9" cy="618.0" r="2.9" fill="#FF8C00"/>
<circle cx="204.9" cy="615.8" r="2.9" fill="#FF8C00"/>
<circle cx="215.8" cy="610.0" r="2.9" fill="#FF8C00"/>
<circle cx="223.8" cy="617.3" r="2.9" fill="#FF8C00"/>
<circle cx="146.5" cy="618.7" r="2.9" fill="#FF8C00"/>
<circle cx="147.2" cy="622.4" r="2.9" fill="#FF8C00"/>
<circle cx="151.6" cy="631.1" r="2.9" fill="#FF8C00"/>
<circle cx="147.2" cy="631.9" r="2.9" fill="#FF8C00"/>
<circle cx="183.0" cy="628.2" r="2.9" fill="#FF8C00"/>
<circle cx="210.7" cy="626.8" r="2.9" fill="#FF8C00"/>
<circle cx="230.4" cy="642.1" r="2.9" fill="#FF8C00"/>
<circle cx="253.1" cy="553.3" r="2.9" fill="#FF8C00"/>
<circle cx="249.9" cy="565.4" r="2.9" fill="#FF8C00"/>
<circle cx="269.2" cy="570.3" r="2.9" fill="#FF8C00"/>
<circle cx="258.7" cy="576.4" r="2.9" fill="#FF8C00"/>
<circle cx="299.1" cy="576.4" r="2.9" fill="#FF8C00"/>
<circle cx="301.3" cy="576.1" r="2.9" fill="#FF8C00"/>
<circle cx="247.3" cy="586.9" r="2.9" fill="#FF8C00"/>
<circle cx="263.6" cy="587.8" r="2.9" fill="#FF8C00"/>
<circle cx="287.4" cy="585.9" r="2.9" fill="#FF8C00"/>
<circle cx="301.6" cy="583.4" r="2.9" fill="#FF8C00"/>
<circle cx="261.6" cy="595.4" r="2.9" fill="#FF8C00"/>
<circle cx="153.1" cy="554.4" r="2.9" fill="#FF8C00"/>
<circle cx="157.5" cy="561.0" r="2.9" fill="#FF8C00"/>
<circle cx="161.9" cy="565.4" r="2.9" fill="#FF8C00"/>
<circle cx="166.2" cy="556.6" r="2.9" fill="#FF8C00"/>
<circle cx="170.6" cy="552.2" r="2.9" fill="#FF8C00"/>
<circle cx="175.0" cy="554.4" r="2.9" fill="#FF8C00"/>
<circle cx="179.4" cy="558.8" r="2.9" fill="#FF8C00"/>
<circle cx="183.8" cy="563.2" r="2.9" fill="#FF8C00"/>
<circle cx="188.1" cy="567.6" r="2.9" fill="#FF8C00"/>
<circle cx="192.5" cy="558.8" r="2.9" fill="#FF8C00"/>
<circle cx="196.9" cy="571.9" r="2.9" fill="#FF8C00"/>
<circle cx="177.2" cy="569.7" r="2.9" fill="#FF8C00"/>
<circle cx="170.6" cy="571.9" r="2.9" fill="#FF8C00"/>
<circle cx="140.0" cy="567.6" r="2.9" fill="#FF8C00"/>
<circle cx="144.3" cy="569.7" r="2.9" fill="#FF8C00"/>
<circle cx="161.9" cy="550.0" r="2.9" fill="#FF8C00"/>
<circle cx="168.4" cy="547.8" r="2.9" fill="#FF8C00"/>
<path d="M68.0,591.6 L73.8,591.2 L79.7,590.8 L85.5,590.4 L91.4,590.0 L97.2,589.6 L103.0,589.2 L108.9,588.7 L114.7,588.3 L120.6,587.8 L126.4,587.3 L132.2,586.8 L138.1,586.3 L143.9,585.7 L149.8,585.1 L155.6,584.4 L161.4,583.7 L167.3,582.9 L173.1,582.1 L179.0,581.2 L184.8,580.3 L190.6,579.3 L196.5,578.3 L202.3,577.3 L208.2,576.3 L214.0,575.3 L219.8,574.2 L225.7,573.2 L231.5,572.1 L237.4,571.0 L243.2,569.9 L249.0,568.8 L254.9,567.7 L260.7,566.6 L266.6,565.5 L272.4,564.4 L278.2,563.3 L284.1,562.2 L289.9,561.1 L295.8,560.0 L301.6,558.9 L301.6,578.7 L295.8,579.1 L289.9,579.4 L284.1,579.8 L278.2,580.2 L272.4,580.6 L266.6,580.9 L260.7,581.3 L254.9,581.7 L249.0,582.1 L243.2,582.5 L237.4,582.9 L231.5,583.3 L225.7,583.7 L219.8,584.1 L214.0,584.5 L208.2,585.0 L202.3,585.4 L196.5,585.9 L190.6,586.4 L184.8,586.9 L179.0,587.5 L173.1,588.1 L167.3,588.8 L161.4,589.5 L155.6,590.2 L149.8,591.0 L143.9,591.9 L138.1,592.8 L132.2,593.7 L126.4,594.7 L120.6,595.7 L114.7,596.7 L108.9,597.7 L103.0,598.7 L97.2,599.8 L91.4,600.9 L85.5,601.9 L79.7,603.0 L73.8,604.1 L68.0,605.2Z" fill="#999" fill-opacity="0.3"/>
<line x1="68" y1="598.4" x2="301.6" y2="568.8" stroke="#FF8C00" stroke-width="2.7"/>
</g>
<path d="M47.9,518.5 V648.3 H332.8" fill="none" stroke="#000" stroke-width="1.5"/>
<line x1="44.5" y1="612.1" x2="47.9" y2="612.1" stroke="#333" stroke-width="1.2"/>
<text class="tk" x="41.7" y="616.6" text-anchor="end">0</text>
<line x1="44.5" y1="575.8" x2="47.9" y2="575.8" stroke="#333" stroke-width="1.2"/>
<text class="tk" x="41.7" y="580.3" text-anchor="end">2</text>
<line x1="44.5" y1="539.5" x2="47.9" y2="539.5" stroke="#333" stroke-width="1.2"/>
<text class="tk" x="41.7" y="544.0" text-anchor="end">4</text>
<line x1="137.0" y1="648.3" x2="137.0" y2="651.6999999999999" stroke="#333" stroke-width="1.2"/>
<text class="tk" x="137.0" y="662.7" text-anchor="middle">20</text>
<line x1="226.8" y1="648.3" x2="226.8" y2="651.6999999999999" stroke="#333" stroke-width="1.2"/>
<text class="tk" x="226.8" y="662.7" text-anchor="middle">40</text>
<line x1="316.6" y1="648.3" x2="316.6" y2="651.6999999999999" stroke="#333" stroke-width="1.2"/>
<text class="tk" x="316.6" y="662.7" text-anchor="middle">60</text>
<text class="at" x="190.3" y="676.1" text-anchor="middle">Prevalence of obesity (%)</text>
<text class="at" transform="translate(29.6,583.8) rotate(-90)" text-anchor="middle">ln(ASR) of ureteral cancer</text>
<clipPath id="c7"><rect x="372.3" y="518.5" width="285.49999999999994" height="129.79999999999995"/></clipPath>
<g clip-path="url(#c7)">
<circle cx="428.9" cy="533.3" r="2.9" fill="#000080"/>
<circle cx="427.5" cy="541.1" r="2.9" fill="#000080"/>
<circle cx="447.9" cy="545.0" r="2.9" fill="#000080"/>
<circle cx="437.7" cy="553.8" r="2.9" fill="#000080"/>
<circle cx="467.6" cy="543.5" r="2.9" fill="#000080"/>
<circle cx="464.7" cy="551.3" r="2.9" fill="#000080"/>
<circle cx="455.9" cy="556.7" r="2.9" fill="#000080"/>
<circle cx="459.6" cy="556.7" r="2.9" fill="#000080"/>
<circle cx="449.4" cy="563.5" r="2.9" fill="#000080"/>
<circle cx="459.6" cy="564.0" r="2.9" fill="#000080"/>
<circle cx="467.6" cy="560.6" r="2.9" fill="#000080"/>
<circle cx="423.1" cy="556.2" r="2.9" fill="#000080"/>
<circle cx="400.9" cy="567.3" r="2.9" fill="#000080"/>
<circle cx="398.6" cy="573.8" r="2.9" fill="#000080"/>
<circle cx="384.8" cy="580.8" r="2.9" fill="#000080"/>
<circle cx="414.3" cy="585.2" r="2.9" fill="#000080"/>
<circle cx="422.4" cy="581.5" r="2.9" fill="#000080"/>
<circle cx="443.5" cy="575.7" r="2.9" fill="#000080"/>
<circle cx="447.2" cy="575.7" r="2.9" fill="#000080"/>
<circle cx="452.3" cy="576.4" r="2.9" fill="#000080"/>
<circle cx="460.3" cy="570.6" r="2.9" fill="#000080"/>
<circle cx="465.4" cy="574.9" r="2.9" fill="#000080"/>
<circle cx="443.5" cy="582.2" r="2.9" fill="#000080"/>
<circle cx="405.6" cy="598.3" r="2.9" fill="#000080"/>
<circle cx="416.5" cy="597.6" r="2.9" fill="#000080"/>
<circle cx="447.9" cy="594.6" r="2.9" fill="#000080"/>
<circle cx="450.8" cy="591.7" r="2.9" fill="#000080"/>
<circle cx="447.9" cy="601.9" r="2.9" fill="#000080"/>
<circle cx="455.9" cy="602.7" r="2.9" fill="#000080"/>
<circle cx="461.8" cy="609.2" r="2.9" fill="#000080"/>
<circle cx="465.4" cy="605.6" r="2.9" fill="#000080"/>
<circle cx="468.4" cy="598.3" r="2.9" fill="#000080"/>
<circle cx="431.9" cy="618.7" r="2.9" fill="#000080"/>
<circle cx="456.7" cy="620.2" r="2.9" fill="#000080"/>
<circle cx="538.1" cy="524.1" r="2.9" fill="#000080"/>
<circle cx="483.3" cy="535.5" r="2.9" fill="#000080"/>
<circle cx="527.1" cy="535.2" r="2.9" fill="#000080"/>
<circle cx="539.5" cy="535.2" r="2.9" fill="#000080"/>
<circle cx="549.0" cy="534.4" r="2.9" fill="#000080"/>
<circle cx="557.1" cy="537.0" r="2.9" fill="#000080"/>
<circle cx="565.8" cy="538.4" r="2.9" fill="#000080"/>
<circle cx="538.1" cy="541.4" r="2.9" fill="#000080"/>
<circle cx="544.6" cy="539.6" r="2.9" fill="#000080"/>
<circle cx="551.2" cy="540.6" r="2.9" fill="#000080"/>
<circle cx="555.6" cy="544.0" r="2.9" fill="#000080"/>
<circle cx="565.8" cy="544.3" r="2.9" fill="#000080"/>
<circle cx="565.8" cy="548.7" r="2.9" fill="#000080"/>
<circle cx="488.4" cy="540.6" r="2.9" fill="#000080"/>
<circle cx="490.6" cy="545.0" r="2.9" fill="#000080"/>
<circle cx="501.6" cy="541.4" r="2.9" fill="#000080"/>
<circle cx="507.4" cy="539.9" r="2.9" fill="#000080"/>
<circle cx="510.3" cy="539.2" r="2.9" fill="#000080"/>
<circle cx="503.0" cy="545.7" r="2.9" fill="#000080"/>
<circle cx="498.7" cy="553.8" r="2.9" fill="#000080"/>
<circle cx="526.4" cy="550.1" r="2.9" fill="#000080"/>
<circle cx="532.2" cy="551.6" r="2.9" fill="#000080"/>
<circle cx="554.1" cy="550.1" r="2.9" fill="#000080"/>
<circle cx="547.6" cy="554.5" r="2.9" fill="#000080"/>
<circle cx="530.8" cy="560.3" r="2.9" fill="#000080"/>
<circle cx="511.8" cy="559.6" r="2.9" fill="#000080"/>
<circle cx="516.2" cy="559.6" r="2.9" fill="#000080"/>
<circle cx="485.5" cy="565.4" r="2.9" fill="#000080"/>
<circle cx="536.6" cy="564.7" r="2.9" fill="#000080"/>
<circle cx="552.7" cy="563.3" r="2.9" fill="#000080"/>
<circle cx="560.0" cy="571.3" r="2.9" fill="#000080"/>
<circle cx="492.8" cy="580.0" r="2.9" fill="#000080"/>
<circle cx="516.2" cy="576.4" r="2.9" fill="#000080"/>
<circle cx="520.6" cy="576.4" r="2.9" fill="#000080"/>
<circle cx="543.9" cy="575.7" r="2.9" fill="#000080"/>
<circle cx="562.9" cy="579.3" r="2.9" fill="#000080"/>
<circle cx="507.4" cy="589.5" r="2.9" fill="#000080"/>
<circle cx="516.2" cy="585.9" r="2.9" fill="#000080"/>
<circle cx="548.3" cy="588.8" r="2.9" fill="#000080"/>
<circle cx="550.5" cy="591.0" r="2.9" fill="#000080"/>
<circle cx="492.8" cy="589.5" r="2.9" fill="#000080"/>
<circle cx="489.9" cy="593.9" r="2.9" fill="#000080"/>
<circle cx="487.0" cy="597.6" r="2.9" fill="#000080"/>
<circle cx="491.4" cy="598.3" r="2.9" fill="#000080"/>
<circle cx="473.8" cy="597.6" r="2.9" fill="#000080"/>
<circle cx="476.0" cy="600.5" r="2.9" fill="#000080"/>
<circle cx="482.6" cy="601.2" r="2.9" fill="#000080"/>
<circle cx="492.8" cy="605.6" r="2.9" fill="#000080"/>
<circle cx="498.7" cy="606.3" r="2.9" fill="#000080"/>
<circle cx="535.2" cy="599.8" r="2.9" fill="#000080"/>
<circle cx="549.0" cy="600.5" r="2.9" fill="#000080"/>
<circle cx="554.1" cy="601.9" r="2.9" fill="#000080"/>
<circle cx="509.6" cy="611.4" r="2.9" fill="#000080"/>
<circle cx="518.4" cy="612.2" r="2.9" fill="#000080"/>
<circle cx="509.6" cy="619.5" r="2.9" fill="#000080"/>
<circle cx="514.7" cy="619.5" r="2.9" fill="#000080"/>
<circle cx="473.8" cy="605.6" r="2.9" fill="#000080"/>
<circle cx="572.3" cy="543.5" r="2.9" fill="#000080"/>
<circle cx="581.4" cy="541.4" r="2.9" fill="#000080"/>
<circle cx="594.2" cy="544.0" r="2.9" fill="#000080"/>
<circle cx="598.3" cy="543.1" r="2.9" fill="#000080"/>
<circle cx="603.7" cy="547.5" r="2.9" fill="#000080"/>
<circle cx="580.3" cy="555.7" r="2.9" fill="#000080"/>
<circle cx="593.5" cy="555.2" r="2.9" fill="#000080"/>
<circle cx="595.7" cy="559.2" r="2.9" fill="#000080"/>
<circle cx="582.5" cy="561.8" r="2.9" fill="#000080"/>
<circle cx="573.0" cy="564.0" r="2.9" fill="#000080"/>
<circle cx="571.6" cy="582.2" r="2.9" fill="#000080"/>
<circle cx="642.4" cy="561.5" r="2.9" fill="#000080"/>
<circle cx="645.0" cy="593.9" r="2.9" fill="#000080"/>
<circle cx="488.7" cy="590.4" r="2.9" fill="#000080"/>
<circle cx="491.8" cy="590.4" r="2.9" fill="#000080"/>
<circle cx="488.7" cy="596.6" r="2.9" fill="#000080"/>
<circle cx="475.4" cy="600.7" r="2.9" fill="#000080"/>
<circle cx="474.9" cy="598.2" r="2.9" fill="#000080"/>
<circle cx="472.7" cy="602.6" r="2.9" fill="#000080"/>
<circle cx="485.9" cy="598.2" r="2.9" fill="#000080"/>
<circle cx="490.2" cy="593.8" r="2.9" fill="#000080"/>
<circle cx="492.4" cy="589.4" r="2.9" fill="#000080"/>
<circle cx="488.0" cy="602.6" r="2.9" fill="#000080"/>
<circle cx="491.3" cy="607.0" r="2.9" fill="#000080"/>
<circle cx="461.8" cy="609.2" r="2.9" fill="#000080"/>
<circle cx="455.2" cy="602.6" r="2.9" fill="#000080"/>
<circle cx="448.6" cy="602.6" r="2.9" fill="#000080"/>
<circle cx="481.5" cy="602.6" r="2.9" fill="#000080"/>
<path d="M385.2,587.3 L391.7,586.5 L398.2,585.7 L404.7,584.9 L411.1,584.0 L417.6,583.2 L424.1,582.4 L430.6,581.5 L437.1,580.7 L443.6,579.8 L450.1,578.9 L456.5,578.0 L463.0,577.1 L469.5,576.1 L476.0,575.1 L482.5,574.1 L489.0,573.0 L495.4,571.8 L501.9,570.6 L508.4,569.3 L514.9,568.0 L521.4,566.7 L527.9,565.3 L534.4,563.8 L540.8,562.4 L547.3,560.9 L553.8,559.4 L560.3,557.9 L566.8,556.4 L573.3,554.9 L579.8,553.3 L586.2,551.8 L592.7,550.3 L599.2,548.7 L605.7,547.2 L612.2,545.6 L618.7,544.0 L625.1,542.5 L631.6,540.9 L638.1,539.4 L644.6,537.8 L644.6,557.6 L638.1,558.4 L631.6,559.2 L625.1,560.0 L618.7,560.8 L612.2,561.5 L605.7,562.3 L599.2,563.1 L592.7,563.9 L586.2,564.8 L579.8,565.6 L573.3,566.4 L566.8,567.2 L560.3,568.1 L553.8,568.9 L547.3,569.8 L540.8,570.6 L534.4,571.5 L527.9,572.4 L521.4,573.4 L514.9,574.4 L508.4,575.4 L501.9,576.5 L495.4,577.6 L489.0,578.8 L482.5,580.1 L476.0,581.4 L469.5,582.7 L463.0,584.1 L456.5,585.5 L450.1,587.0 L443.6,588.4 L437.1,589.9 L430.6,591.4 L424.1,592.9 L417.6,594.4 L411.1,596.0 L404.7,597.5 L398.2,599.0 L391.7,600.6 L385.2,602.1Z" fill="#999" fill-opacity="0.3"/>
<line x1="385.2" y1="594.7" x2="644.6" y2="547.7" stroke="#000080" stroke-width="2.7"/>
<circle cx="395.4" cy="557.4" r="2.9" fill="#FF8C00"/>
<circle cx="417.0" cy="545.0" r="2.9" fill="#FF8C00"/>
<circle cx="417.0" cy="547.2" r="2.9" fill="#FF8C00"/>
<circle cx="442.8" cy="549.4" r="2.9" fill="#FF8C00"/>
<circle cx="443.5" cy="552.3" r="2.9" fill="#FF8C00"/>
<circle cx="450.8" cy="553.8" r="2.9" fill="#FF8C00"/>
<circle cx="458.1" cy="561.8" r="2.9" fill="#FF8C00"/>
<circle cx="453.8" cy="566.2" r="2.9" fill="#FF8C00"/>
<circle cx="421.6" cy="560.3" r="2.9" fill="#FF8C00"/>
<circle cx="420.2" cy="563.3" r="2.9" fill="#FF8C00"/>
<circle cx="423.1" cy="566.2" r="2.9" fill="#FF8C00"/>
<circle cx="441.3" cy="569.8" r="2.9" fill="#FF8C00"/>
<circle cx="456.7" cy="574.2" r="2.9" fill="#FF8C00"/>
<circle cx="471.3" cy="573.5" r="2.9" fill="#FF8C00"/>
<circle cx="471.3" cy="550.1" r="2.9" fill="#FF8C00"/>
<circle cx="409.7" cy="577.1" r="2.9" fill="#FF8C00"/>
<circle cx="426.0" cy="576.1" r="2.9" fill="#FF8C00"/>
<circle cx="420.2" cy="579.3" r="2.9" fill="#FF8C00"/>
<circle cx="423.1" cy="580.8" r="2.9" fill="#FF8C00"/>
<circle cx="385.1" cy="583.0" r="2.9" fill="#FF8C00"/>
<circle cx="388.8" cy="585.2" r="2.9" fill="#FF8C00"/>
<circle cx="394.6" cy="583.4" r="2.9" fill="#FF8C00"/>
<circle cx="401.2" cy="585.9" r="2.9" fill="#FF8C00"/>
<circle cx="462.5" cy="581.5" r="2.9" fill="#FF8C00"/>
<circle cx="468.4" cy="580.8" r="2.9" fill="#FF8C00"/>
<circle cx="401.2" cy="592.5" r="2.9" fill="#FF8C00"/>
<circle cx="392.4" cy="595.4" r="2.9" fill="#FF8C00"/>
<circle cx="427.5" cy="591.0" r="2.9" fill="#FF8C00"/>
<circle cx="429.7" cy="591.7" r="2.9" fill="#FF8C00"/>
<circle cx="436.2" cy="596.1" r="2.9" fill="#FF8C00"/>
<circle cx="426.0" cy="597.6" r="2.9" fill="#FF8C00"/>
<circle cx="430.4" cy="600.5" r="2.9" fill="#FF8C00"/>
<circle cx="452.3" cy="588.1" r="2.9" fill="#FF8C00"/>
<circle cx="456.7" cy="589.5" r="2.9" fill="#FF8C00"/>
<circle cx="462.5" cy="593.9" r="2.9" fill="#FF8C00"/>
<circle cx="465.4" cy="596.8" r="2.9" fill="#FF8C00"/>
<circle cx="468.4" cy="591.0" r="2.9" fill="#FF8C00"/>
<circle cx="453.8" cy="597.6" r="2.9" fill="#FF8C00"/>
<circle cx="459.6" cy="604.1" r="2.9" fill="#FF8C00"/>
<circle cx="466.9" cy="602.7" r="2.9" fill="#FF8C00"/>
<circle cx="393.9" cy="604.9" r="2.9" fill="#FF8C00"/>
<circle cx="426.0" cy="604.9" r="2.9" fill="#FF8C00"/>
<circle cx="440.6" cy="601.9" r="2.9" fill="#FF8C00"/>
<circle cx="439.2" cy="605.6" r="2.9" fill="#FF8C00"/>
<circle cx="391.7" cy="612.2" r="2.9" fill="#FF8C00"/>
<circle cx="410.7" cy="612.2" r="2.9" fill="#FF8C00"/>
<circle cx="424.6" cy="610.7" r="2.9" fill="#FF8C00"/>
<circle cx="438.4" cy="612.2" r="2.9" fill="#FF8C00"/>
<circle cx="447.9" cy="614.4" r="2.9" fill="#FF8C00"/>
<circle cx="436.2" cy="617.3" r="2.9" fill="#FF8C00"/>
<circle cx="439.2" cy="618.7" r="2.9" fill="#FF8C00"/>
<circle cx="442.1" cy="622.4" r="2.9" fill="#FF8C00"/>
<circle cx="393.2" cy="618.7" r="2.9" fill="#FF8C00"/>
<circle cx="424.6" cy="618.7" r="2.9" fill="#FF8C00"/>
<circle cx="455.2" cy="616.5" r="2.9" fill="#FF8C00"/>
<circle cx="461.1" cy="615.8" r="2.9" fill="#FF8C00"/>
<circle cx="466.9" cy="615.1" r="2.9" fill="#FF8C00"/>
<circle cx="457.4" cy="622.4" r="2.9" fill="#FF8C00"/>
<circle cx="468.4" cy="628.9" r="2.9" fill="#FF8C00"/>
<circle cx="471.3" cy="626.8" r="2.9" fill="#FF8C00"/>
<circle cx="469.8" cy="633.3" r="2.9" fill="#FF8C00"/>
<circle cx="503.8" cy="534.8" r="2.9" fill="#FF8C00"/>
<circle cx="492.1" cy="542.1" r="2.9" fill="#FF8C00"/>
<circle cx="479.7" cy="544.0" r="2.9" fill="#FF8C00"/>
<circle cx="495.7" cy="547.2" r="2.9" fill="#FF8C00"/>
<circle cx="504.5" cy="549.4" r="2.9" fill="#FF8C00"/>
<circle cx="473.1" cy="550.1" r="2.9" fill="#FF8C00"/>
<circle cx="477.5" cy="552.3" r="2.9" fill="#FF8C00"/>
<circle cx="484.8" cy="553.0" r="2.9" fill="#FF8C00"/>
<circle cx="488.4" cy="553.0" r="2.9" fill="#FF8C00"/>
<circle cx="500.8" cy="555.2" r="2.9" fill="#FF8C00"/>
<circle cx="496.5" cy="553.0" r="2.9" fill="#FF8C00"/>
<circle cx="518.4" cy="555.2" r="2.9" fill="#FF8C00"/>
<circle cx="531.5" cy="552.3" r="2.9" fill="#FF8C00"/>
<circle cx="538.1" cy="553.0" r="2.9" fill="#FF8C00"/>
<circle cx="541.7" cy="549.4" r="2.9" fill="#FF8C00"/>
<circle cx="543.2" cy="553.8" r="2.9" fill="#FF8C00"/>
<circle cx="539.5" cy="556.0" r="2.9" fill="#FF8C00"/>
<circle cx="536.6" cy="559.6" r="2.9" fill="#FF8C00"/>
<circle cx="541.0" cy="560.3" r="2.9" fill="#FF8C00"/>
<circle cx="541.7" cy="564.7" r="2.9" fill="#FF8C00"/>
<circle cx="558.5" cy="556.7" r="2.9" fill="#FF8C00"/>
<circle cx="561.4" cy="561.1" r="2.9" fill="#FF8C00"/>
<circle cx="554.9" cy="561.8" r="2.9" fill="#FF8C00"/>
<circle cx="560.0" cy="567.6" r="2.9" fill="#FF8C00"/>
<circle cx="476.8" cy="564.7" r="2.9" fill="#FF8C00"/>
<circle cx="481.1" cy="567.6" r="2.9" fill="#FF8C00"/>
<circle cx="489.9" cy="564.7" r="2.9" fill="#FF8C00"/>
<circle cx="493.5" cy="561.8" r="2.9" fill="#FF8C00"/>
<circle cx="491.4" cy="570.6" r="2.9" fill="#FF8C00"/>
<circle cx="495.7" cy="569.1" r="2.9" fill="#FF8C00"/>
<circle cx="500.1" cy="564.7" r="2.9" fill="#FF8C00"/>
<circle cx="502.3" cy="565.4" r="2.9" fill="#FF8C00"/>
<circle cx="507.4" cy="563.3" r="2.9" fill="#FF8C00"/>
<circle cx="510.3" cy="570.6" r="2.9" fill="#FF8C00"/>
<circle cx="514.7" cy="569.1" r="2.9" fill="#FF8C00"/>
<circle cx="513.3" cy="573.5" r="2.9" fill="#FF8C00"/>
<circle cx="520.6" cy="564.7" r="2.9" fill="#FF8C00"/>
<circle cx="519.1" cy="567.6" r="2.9" fill="#FF8C00"/>
<circle cx="528.6" cy="565.4" r="2.9" fill="#FF8C00"/>
<circle cx="471.6" cy="573.5" r="2.9" fill="#FF8C00"/>
<circle cx="484.1" cy="575.7" r="2.9" fill="#FF8C00"/>
<circle cx="485.5" cy="579.3" r="2.9" fill="#FF8C00"/>
<circle cx="507.4" cy="578.6" r="2.9" fill="#FF8C00"/>
<circle cx="530.8" cy="577.9" r="2.9" fill="#FF8C00"/>
<circle cx="533.7" cy="583.7" r="2.9" fill="#FF8C00"/>
<circle cx="536.6" cy="585.2" r="2.9" fill="#FF8C00"/>
<circle cx="545.4" cy="577.9" r="2.9" fill="#FF8C00"/>
<circle cx="558.5" cy="586.6" r="2.9" fill="#FF8C00"/>
<circle cx="566.5" cy="587.3" r="2.9" fill="#FF8C00"/>
<circle cx="473.8" cy="582.2" r="2.9" fill="#FF8C00"/>
<circle cx="470.9" cy="591.0" r="2.9" fill="#FF8C00"/>
<circle cx="475.3" cy="591.0" r="2.9" fill="#FF8C00"/>
<circle cx="484.8" cy="592.5" r="2.9" fill="#FF8C00"/>
<circle cx="497.2" cy="592.5" r="2.9" fill="#FF8C00"/>
<circle cx="499.4" cy="589.5" r="2.9" fill="#FF8C00"/>
<circle cx="505.2" cy="595.4" r="2.9" fill="#FF8C00"/>
<circle cx="514.7" cy="599.0" r="2.9" fill="#FF8C00"/>
<circle cx="530.0" cy="601.2" r="2.9" fill="#FF8C00"/>
<circle cx="491.4" cy="602.7" r="2.9" fill="#FF8C00"/>
<circle cx="496.5" cy="602.7" r="2.9" fill="#FF8C00"/>
<circle cx="538.1" cy="607.8" r="2.9" fill="#FF8C00"/>
<circle cx="532.2" cy="610.0" r="2.9" fill="#FF8C00"/>
<circle cx="527.1" cy="613.6" r="2.9" fill="#FF8C00"/>
<circle cx="562.9" cy="610.7" r="2.9" fill="#FF8C00"/>
<circle cx="479.7" cy="605.6" r="2.9" fill="#FF8C00"/>
<circle cx="481.1" cy="610.0" r="2.9" fill="#FF8C00"/>
<circle cx="478.2" cy="614.4" r="2.9" fill="#FF8C00"/>
<circle cx="484.1" cy="618.7" r="2.9" fill="#FF8C00"/>
<circle cx="490.6" cy="613.6" r="2.9" fill="#FF8C00"/>
<circle cx="469.5" cy="615.1" r="2.9" fill="#FF8C00"/>
<circle cx="472.4" cy="620.2" r="2.9" fill="#FF8C00"/>
<circle cx="475.3" cy="623.1" r="2.9" fill="#FF8C00"/>
<circle cx="470.2" cy="627.5" r="2.9" fill="#FF8C00"/>
<circle cx="469.5" cy="633.3" r="2.9" fill="#FF8C00"/>
<circle cx="493.5" cy="626.8" r="2.9" fill="#FF8C00"/>
<circle cx="503.0" cy="631.1" r="2.9" fill="#FF8C00"/>
<circle cx="486.2" cy="639.5" r="2.9" fill="#FF8C00"/>
<circle cx="514.7" cy="642.1" r="2.9" fill="#FF8C00"/>
<circle cx="514.7" cy="613.6" r="2.9" fill="#FF8C00"/>
<circle cx="575.9" cy="558.1" r="2.9" fill="#FF8C00"/>
<circle cx="579.6" cy="558.1" r="2.9" fill="#FF8C00"/>
<circle cx="618.3" cy="558.6" r="2.9" fill="#FF8C00"/>
<circle cx="573.0" cy="577.9" r="2.9" fill="#FF8C00"/>
<circle cx="579.6" cy="574.2" r="2.9" fill="#FF8C00"/>
<circle cx="585.7" cy="576.7" r="2.9" fill="#FF8C00"/>
<circle cx="617.8" cy="572.0" r="2.9" fill="#FF8C00"/>
<circle cx="587.6" cy="585.2" r="2.9" fill="#FF8C00"/>
<circle cx="610.5" cy="584.9" r="2.9" fill="#FF8C00"/>
<circle cx="567.2" cy="587.8" r="2.9" fill="#FF8C00"/>
<circle cx="467.3" cy="594.5" r="2.9" fill="#FF8C00"/>
<circle cx="467.8" cy="599.6" r="2.9" fill="#FF8C00"/>
<circle cx="468.3" cy="604.7" r="2.9" fill="#FF8C00"/>
<circle cx="477.0" cy="608.8" r="2.9" fill="#FF8C00"/>
<circle cx="479.5" cy="610.9" r="2.9" fill="#FF8C00"/>
<circle cx="477.0" cy="615.0" r="2.9" fill="#FF8C00"/>
<circle cx="475.9" cy="620.1" r="2.9" fill="#FF8C00"/>
<circle cx="478.0" cy="622.1" r="2.9" fill="#FF8C00"/>
<circle cx="472.4" cy="625.2" r="2.9" fill="#FF8C00"/>
<circle cx="461.8" cy="580.7" r="2.9" fill="#FF8C00"/>
<circle cx="466.2" cy="582.9" r="2.9" fill="#FF8C00"/>
<circle cx="470.5" cy="581.8" r="2.9" fill="#FF8C00"/>
<circle cx="474.9" cy="580.7" r="2.9" fill="#FF8C00"/>
<circle cx="477.1" cy="585.1" r="2.9" fill="#FF8C00"/>
<circle cx="468.3" cy="587.3" r="2.9" fill="#FF8C00"/>
<circle cx="464.0" cy="591.6" r="2.9" fill="#FF8C00"/>
<circle cx="459.6" cy="593.8" r="2.9" fill="#FF8C00"/>
<circle cx="455.2" cy="589.4" r="2.9" fill="#FF8C00"/>
<circle cx="453.0" cy="597.1" r="2.9" fill="#FF8C00"/>
<circle cx="466.2" cy="598.2" r="2.9" fill="#FF8C00"/>
<circle cx="468.3" cy="604.8" r="2.9" fill="#FF8C00"/>
<circle cx="470.5" cy="611.3" r="2.9" fill="#FF8C00"/>
<circle cx="474.9" cy="615.7" r="2.9" fill="#FF8C00"/>
<circle cx="464.0" cy="615.7" r="2.9" fill="#FF8C00"/>
<circle cx="459.6" cy="611.3" r="2.9" fill="#FF8C00"/>
<circle cx="457.4" cy="604.8" r="2.9" fill="#FF8C00"/>
<circle cx="479.3" cy="607.0" r="2.9" fill="#FF8C00"/>
<circle cx="481.5" cy="611.3" r="2.9" fill="#FF8C00"/>
<circle cx="477.1" cy="620.1" r="2.9" fill="#FF8C00"/>
<circle cx="472.7" cy="624.5" r="2.9" fill="#FF8C00"/>
<circle cx="468.3" cy="628.9" r="2.9" fill="#FF8C00"/>
<circle cx="469.4" cy="633.2" r="2.9" fill="#FF8C00"/>
<circle cx="481.5" cy="587.3" r="2.9" fill="#FF8C00"/>
<circle cx="485.9" cy="591.6" r="2.9" fill="#FF8C00"/>
<circle cx="490.2" cy="580.7" r="2.9" fill="#FF8C00"/>
<circle cx="481.5" cy="574.1" r="2.9" fill="#FF8C00"/>
<circle cx="485.9" cy="569.7" r="2.9" fill="#FF8C00"/>
<circle cx="494.6" cy="582.9" r="2.9" fill="#FF8C00"/>
<circle cx="499.0" cy="589.4" r="2.9" fill="#FF8C00"/>
<circle cx="450.8" cy="587.3" r="2.9" fill="#FF8C00"/>
<circle cx="448.6" cy="591.6" r="2.9" fill="#FF8C00"/>
<circle cx="444.3" cy="585.1" r="2.9" fill="#FF8C00"/>
<path d="M385.2,590.2 L391.0,589.8 L396.8,589.4 L402.7,589.0 L408.5,588.6 L414.3,588.2 L420.1,587.8 L426.0,587.3 L431.8,586.9 L437.6,586.4 L443.4,586.0 L449.2,585.5 L455.1,585.0 L460.9,584.5 L466.7,584.0 L472.5,583.4 L478.4,582.8 L484.2,582.2 L490.0,581.5 L495.8,580.7 L501.6,580.0 L507.5,579.1 L513.3,578.3 L519.1,577.3 L524.9,576.4 L530.8,575.4 L536.6,574.4 L542.4,573.4 L548.2,572.4 L554.1,571.4 L559.9,570.3 L565.7,569.3 L571.5,568.2 L577.3,567.1 L583.2,566.0 L589.0,565.0 L594.8,563.9 L600.6,562.8 L606.5,561.7 L612.3,560.6 L618.1,559.5 L618.1,576.5 L612.3,576.9 L606.5,577.3 L600.6,577.7 L594.8,578.1 L589.0,578.5 L583.2,578.9 L577.3,579.3 L571.5,579.7 L565.7,580.2 L559.9,580.6 L554.1,581.0 L548.2,581.5 L542.4,581.9 L536.6,582.4 L530.8,582.9 L524.9,583.4 L519.1,584.0 L513.3,584.6 L507.5,585.2 L501.6,585.8 L495.8,586.5 L490.0,587.3 L484.2,588.1 L478.4,588.9 L472.5,589.8 L466.7,590.8 L460.9,591.7 L455.1,592.7 L449.2,593.7 L443.4,594.7 L437.6,595.7 L431.8,596.8 L426.0,597.8 L420.1,598.9 L414.3,600.0 L408.5,601.0 L402.7,602.1 L396.8,603.2 L391.0,604.3 L385.2,605.4Z" fill="#999" fill-opacity="0.3"/>
<line x1="385.2" y1="597.8" x2="618.1" y2="568" stroke="#FF8C00" stroke-width="2.7"/>
</g>
<path d="M372.3,518.5 V648.3 H657.8" fill="none" stroke="#000" stroke-width="1.5"/>
<line x1="368.90000000000003" y1="612.1" x2="372.3" y2="612.1" stroke="#333" stroke-width="1.2"/>
<text class="tk" x="366.1" y="616.6" text-anchor="end">0</text>
<line x1="368.90000000000003" y1="575.8" x2="372.3" y2="575.8" stroke="#333" stroke-width="1.2"/>
<text class="tk" x="366.1" y="580.3" text-anchor="end">2</text>
<line x1="368.90000000000003" y1="539.5" x2="372.3" y2="539.5" stroke="#333" stroke-width="1.2"/>
<text class="tk" x="366.1" y="544.0" text-anchor="end">4</text>
<line x1="381.9" y1="648.3" x2="381.9" y2="651.6999999999999" stroke="#333" stroke-width="1.2"/>
<text class="tk" x="381.9" y="662.7" text-anchor="middle">10</text>
<line x1="437.9" y1="648.3" x2="437.9" y2="651.6999999999999" stroke="#333" stroke-width="1.2"/>
<text class="tk" x="437.9" y="662.7" text-anchor="middle">20</text>
<line x1="493.8" y1="648.3" x2="493.8" y2="651.6999999999999" stroke="#333" stroke-width="1.2"/>
<text class="tk" x="493.8" y="662.7" text-anchor="middle">30</text>
<line x1="549.8" y1="648.3" x2="549.8" y2="651.6999999999999" stroke="#333" stroke-width="1.2"/>
<text class="tk" x="549.8" y="662.7" text-anchor="middle">40</text>
<line x1="605.7" y1="648.3" x2="605.7" y2="651.6999999999999" stroke="#333" stroke-width="1.2"/>
<text class="tk" x="605.7" y="662.7" text-anchor="middle">50</text>
<text class="at" x="515.0" y="676.1" text-anchor="middle">Prevalence of hypertension (%)</text>
<text class="at" transform="translate(353.7,583.8) rotate(-90)" text-anchor="middle">ln(ASR) of ureteral cancer</text>
<clipPath id="c8"><rect x="47.9" y="691.5" width="284.90000000000003" height="129.79999999999995"/></clipPath>
<g clip-path="url(#c8)">
<circle cx="108.6" cy="707.8" r="2.9" fill="#000080"/>
<circle cx="121.0" cy="707.8" r="2.9" fill="#000080"/>
<circle cx="112.2" cy="714.1" r="2.9" fill="#000080"/>
<circle cx="126.8" cy="715.8" r="2.9" fill="#000080"/>
<circle cx="142.9" cy="712.9" r="2.9" fill="#000080"/>
<circle cx="145.8" cy="710.0" r="2.9" fill="#000080"/>
<circle cx="69.2" cy="725.7" r="2.9" fill="#000080"/>
<circle cx="97.9" cy="731.1" r="2.9" fill="#000080"/>
<circle cx="115.2" cy="729.7" r="2.9" fill="#000080"/>
<circle cx="121.0" cy="735.5" r="2.9" fill="#000080"/>
<circle cx="123.9" cy="734.1" r="2.9" fill="#000080"/>
<circle cx="107.1" cy="738.4" r="2.9" fill="#000080"/>
<circle cx="138.5" cy="738.4" r="2.9" fill="#000080"/>
<circle cx="146.5" cy="743.6" r="2.9" fill="#000080"/>
<circle cx="83.0" cy="740.6" r="2.9" fill="#000080"/>
<circle cx="94.4" cy="748.7" r="2.9" fill="#000080"/>
<circle cx="83.8" cy="754.5" r="2.9" fill="#000080"/>
<circle cx="79.4" cy="758.2" r="2.9" fill="#000080"/>
<circle cx="71.4" cy="765.5" r="2.9" fill="#000080"/>
<circle cx="75.0" cy="764.7" r="2.9" fill="#000080"/>
<circle cx="88.1" cy="761.8" r="2.9" fill="#000080"/>
<circle cx="94.7" cy="757.4" r="2.9" fill="#000080"/>
<circle cx="112.2" cy="747.9" r="2.9" fill="#000080"/>
<circle cx="107.9" cy="746.5" r="2.9" fill="#000080"/>
<circle cx="124.6" cy="746.5" r="2.9" fill="#000080"/>
<circle cx="129.8" cy="734.8" r="2.9" fill="#000080"/>
<circle cx="141.4" cy="727.5" r="2.9" fill="#000080"/>
<circle cx="60.8" cy="773.5" r="2.9" fill="#000080"/>
<circle cx="66.2" cy="776.4" r="2.9" fill="#000080"/>
<circle cx="78.7" cy="775.7" r="2.9" fill="#000080"/>
<circle cx="83.0" cy="780.8" r="2.9" fill="#000080"/>
<circle cx="88.9" cy="778.6" r="2.9" fill="#000080"/>
<circle cx="81.6" cy="784.4" r="2.9" fill="#000080"/>
<circle cx="88.9" cy="791.7" r="2.9" fill="#000080"/>
<circle cx="77.2" cy="791.7" r="2.9" fill="#000080"/>
<circle cx="108.6" cy="774.9" r="2.9" fill="#000080"/>
<circle cx="109.3" cy="785.2" r="2.9" fill="#000080"/>
<circle cx="121.0" cy="770.6" r="2.9" fill="#000080"/>
<circle cx="116.6" cy="768.4" r="2.9" fill="#000080"/>
<circle cx="103.5" cy="790.3" r="2.9" fill="#000080"/>
<circle cx="118.8" cy="792.5" r="2.9" fill="#000080"/>
<circle cx="121.0" cy="781.5" r="2.9" fill="#000080"/>
<circle cx="130.5" cy="780.1" r="2.9" fill="#000080"/>
<circle cx="126.8" cy="791.7" r="2.9" fill="#000080"/>
<circle cx="138.5" cy="770.6" r="2.9" fill="#000080"/>
<circle cx="142.9" cy="768.4" r="2.9" fill="#000080"/>
<circle cx="142.9" cy="759.6" r="2.9" fill="#000080"/>
<circle cx="156.4" cy="696.8" r="2.9" fill="#000080"/>
<circle cx="162.2" cy="706.3" r="2.9" fill="#000080"/>
<circle cx="161.4" cy="708.5" r="2.9" fill="#000080"/>
<circle cx="186.6" cy="708.2" r="2.9" fill="#000080"/>
<circle cx="173.5" cy="711.7" r="2.9" fill="#000080"/>
<circle cx="178.3" cy="711.4" r="2.9" fill="#000080"/>
<circle cx="169.5" cy="717.0" r="2.9" fill="#000080"/>
<circle cx="162.5" cy="717.0" r="2.9" fill="#000080"/>
<circle cx="155.9" cy="714.4" r="2.9" fill="#000080"/>
<circle cx="151.6" cy="716.5" r="2.9" fill="#000080"/>
<circle cx="176.4" cy="719.5" r="2.9" fill="#000080"/>
<circle cx="153.8" cy="723.1" r="2.9" fill="#000080"/>
<circle cx="158.1" cy="723.1" r="2.9" fill="#000080"/>
<circle cx="180.0" cy="726.0" r="2.9" fill="#000080"/>
<circle cx="166.6" cy="729.2" r="2.9" fill="#000080"/>
<circle cx="172.7" cy="729.7" r="2.9" fill="#000080"/>
<circle cx="173.5" cy="733.3" r="2.9" fill="#000080"/>
<circle cx="159.6" cy="733.3" r="2.9" fill="#000080"/>
<circle cx="164.0" cy="736.3" r="2.9" fill="#000080"/>
<circle cx="209.2" cy="713.2" r="2.9" fill="#000080"/>
<circle cx="215.8" cy="714.4" r="2.9" fill="#000080"/>
<circle cx="215.1" cy="718.0" r="2.9" fill="#000080"/>
<circle cx="222.4" cy="712.2" r="2.9" fill="#000080"/>
<circle cx="235.5" cy="715.8" r="2.9" fill="#000080"/>
<circle cx="244.3" cy="713.6" r="2.9" fill="#000080"/>
<circle cx="244.3" cy="718.0" r="2.9" fill="#000080"/>
<circle cx="199.0" cy="723.8" r="2.9" fill="#000080"/>
<circle cx="196.1" cy="726.0" r="2.9" fill="#000080"/>
<circle cx="201.2" cy="731.1" r="2.9" fill="#000080"/>
<circle cx="194.6" cy="733.3" r="2.9" fill="#000080"/>
<circle cx="214.3" cy="721.7" r="2.9" fill="#000080"/>
<circle cx="218.0" cy="726.0" r="2.9" fill="#000080"/>
<circle cx="226.0" cy="723.1" r="2.9" fill="#000080"/>
<circle cx="229.7" cy="722.4" r="2.9" fill="#000080"/>
<circle cx="226.8" cy="729.7" r="2.9" fill="#000080"/>
<circle cx="213.6" cy="736.3" r="2.9" fill="#000080"/>
<circle cx="218.0" cy="733.3" r="2.9" fill="#000080"/>
<circle cx="222.4" cy="733.3" r="2.9" fill="#000080"/>
<circle cx="241.4" cy="739.2" r="2.9" fill="#000080"/>
<circle cx="237.7" cy="746.2" r="2.9" fill="#000080"/>
<circle cx="232.6" cy="750.1" r="2.9" fill="#000080"/>
<circle cx="228.2" cy="754.1" r="2.9" fill="#000080"/>
<circle cx="191.7" cy="747.2" r="2.9" fill="#000080"/>
<circle cx="204.1" cy="752.3" r="2.9" fill="#000080"/>
<circle cx="209.2" cy="750.9" r="2.9" fill="#000080"/>
<circle cx="206.3" cy="757.4" r="2.9" fill="#000080"/>
<circle cx="207.8" cy="761.1" r="2.9" fill="#000080"/>
<circle cx="204.9" cy="766.2" r="2.9" fill="#000080"/>
<circle cx="199.7" cy="769.8" r="2.9" fill="#000080"/>
<circle cx="191.7" cy="762.5" r="2.9" fill="#000080"/>
<circle cx="183.7" cy="770.6" r="2.9" fill="#000080"/>
<circle cx="172.7" cy="766.2" r="2.9" fill="#000080"/>
<circle cx="156.7" cy="763.3" r="2.9" fill="#000080"/>
<circle cx="160.3" cy="779.3" r="2.9" fill="#000080"/>
<circle cx="191.7" cy="783.0" r="2.9" fill="#000080"/>
<circle cx="241.4" cy="785.2" r="2.9" fill="#000080"/>
<circle cx="224.6" cy="761.1" r="2.9" fill="#000080"/>
<circle cx="147.9" cy="743.6" r="2.9" fill="#000080"/>
<circle cx="270.7" cy="712.2" r="2.9" fill="#000080"/>
<circle cx="245.1" cy="714.4" r="2.9" fill="#000080"/>
<circle cx="245.1" cy="718.0" r="2.9" fill="#000080"/>
<circle cx="248.8" cy="723.8" r="2.9" fill="#000080"/>
<circle cx="253.1" cy="724.6" r="2.9" fill="#000080"/>
<circle cx="257.5" cy="722.4" r="2.9" fill="#000080"/>
<circle cx="279.4" cy="741.8" r="2.9" fill="#000080"/>
<circle cx="283.5" cy="748.7" r="2.9" fill="#000080"/>
<circle cx="310.8" cy="747.2" r="2.9" fill="#000080"/>
<circle cx="255.3" cy="761.8" r="2.9" fill="#000080"/>
<circle cx="253.1" cy="764.7" r="2.9" fill="#000080"/>
<circle cx="264.8" cy="761.4" r="2.9" fill="#000080"/>
<circle cx="288.5" cy="772.5" r="2.9" fill="#000080"/>
<circle cx="136.8" cy="719.3" r="2.9" fill="#000080"/>
<circle cx="140.9" cy="726.5" r="2.9" fill="#000080"/>
<circle cx="120.4" cy="736.7" r="2.9" fill="#000080"/>
<circle cx="123.5" cy="734.6" r="2.9" fill="#000080"/>
<circle cx="107.7" cy="737.7" r="2.9" fill="#000080"/>
<circle cx="107.2" cy="739.7" r="2.9" fill="#000080"/>
<circle cx="130.7" cy="732.6" r="2.9" fill="#000080"/>
<circle cx="138.8" cy="738.7" r="2.9" fill="#000080"/>
<circle cx="136.8" cy="742.8" r="2.9" fill="#000080"/>
<circle cx="148.0" cy="743.3" r="2.9" fill="#000080"/>
<circle cx="124.5" cy="745.9" r="2.9" fill="#000080"/>
<circle cx="110.2" cy="746.9" r="2.9" fill="#000080"/>
<circle cx="113.3" cy="747.9" r="2.9" fill="#000080"/>
<circle cx="153.1" cy="723.4" r="2.9" fill="#000080"/>
<circle cx="155.2" cy="723.4" r="2.9" fill="#000080"/>
<circle cx="141.9" cy="760.2" r="2.9" fill="#000080"/>
<path d="M61.2,757.0 L67.4,756.3 L73.7,755.5 L79.9,754.7 L86.2,753.9 L92.4,753.1 L98.6,752.3 L104.9,751.5 L111.1,750.6 L117.3,749.8 L123.6,748.9 L129.8,748.0 L136.1,747.0 L142.3,746.0 L148.5,745.0 L154.8,744.0 L161.0,742.9 L167.2,741.8 L173.5,740.7 L179.7,739.5 L185.9,738.3 L192.2,737.2 L198.4,735.9 L204.7,734.7 L210.9,733.5 L217.1,732.2 L223.4,731.0 L229.6,729.7 L235.9,728.5 L242.1,727.2 L248.3,725.9 L254.6,724.6 L260.8,723.4 L267.0,722.1 L273.3,720.8 L279.5,719.5 L285.8,718.2 L292.0,716.9 L298.2,715.6 L304.5,714.3 L310.7,713.0 L310.7,730.2 L304.5,730.9 L298.2,731.7 L292.0,732.4 L285.8,733.1 L279.5,733.8 L273.3,734.6 L267.0,735.3 L260.8,736.0 L254.6,736.8 L248.3,737.5 L242.1,738.3 L235.9,739.0 L229.6,739.8 L223.4,740.6 L217.1,741.3 L210.9,742.1 L204.7,742.9 L198.4,743.7 L192.2,744.5 L185.9,745.4 L179.7,746.2 L173.5,747.1 L167.2,748.0 L161.0,748.9 L154.8,749.8 L148.5,750.8 L142.3,751.8 L136.1,752.9 L129.8,754.0 L123.6,755.1 L117.3,756.2 L111.1,757.4 L104.9,758.5 L98.6,759.7 L92.4,761.0 L86.2,762.2 L79.9,763.4 L73.7,764.7 L67.4,765.9 L61.2,767.2Z" fill="#999" fill-opacity="0.3"/>
<line x1="61.2" y1="762.1" x2="310.7" y2="721.6" stroke="#000080" stroke-width="2.7"/>
<circle cx="66.2" cy="714.6" r="2.9" fill="#FF8C00"/>
<circle cx="112.2" cy="707.8" r="2.9" fill="#FF8C00"/>
<circle cx="102.0" cy="724.9" r="2.9" fill="#FF8C00"/>
<circle cx="115.2" cy="724.9" r="2.9" fill="#FF8C00"/>
<circle cx="118.1" cy="719.5" r="2.9" fill="#FF8C00"/>
<circle cx="123.9" cy="722.4" r="2.9" fill="#FF8C00"/>
<circle cx="126.8" cy="726.8" r="2.9" fill="#FF8C00"/>
<circle cx="131.2" cy="717.3" r="2.9" fill="#FF8C00"/>
<circle cx="134.1" cy="718.0" r="2.9" fill="#FF8C00"/>
<circle cx="135.6" cy="723.1" r="2.9" fill="#FF8C00"/>
<circle cx="135.6" cy="729.0" r="2.9" fill="#FF8C00"/>
<circle cx="129.8" cy="730.4" r="2.9" fill="#FF8C00"/>
<circle cx="138.5" cy="731.9" r="2.9" fill="#FF8C00"/>
<circle cx="142.9" cy="733.3" r="2.9" fill="#FF8C00"/>
<circle cx="147.3" cy="721.7" r="2.9" fill="#FF8C00"/>
<circle cx="66.2" cy="742.8" r="2.9" fill="#FF8C00"/>
<circle cx="88.9" cy="739.9" r="2.9" fill="#FF8C00"/>
<circle cx="82.7" cy="747.2" r="2.9" fill="#FF8C00"/>
<circle cx="104.2" cy="745.0" r="2.9" fill="#FF8C00"/>
<circle cx="102.7" cy="746.5" r="2.9" fill="#FF8C00"/>
<circle cx="112.2" cy="734.8" r="2.9" fill="#FF8C00"/>
<circle cx="111.5" cy="742.8" r="2.9" fill="#FF8C00"/>
<circle cx="119.5" cy="750.9" r="2.9" fill="#FF8C00"/>
<circle cx="127.6" cy="749.4" r="2.9" fill="#FF8C00"/>
<circle cx="134.9" cy="753.0" r="2.9" fill="#FF8C00"/>
<circle cx="144.4" cy="755.2" r="2.9" fill="#FF8C00"/>
<circle cx="98.4" cy="753.0" r="2.9" fill="#FF8C00"/>
<circle cx="102.0" cy="757.4" r="2.9" fill="#FF8C00"/>
<circle cx="109.3" cy="755.2" r="2.9" fill="#FF8C00"/>
<circle cx="112.2" cy="761.1" r="2.9" fill="#FF8C00"/>
<circle cx="119.5" cy="759.6" r="2.9" fill="#FF8C00"/>
<circle cx="115.2" cy="768.4" r="2.9" fill="#FF8C00"/>
<circle cx="125.4" cy="759.6" r="2.9" fill="#FF8C00"/>
<circle cx="129.8" cy="765.5" r="2.9" fill="#FF8C00"/>
<circle cx="135.6" cy="768.4" r="2.9" fill="#FF8C00"/>
<circle cx="140.0" cy="767.6" r="2.9" fill="#FF8C00"/>
<circle cx="147.3" cy="771.3" r="2.9" fill="#FF8C00"/>
<circle cx="87.4" cy="765.5" r="2.9" fill="#FF8C00"/>
<circle cx="88.9" cy="770.6" r="2.9" fill="#FF8C00"/>
<circle cx="77.2" cy="772.8" r="2.9" fill="#FF8C00"/>
<circle cx="69.9" cy="777.1" r="2.9" fill="#FF8C00"/>
<circle cx="68.4" cy="780.8" r="2.9" fill="#FF8C00"/>
<circle cx="64.1" cy="783.0" r="2.9" fill="#FF8C00"/>
<circle cx="72.1" cy="784.4" r="2.9" fill="#FF8C00"/>
<circle cx="74.3" cy="788.8" r="2.9" fill="#FF8C00"/>
<circle cx="67.0" cy="787.4" r="2.9" fill="#FF8C00"/>
<circle cx="71.4" cy="791.7" r="2.9" fill="#FF8C00"/>
<circle cx="77.2" cy="787.4" r="2.9" fill="#FF8C00"/>
<circle cx="87.4" cy="786.6" r="2.9" fill="#FF8C00"/>
<circle cx="83.8" cy="791.7" r="2.9" fill="#FF8C00"/>
<circle cx="67.0" cy="795.4" r="2.9" fill="#FF8C00"/>
<circle cx="97.6" cy="779.3" r="2.9" fill="#FF8C00"/>
<circle cx="100.6" cy="777.9" r="2.9" fill="#FF8C00"/>
<circle cx="97.6" cy="786.6" r="2.9" fill="#FF8C00"/>
<circle cx="112.2" cy="778.6" r="2.9" fill="#FF8C00"/>
<circle cx="115.2" cy="779.3" r="2.9" fill="#FF8C00"/>
<circle cx="112.2" cy="782.2" r="2.9" fill="#FF8C00"/>
<circle cx="115.2" cy="787.4" r="2.9" fill="#FF8C00"/>
<circle cx="123.9" cy="775.7" r="2.9" fill="#FF8C00"/>
<circle cx="125.4" cy="770.6" r="2.9" fill="#FF8C00"/>
<circle cx="131.9" cy="774.2" r="2.9" fill="#FF8C00"/>
<circle cx="132.7" cy="783.0" r="2.9" fill="#FF8C00"/>
<circle cx="97.6" cy="795.4" r="2.9" fill="#FF8C00"/>
<circle cx="101.3" cy="796.1" r="2.9" fill="#FF8C00"/>
<circle cx="88.1" cy="797.6" r="2.9" fill="#FF8C00"/>
<circle cx="80.1" cy="800.5" r="2.9" fill="#FF8C00"/>
<circle cx="83.0" cy="806.3" r="2.9" fill="#FF8C00"/>
<circle cx="84.5" cy="812.2" r="2.9" fill="#FF8C00"/>
<circle cx="91.8" cy="804.6" r="2.9" fill="#FF8C00"/>
<circle cx="106.4" cy="803.7" r="2.9" fill="#FF8C00"/>
<circle cx="102.0" cy="814.8" r="2.9" fill="#FF8C00"/>
<circle cx="128.3" cy="791.7" r="2.9" fill="#FF8C00"/>
<circle cx="128.3" cy="799.8" r="2.9" fill="#FF8C00"/>
<circle cx="163.2" cy="723.1" r="2.9" fill="#FF8C00"/>
<circle cx="149.4" cy="721.7" r="2.9" fill="#FF8C00"/>
<circle cx="148.6" cy="726.0" r="2.9" fill="#FF8C00"/>
<circle cx="151.6" cy="736.3" r="2.9" fill="#FF8C00"/>
<circle cx="150.8" cy="738.4" r="2.9" fill="#FF8C00"/>
<circle cx="147.2" cy="733.3" r="2.9" fill="#FF8C00"/>
<circle cx="193.9" cy="727.5" r="2.9" fill="#FF8C00"/>
<circle cx="196.8" cy="733.3" r="2.9" fill="#FF8C00"/>
<circle cx="199.0" cy="738.4" r="2.9" fill="#FF8C00"/>
<circle cx="206.3" cy="731.1" r="2.9" fill="#FF8C00"/>
<circle cx="207.8" cy="739.2" r="2.9" fill="#FF8C00"/>
<circle cx="212.2" cy="726.0" r="2.9" fill="#FF8C00"/>
<circle cx="213.6" cy="729.0" r="2.9" fill="#FF8C00"/>
<circle cx="218.0" cy="722.4" r="2.9" fill="#FF8C00"/>
<circle cx="233.3" cy="726.8" r="2.9" fill="#FF8C00"/>
<circle cx="220.9" cy="738.4" r="2.9" fill="#FF8C00"/>
<circle cx="226.8" cy="734.8" r="2.9" fill="#FF8C00"/>
<circle cx="180.0" cy="736.3" r="2.9" fill="#FF8C00"/>
<circle cx="184.4" cy="737.0" r="2.9" fill="#FF8C00"/>
<circle cx="188.8" cy="737.7" r="2.9" fill="#FF8C00"/>
<circle cx="191.7" cy="737.0" r="2.9" fill="#FF8C00"/>
<circle cx="164.7" cy="742.8" r="2.9" fill="#FF8C00"/>
<circle cx="168.4" cy="741.4" r="2.9" fill="#FF8C00"/>
<circle cx="172.7" cy="738.4" r="2.9" fill="#FF8C00"/>
<circle cx="179.3" cy="741.4" r="2.9" fill="#FF8C00"/>
<circle cx="171.3" cy="747.2" r="2.9" fill="#FF8C00"/>
<circle cx="174.2" cy="745.7" r="2.9" fill="#FF8C00"/>
<circle cx="178.6" cy="745.7" r="2.9" fill="#FF8C00"/>
<circle cx="168.4" cy="751.6" r="2.9" fill="#FF8C00"/>
<circle cx="174.2" cy="750.9" r="2.9" fill="#FF8C00"/>
<circle cx="178.6" cy="750.9" r="2.9" fill="#FF8C00"/>
<circle cx="150.1" cy="748.7" r="2.9" fill="#FF8C00"/>
<circle cx="150.1" cy="755.2" r="2.9" fill="#FF8C00"/>
<circle cx="150.8" cy="761.1" r="2.9" fill="#FF8C00"/>
<circle cx="162.5" cy="757.4" r="2.9" fill="#FF8C00"/>
<circle cx="174.2" cy="761.1" r="2.9" fill="#FF8C00"/>
<circle cx="181.5" cy="758.2" r="2.9" fill="#FF8C00"/>
<circle cx="184.4" cy="755.2" r="2.9" fill="#FF8C00"/>
<circle cx="187.3" cy="756.7" r="2.9" fill="#FF8C00"/>
<circle cx="178.6" cy="762.5" r="2.9" fill="#FF8C00"/>
<circle cx="180.0" cy="765.5" r="2.9" fill="#FF8C00"/>
<circle cx="185.9" cy="766.2" r="2.9" fill="#FF8C00"/>
<circle cx="194.6" cy="758.2" r="2.9" fill="#FF8C00"/>
<circle cx="200.5" cy="756.0" r="2.9" fill="#FF8C00"/>
<circle cx="215.1" cy="751.6" r="2.9" fill="#FF8C00"/>
<circle cx="215.1" cy="754.5" r="2.9" fill="#FF8C00"/>
<circle cx="220.9" cy="761.1" r="2.9" fill="#FF8C00"/>
<circle cx="223.8" cy="761.8" r="2.9" fill="#FF8C00"/>
<circle cx="196.1" cy="767.6" r="2.9" fill="#FF8C00"/>
<circle cx="166.2" cy="766.2" r="2.9" fill="#FF8C00"/>
<circle cx="166.2" cy="773.5" r="2.9" fill="#FF8C00"/>
<circle cx="148.6" cy="771.3" r="2.9" fill="#FF8C00"/>
<circle cx="164.7" cy="783.3" r="2.9" fill="#FF8C00"/>
<circle cx="154.5" cy="790.3" r="2.9" fill="#FF8C00"/>
<circle cx="192.4" cy="791.7" r="2.9" fill="#FF8C00"/>
<circle cx="233.3" cy="774.9" r="2.9" fill="#FF8C00"/>
<circle cx="242.5" cy="774.5" r="2.9" fill="#FF8C00"/>
<circle cx="244.3" cy="788.1" r="2.9" fill="#FF8C00"/>
<circle cx="146.5" cy="756.7" r="2.9" fill="#FF8C00"/>
<circle cx="259.7" cy="722.4" r="2.9" fill="#FF8C00"/>
<circle cx="272.4" cy="743.3" r="2.9" fill="#FF8C00"/>
<circle cx="272.8" cy="749.4" r="2.9" fill="#FF8C00"/>
<circle cx="282.6" cy="755.2" r="2.9" fill="#FF8C00"/>
<circle cx="320.3" cy="752.3" r="2.9" fill="#FF8C00"/>
<circle cx="248.0" cy="764.3" r="2.9" fill="#FF8C00"/>
<circle cx="261.9" cy="786.2" r="2.9" fill="#FF8C00"/>
<circle cx="245.1" cy="788.5" r="2.9" fill="#FF8C00"/>
<circle cx="242.9" cy="774.2" r="2.9" fill="#FF8C00"/>
<circle cx="118.9" cy="719.8" r="2.9" fill="#FF8C00"/>
<circle cx="122.5" cy="721.9" r="2.9" fill="#FF8C00"/>
<circle cx="124.5" cy="724.4" r="2.9" fill="#FF8C00"/>
<circle cx="126.6" cy="726.5" r="2.9" fill="#FF8C00"/>
<circle cx="128.6" cy="729.5" r="2.9" fill="#FF8C00"/>
<circle cx="130.7" cy="717.3" r="2.9" fill="#FF8C00"/>
<circle cx="133.7" cy="718.3" r="2.9" fill="#FF8C00"/>
<circle cx="132.7" cy="726.5" r="2.9" fill="#FF8C00"/>
<circle cx="134.7" cy="730.5" r="2.9" fill="#FF8C00"/>
<circle cx="136.8" cy="732.6" r="2.9" fill="#FF8C00"/>
<circle cx="133.7" cy="735.7" r="2.9" fill="#FF8C00"/>
<circle cx="134.7" cy="739.7" r="2.9" fill="#FF8C00"/>
<circle cx="142.9" cy="729.5" r="2.9" fill="#FF8C00"/>
<circle cx="146.0" cy="732.6" r="2.9" fill="#FF8C00"/>
<circle cx="148.0" cy="722.4" r="2.9" fill="#FF8C00"/>
<circle cx="149.0" cy="725.4" r="2.9" fill="#FF8C00"/>
<circle cx="152.1" cy="735.7" r="2.9" fill="#FF8C00"/>
<circle cx="151.1" cy="737.7" r="2.9" fill="#FF8C00"/>
<circle cx="111.2" cy="742.8" r="2.9" fill="#FF8C00"/>
<circle cx="104.1" cy="744.9" r="2.9" fill="#FF8C00"/>
<circle cx="102.6" cy="746.9" r="2.9" fill="#FF8C00"/>
<circle cx="119.4" cy="750.0" r="2.9" fill="#FF8C00"/>
<circle cx="127.1" cy="748.9" r="2.9" fill="#FF8C00"/>
<circle cx="133.7" cy="752.0" r="2.9" fill="#FF8C00"/>
<circle cx="149.0" cy="747.9" r="2.9" fill="#FF8C00"/>
<circle cx="150.1" cy="750.0" r="2.9" fill="#FF8C00"/>
<circle cx="110.2" cy="755.1" r="2.9" fill="#FF8C00"/>
<circle cx="103.1" cy="757.1" r="2.9" fill="#FF8C00"/>
<circle cx="117.4" cy="759.2" r="2.9" fill="#FF8C00"/>
<circle cx="125.5" cy="758.1" r="2.9" fill="#FF8C00"/>
<circle cx="132.7" cy="756.1" r="2.9" fill="#FF8C00"/>
<circle cx="143.9" cy="753.0" r="2.9" fill="#FF8C00"/>
<circle cx="149.0" cy="754.0" r="2.9" fill="#FF8C00"/>
<circle cx="153.1" cy="759.2" r="2.9" fill="#FF8C00"/>
<circle cx="162.3" cy="757.1" r="2.9" fill="#FF8C00"/>
<circle cx="167.4" cy="752.0" r="2.9" fill="#FF8C00"/>
<path d="M65.3,765.0 L71.7,764.3 L78.1,763.5 L84.4,762.8 L90.8,762.1 L97.2,761.3 L103.6,760.6 L110.0,759.8 L116.4,759.0 L122.7,758.1 L129.1,757.2 L135.5,756.3 L141.9,755.3 L148.3,754.2 L154.7,753.1 L161.0,752.0 L167.4,750.8 L173.8,749.5 L180.2,748.2 L186.6,746.9 L192.9,745.6 L199.3,744.2 L205.7,742.8 L212.1,741.4 L218.5,740.0 L224.9,738.6 L231.2,737.2 L237.6,735.8 L244.0,734.4 L250.4,732.9 L256.8,731.5 L263.2,730.0 L269.5,728.6 L275.9,727.2 L282.3,725.7 L288.7,724.3 L295.1,722.8 L301.5,721.4 L307.8,719.9 L314.2,718.5 L320.6,717.0 L320.6,740.2 L314.2,740.9 L307.8,741.5 L301.5,742.2 L295.1,742.8 L288.7,743.5 L282.3,744.2 L275.9,744.8 L269.5,745.5 L263.2,746.2 L256.8,746.9 L250.4,747.5 L244.0,748.2 L237.6,748.9 L231.2,749.6 L224.9,750.3 L218.5,751.0 L212.1,751.7 L205.7,752.4 L199.3,753.2 L192.9,753.9 L186.6,754.7 L180.2,755.5 L173.8,756.3 L167.4,757.2 L161.0,758.1 L154.7,759.0 L148.3,760.1 L141.9,761.1 L135.5,762.2 L129.1,763.4 L122.7,764.6 L116.4,765.9 L110.0,767.2 L103.6,768.5 L97.2,769.9 L90.8,771.3 L84.4,772.6 L78.1,774.0 L71.7,775.4 L65.3,776.8Z" fill="#999" fill-opacity="0.3"/>
<line x1="65.3" y1="770.9" x2="320.6" y2="728.6" stroke="#FF8C00" stroke-width="2.7"/>
</g>
<path d="M47.9,691.5 V821.3 H332.8" fill="none" stroke="#000" stroke-width="1.5"/>
<line x1="44.5" y1="785.1" x2="47.9" y2="785.1" stroke="#333" stroke-width="1.2"/>
<text class="tk" x="41.7" y="789.6" text-anchor="end">0</text>
<line x1="44.5" y1="748.8" x2="47.9" y2="748.8" stroke="#333" stroke-width="1.2"/>
<text class="tk" x="41.7" y="753.3" text-anchor="end">2</text>
<line x1="44.5" y1="712.5" x2="47.9" y2="712.5" stroke="#333" stroke-width="1.2"/>
<text class="tk" x="41.7" y="717.0" text-anchor="end">4</text>
<line x1="126.0" y1="821.3" x2="126.0" y2="824.6999999999999" stroke="#333" stroke-width="1.2"/>
<text class="tk" x="126.0" y="835.7" text-anchor="middle">10</text>
<line x1="225.9" y1="821.3" x2="225.9" y2="824.6999999999999" stroke="#333" stroke-width="1.2"/>
<text class="tk" x="225.9" y="835.7" text-anchor="middle">20</text>
<line x1="325.8" y1="821.3" x2="325.8" y2="824.6999999999999" stroke="#333" stroke-width="1.2"/>
<text class="tk" x="325.8" y="835.7" text-anchor="middle">30</text>
<text class="at" x="190.3" y="849.1" text-anchor="middle">Prevalence of diabetes (%)</text>
<text class="at" transform="translate(29.6,756.8) rotate(-90)" text-anchor="middle">ln(ASR) of ureteral cancer</text>
<clipPath id="c9"><rect x="371.9" y="691.5" width="286.6" height="129.79999999999995"/></clipPath>
<g clip-path="url(#c9)">
<circle cx="463.2" cy="708.2" r="2.9" fill="#000080"/>
<circle cx="464.3" cy="722.4" r="2.9" fill="#000080"/>
<circle cx="467.2" cy="733.3" r="2.9" fill="#000080"/>
<circle cx="445.7" cy="740.6" r="2.9" fill="#000080"/>
<circle cx="458.1" cy="745.7" r="2.9" fill="#000080"/>
<circle cx="453.8" cy="748.7" r="2.9" fill="#000080"/>
<circle cx="444.3" cy="751.1" r="2.9" fill="#000080"/>
<circle cx="456.7" cy="755.2" r="2.9" fill="#000080"/>
<circle cx="470.5" cy="747.9" r="2.9" fill="#000080"/>
<circle cx="471.3" cy="740.6" r="2.9" fill="#000080"/>
<circle cx="440.6" cy="758.4" r="2.9" fill="#000080"/>
<circle cx="435.5" cy="761.1" r="2.9" fill="#000080"/>
<circle cx="430.4" cy="765.5" r="2.9" fill="#000080"/>
<circle cx="427.5" cy="766.9" r="2.9" fill="#000080"/>
<circle cx="433.3" cy="769.8" r="2.9" fill="#000080"/>
<circle cx="431.9" cy="774.2" r="2.9" fill="#000080"/>
<circle cx="425.3" cy="775.7" r="2.9" fill="#000080"/>
<circle cx="420.2" cy="773.5" r="2.9" fill="#000080"/>
<circle cx="414.6" cy="768.4" r="2.9" fill="#000080"/>
<circle cx="402.4" cy="766.2" r="2.9" fill="#000080"/>
<circle cx="404.4" cy="757.4" r="2.9" fill="#000080"/>
<circle cx="390.7" cy="761.8" r="2.9" fill="#000080"/>
<circle cx="384.8" cy="780.8" r="2.9" fill="#000080"/>
<circle cx="415.8" cy="783.0" r="2.9" fill="#000080"/>
<circle cx="393.2" cy="790.3" r="2.9" fill="#000080"/>
<circle cx="440.6" cy="772.8" r="2.9" fill="#000080"/>
<circle cx="443.5" cy="776.4" r="2.9" fill="#000080"/>
<circle cx="439.2" cy="780.1" r="2.9" fill="#000080"/>
<circle cx="447.9" cy="791.7" r="2.9" fill="#000080"/>
<circle cx="459.6" cy="767.6" r="2.9" fill="#000080"/>
<circle cx="465.4" cy="765.5" r="2.9" fill="#000080"/>
<circle cx="466.9" cy="766.9" r="2.9" fill="#000080"/>
<circle cx="456.7" cy="780.1" r="2.9" fill="#000080"/>
<circle cx="449.4" cy="778.6" r="2.9" fill="#000080"/>
<circle cx="557.1" cy="696.8" r="2.9" fill="#000080"/>
<circle cx="524.9" cy="706.3" r="2.9" fill="#000080"/>
<circle cx="541.0" cy="708.2" r="2.9" fill="#000080"/>
<circle cx="561.4" cy="708.5" r="2.9" fill="#000080"/>
<circle cx="519.1" cy="714.1" r="2.9" fill="#000080"/>
<circle cx="553.4" cy="713.6" r="2.9" fill="#000080"/>
<circle cx="548.3" cy="717.0" r="2.9" fill="#000080"/>
<circle cx="539.5" cy="715.8" r="2.9" fill="#000080"/>
<circle cx="498.4" cy="719.5" r="2.9" fill="#000080"/>
<circle cx="504.5" cy="718.0" r="2.9" fill="#000080"/>
<circle cx="507.4" cy="717.6" r="2.9" fill="#000080"/>
<circle cx="511.8" cy="723.8" r="2.9" fill="#000080"/>
<circle cx="532.2" cy="726.0" r="2.9" fill="#000080"/>
<circle cx="535.9" cy="723.8" r="2.9" fill="#000080"/>
<circle cx="545.4" cy="724.6" r="2.9" fill="#000080"/>
<circle cx="552.7" cy="723.1" r="2.9" fill="#000080"/>
<circle cx="567.3" cy="726.0" r="2.9" fill="#000080"/>
<circle cx="491.4" cy="726.0" r="2.9" fill="#000080"/>
<circle cx="488.4" cy="729.7" r="2.9" fill="#000080"/>
<circle cx="497.2" cy="729.7" r="2.9" fill="#000080"/>
<circle cx="484.1" cy="733.3" r="2.9" fill="#000080"/>
<circle cx="486.2" cy="733.3" r="2.9" fill="#000080"/>
<circle cx="497.9" cy="734.8" r="2.9" fill="#000080"/>
<circle cx="511.8" cy="731.9" r="2.9" fill="#000080"/>
<circle cx="532.2" cy="731.1" r="2.9" fill="#000080"/>
<circle cx="479.7" cy="738.4" r="2.9" fill="#000080"/>
<circle cx="473.8" cy="739.9" r="2.9" fill="#000080"/>
<circle cx="492.1" cy="741.4" r="2.9" fill="#000080"/>
<circle cx="501.6" cy="743.6" r="2.9" fill="#000080"/>
<circle cx="514.0" cy="742.8" r="2.9" fill="#000080"/>
<circle cx="530.8" cy="739.2" r="2.9" fill="#000080"/>
<circle cx="542.5" cy="736.3" r="2.9" fill="#000080"/>
<circle cx="555.6" cy="733.3" r="2.9" fill="#000080"/>
<circle cx="472.4" cy="747.9" r="2.9" fill="#000080"/>
<circle cx="475.3" cy="747.2" r="2.9" fill="#000080"/>
<circle cx="478.2" cy="749.4" r="2.9" fill="#000080"/>
<circle cx="474.6" cy="752.3" r="2.9" fill="#000080"/>
<circle cx="476.0" cy="755.2" r="2.9" fill="#000080"/>
<circle cx="511.8" cy="753.8" r="2.9" fill="#000080"/>
<circle cx="543.9" cy="747.9" r="2.9" fill="#000080"/>
<circle cx="473.8" cy="763.3" r="2.9" fill="#000080"/>
<circle cx="478.9" cy="761.1" r="2.9" fill="#000080"/>
<circle cx="489.9" cy="770.6" r="2.9" fill="#000080"/>
<circle cx="503.0" cy="769.8" r="2.9" fill="#000080"/>
<circle cx="505.2" cy="768.4" r="2.9" fill="#000080"/>
<circle cx="519.8" cy="770.6" r="2.9" fill="#000080"/>
<circle cx="529.3" cy="764.7" r="2.9" fill="#000080"/>
<circle cx="549.8" cy="760.3" r="2.9" fill="#000080"/>
<circle cx="565.8" cy="761.1" r="2.9" fill="#000080"/>
<circle cx="489.2" cy="779.3" r="2.9" fill="#000080"/>
<circle cx="492.8" cy="785.6" r="2.9" fill="#000080"/>
<circle cx="541.0" cy="783.0" r="2.9" fill="#000080"/>
<circle cx="537.8" cy="792.9" r="2.9" fill="#000080"/>
<circle cx="604.1" cy="707.4" r="2.9" fill="#000080"/>
<circle cx="612.9" cy="711.1" r="2.9" fill="#000080"/>
<circle cx="573.0" cy="712.2" r="2.9" fill="#000080"/>
<circle cx="575.9" cy="715.1" r="2.9" fill="#000080"/>
<circle cx="573.8" cy="716.5" r="2.9" fill="#000080"/>
<circle cx="581.1" cy="717.3" r="2.9" fill="#000080"/>
<circle cx="585.4" cy="718.7" r="2.9" fill="#000080"/>
<circle cx="588.4" cy="715.8" r="2.9" fill="#000080"/>
<circle cx="591.3" cy="713.6" r="2.9" fill="#000080"/>
<circle cx="597.4" cy="716.5" r="2.9" fill="#000080"/>
<circle cx="569.4" cy="725.3" r="2.9" fill="#000080"/>
<circle cx="582.5" cy="726.0" r="2.9" fill="#000080"/>
<circle cx="629.2" cy="722.8" r="2.9" fill="#000080"/>
<circle cx="645.0" cy="716.1" r="2.9" fill="#000080"/>
<circle cx="600.0" cy="738.4" r="2.9" fill="#000080"/>
<circle cx="610.3" cy="737.7" r="2.9" fill="#000080"/>
<circle cx="579.6" cy="748.7" r="2.9" fill="#000080"/>
<circle cx="569.4" cy="761.1" r="2.9" fill="#000080"/>
<circle cx="579.3" cy="772.5" r="2.9" fill="#000080"/>
<path d="M385.2,774.8 L391.7,773.2 L398.2,771.7 L404.7,770.1 L411.1,768.5 L417.6,767.0 L424.1,765.4 L430.6,763.8 L437.1,762.2 L443.6,760.7 L450.1,759.1 L456.5,757.5 L463.0,755.9 L469.5,754.3 L476.0,752.6 L482.5,751.0 L489.0,749.4 L495.4,747.7 L501.9,746.0 L508.4,744.3 L514.9,742.6 L521.4,740.9 L527.9,739.2 L534.4,737.4 L540.8,735.7 L547.3,733.9 L553.8,732.0 L560.3,730.2 L566.8,728.4 L573.3,726.5 L579.8,724.6 L586.2,722.7 L592.7,720.8 L599.2,718.9 L605.7,717.0 L612.2,715.0 L618.7,713.1 L625.1,711.1 L631.6,709.2 L638.1,707.2 L644.6,705.2 L644.6,715.2 L638.1,716.7 L631.6,718.3 L625.1,719.9 L618.7,721.5 L612.2,723.1 L605.7,724.7 L599.2,726.3 L592.7,728.0 L586.2,729.6 L579.8,731.2 L573.3,732.9 L566.8,734.6 L560.3,736.3 L553.8,738.0 L547.3,739.7 L540.8,741.5 L534.4,743.2 L527.9,745.0 L521.4,746.8 L514.9,748.7 L508.4,750.5 L501.9,752.4 L495.4,754.2 L489.0,756.1 L482.5,758.0 L476.0,759.9 L469.5,761.9 L463.0,763.8 L456.5,765.7 L450.1,767.7 L443.6,769.6 L437.1,771.6 L430.6,773.6 L424.1,775.5 L417.6,777.5 L411.1,779.5 L404.7,781.5 L398.2,783.4 L391.7,785.4 L385.2,787.4Z" fill="#999" fill-opacity="0.3"/>
<line x1="385.2" y1="781.1" x2="644.6" y2="710.2" stroke="#000080" stroke-width="2.7"/>
<circle cx="467.6" cy="722.4" r="2.9" fill="#FF8C00"/>
<circle cx="453.8" cy="737.4" r="2.9" fill="#FF8C00"/>
<circle cx="461.1" cy="740.3" r="2.9" fill="#FF8C00"/>
<circle cx="434.8" cy="742.8" r="2.9" fill="#FF8C00"/>
<circle cx="430.1" cy="747.2" r="2.9" fill="#FF8C00"/>
<circle cx="396.8" cy="771.0" r="2.9" fill="#FF8C00"/>
<circle cx="454.5" cy="769.1" r="2.9" fill="#FF8C00"/>
<circle cx="469.8" cy="757.4" r="2.9" fill="#FF8C00"/>
<circle cx="465.4" cy="771.3" r="2.9" fill="#FF8C00"/>
<circle cx="471.3" cy="772.8" r="2.9" fill="#FF8C00"/>
<circle cx="471.3" cy="780.1" r="2.9" fill="#FF8C00"/>
<circle cx="464.0" cy="778.6" r="2.9" fill="#FF8C00"/>
<circle cx="435.5" cy="778.6" r="2.9" fill="#FF8C00"/>
<circle cx="445.7" cy="777.1" r="2.9" fill="#FF8C00"/>
<circle cx="426.7" cy="783.7" r="2.9" fill="#FF8C00"/>
<circle cx="436.2" cy="784.4" r="2.9" fill="#FF8C00"/>
<circle cx="442.1" cy="782.2" r="2.9" fill="#FF8C00"/>
<circle cx="445.0" cy="785.9" r="2.9" fill="#FF8C00"/>
<circle cx="447.9" cy="787.4" r="2.9" fill="#FF8C00"/>
<circle cx="449.4" cy="790.3" r="2.9" fill="#FF8C00"/>
<circle cx="453.8" cy="785.9" r="2.9" fill="#FF8C00"/>
<circle cx="456.7" cy="787.4" r="2.9" fill="#FF8C00"/>
<circle cx="456.7" cy="793.2" r="2.9" fill="#FF8C00"/>
<circle cx="452.3" cy="793.2" r="2.9" fill="#FF8C00"/>
<circle cx="459.6" cy="797.6" r="2.9" fill="#FF8C00"/>
<circle cx="449.4" cy="796.1" r="2.9" fill="#FF8C00"/>
<circle cx="438.4" cy="791.7" r="2.9" fill="#FF8C00"/>
<circle cx="465.4" cy="787.4" r="2.9" fill="#FF8C00"/>
<circle cx="466.2" cy="795.4" r="2.9" fill="#FF8C00"/>
<circle cx="469.8" cy="796.1" r="2.9" fill="#FF8C00"/>
<circle cx="421.6" cy="792.5" r="2.9" fill="#FF8C00"/>
<circle cx="399.7" cy="791.7" r="2.9" fill="#FF8C00"/>
<circle cx="394.6" cy="800.8" r="2.9" fill="#FF8C00"/>
<circle cx="435.1" cy="799.8" r="2.9" fill="#FF8C00"/>
<circle cx="459.6" cy="804.9" r="2.9" fill="#FF8C00"/>
<circle cx="464.0" cy="806.3" r="2.9" fill="#FF8C00"/>
<circle cx="467.6" cy="803.4" r="2.9" fill="#FF8C00"/>
<circle cx="464.3" cy="814.8" r="2.9" fill="#FF8C00"/>
<circle cx="533.0" cy="714.4" r="2.9" fill="#FF8C00"/>
<circle cx="538.8" cy="718.0" r="2.9" fill="#FF8C00"/>
<circle cx="543.9" cy="720.2" r="2.9" fill="#FF8C00"/>
<circle cx="516.2" cy="720.2" r="2.9" fill="#FF8C00"/>
<circle cx="518.4" cy="726.0" r="2.9" fill="#FF8C00"/>
<circle cx="519.8" cy="726.0" r="2.9" fill="#FF8C00"/>
<circle cx="554.1" cy="724.6" r="2.9" fill="#FF8C00"/>
<circle cx="558.5" cy="726.0" r="2.9" fill="#FF8C00"/>
<circle cx="561.4" cy="729.0" r="2.9" fill="#FF8C00"/>
<circle cx="564.4" cy="727.5" r="2.9" fill="#FF8C00"/>
<circle cx="562.9" cy="736.3" r="2.9" fill="#FF8C00"/>
<circle cx="492.8" cy="737.7" r="2.9" fill="#FF8C00"/>
<circle cx="506.7" cy="738.4" r="2.9" fill="#FF8C00"/>
<circle cx="523.5" cy="737.0" r="2.9" fill="#FF8C00"/>
<circle cx="522.7" cy="742.1" r="2.9" fill="#FF8C00"/>
<circle cx="535.2" cy="736.3" r="2.9" fill="#FF8C00"/>
<circle cx="544.6" cy="739.9" r="2.9" fill="#FF8C00"/>
<circle cx="549.8" cy="743.6" r="2.9" fill="#FF8C00"/>
<circle cx="554.1" cy="739.2" r="2.9" fill="#FF8C00"/>
<circle cx="474.6" cy="742.1" r="2.9" fill="#FF8C00"/>
<circle cx="484.1" cy="750.9" r="2.9" fill="#FF8C00"/>
<circle cx="487.0" cy="758.2" r="2.9" fill="#FF8C00"/>
<circle cx="489.9" cy="755.2" r="2.9" fill="#FF8C00"/>
<circle cx="497.9" cy="752.3" r="2.9" fill="#FF8C00"/>
<circle cx="500.1" cy="756.0" r="2.9" fill="#FF8C00"/>
<circle cx="504.5" cy="753.8" r="2.9" fill="#FF8C00"/>
<circle cx="507.4" cy="755.2" r="2.9" fill="#FF8C00"/>
<circle cx="497.2" cy="758.9" r="2.9" fill="#FF8C00"/>
<circle cx="501.6" cy="759.6" r="2.9" fill="#FF8C00"/>
<circle cx="507.4" cy="758.2" r="2.9" fill="#FF8C00"/>
<circle cx="513.3" cy="758.2" r="2.9" fill="#FF8C00"/>
<circle cx="519.8" cy="750.9" r="2.9" fill="#FF8C00"/>
<circle cx="524.9" cy="752.3" r="2.9" fill="#FF8C00"/>
<circle cx="533.0" cy="752.3" r="2.9" fill="#FF8C00"/>
<circle cx="538.1" cy="749.4" r="2.9" fill="#FF8C00"/>
<circle cx="545.4" cy="753.8" r="2.9" fill="#FF8C00"/>
<circle cx="546.8" cy="758.9" r="2.9" fill="#FF8C00"/>
<circle cx="549.8" cy="746.5" r="2.9" fill="#FF8C00"/>
<circle cx="558.5" cy="750.9" r="2.9" fill="#FF8C00"/>
<circle cx="561.4" cy="746.5" r="2.9" fill="#FF8C00"/>
<circle cx="484.1" cy="764.7" r="2.9" fill="#FF8C00"/>
<circle cx="491.4" cy="764.0" r="2.9" fill="#FF8C00"/>
<circle cx="508.1" cy="764.0" r="2.9" fill="#FF8C00"/>
<circle cx="511.8" cy="761.1" r="2.9" fill="#FF8C00"/>
<circle cx="516.2" cy="766.9" r="2.9" fill="#FF8C00"/>
<circle cx="520.6" cy="766.9" r="2.9" fill="#FF8C00"/>
<circle cx="532.2" cy="761.8" r="2.9" fill="#FF8C00"/>
<circle cx="535.2" cy="764.0" r="2.9" fill="#FF8C00"/>
<circle cx="540.3" cy="761.1" r="2.9" fill="#FF8C00"/>
<circle cx="549.0" cy="764.7" r="2.9" fill="#FF8C00"/>
<circle cx="533.7" cy="768.4" r="2.9" fill="#FF8C00"/>
<circle cx="558.5" cy="768.4" r="2.9" fill="#FF8C00"/>
<circle cx="561.4" cy="759.6" r="2.9" fill="#FF8C00"/>
<circle cx="566.5" cy="766.9" r="2.9" fill="#FF8C00"/>
<circle cx="481.9" cy="774.2" r="2.9" fill="#FF8C00"/>
<circle cx="497.2" cy="780.1" r="2.9" fill="#FF8C00"/>
<circle cx="508.9" cy="774.2" r="2.9" fill="#FF8C00"/>
<circle cx="511.1" cy="777.9" r="2.9" fill="#FF8C00"/>
<circle cx="530.8" cy="777.9" r="2.9" fill="#FF8C00"/>
<circle cx="542.5" cy="770.6" r="2.9" fill="#FF8C00"/>
<circle cx="546.8" cy="773.5" r="2.9" fill="#FF8C00"/>
<circle cx="562.9" cy="776.4" r="2.9" fill="#FF8C00"/>
<circle cx="563.6" cy="783.0" r="2.9" fill="#FF8C00"/>
<circle cx="561.4" cy="786.6" r="2.9" fill="#FF8C00"/>
<circle cx="475.3" cy="783.0" r="2.9" fill="#FF8C00"/>
<circle cx="476.8" cy="788.1" r="2.9" fill="#FF8C00"/>
<circle cx="484.8" cy="791.7" r="2.9" fill="#FF8C00"/>
<circle cx="511.8" cy="790.3" r="2.9" fill="#FF8C00"/>
<circle cx="517.6" cy="786.6" r="2.9" fill="#FF8C00"/>
<circle cx="542.5" cy="788.1" r="2.9" fill="#FF8C00"/>
<circle cx="473.8" cy="795.4" r="2.9" fill="#FF8C00"/>
<circle cx="488.4" cy="812.2" r="2.9" fill="#FF8C00"/>
<circle cx="579.3" cy="707.4" r="2.9" fill="#FF8C00"/>
<circle cx="573.0" cy="722.4" r="2.9" fill="#FF8C00"/>
<circle cx="578.9" cy="721.7" r="2.9" fill="#FF8C00"/>
<circle cx="587.6" cy="728.2" r="2.9" fill="#FF8C00"/>
<circle cx="592.7" cy="725.3" r="2.9" fill="#FF8C00"/>
<circle cx="595.7" cy="729.7" r="2.9" fill="#FF8C00"/>
<circle cx="600.0" cy="725.3" r="2.9" fill="#FF8C00"/>
<circle cx="605.9" cy="726.8" r="2.9" fill="#FF8C00"/>
<circle cx="593.5" cy="732.6" r="2.9" fill="#FF8C00"/>
<circle cx="603.0" cy="730.4" r="2.9" fill="#FF8C00"/>
<circle cx="607.3" cy="731.9" r="2.9" fill="#FF8C00"/>
<circle cx="616.1" cy="726.0" r="2.9" fill="#FF8C00"/>
<circle cx="619.7" cy="722.4" r="2.9" fill="#FF8C00"/>
<circle cx="624.9" cy="722.4" r="2.9" fill="#FF8C00"/>
<circle cx="631.4" cy="717.0" r="2.9" fill="#FF8C00"/>
<circle cx="638.0" cy="731.1" r="2.9" fill="#FF8C00"/>
<circle cx="623.4" cy="732.6" r="2.9" fill="#FF8C00"/>
<circle cx="614.6" cy="735.5" r="2.9" fill="#FF8C00"/>
<circle cx="607.3" cy="738.4" r="2.9" fill="#FF8C00"/>
<circle cx="600.0" cy="734.8" r="2.9" fill="#FF8C00"/>
<circle cx="567.9" cy="734.1" r="2.9" fill="#FF8C00"/>
<circle cx="576.7" cy="733.3" r="2.9" fill="#FF8C00"/>
<circle cx="569.4" cy="739.2" r="2.9" fill="#FF8C00"/>
<circle cx="579.6" cy="737.7" r="2.9" fill="#FF8C00"/>
<circle cx="592.7" cy="742.1" r="2.9" fill="#FF8C00"/>
<circle cx="589.8" cy="742.8" r="2.9" fill="#FF8C00"/>
<circle cx="581.1" cy="747.9" r="2.9" fill="#FF8C00"/>
<circle cx="584.0" cy="747.2" r="2.9" fill="#FF8C00"/>
<circle cx="576.7" cy="753.8" r="2.9" fill="#FF8C00"/>
<circle cx="589.1" cy="755.2" r="2.9" fill="#FF8C00"/>
<circle cx="595.7" cy="759.6" r="2.9" fill="#FF8C00"/>
<circle cx="575.2" cy="760.3" r="2.9" fill="#FF8C00"/>
<circle cx="581.8" cy="764.0" r="2.9" fill="#FF8C00"/>
<circle cx="567.2" cy="767.6" r="2.9" fill="#FF8C00"/>
<circle cx="604.4" cy="748.7" r="2.9" fill="#FF8C00"/>
<circle cx="605.1" cy="750.9" r="2.9" fill="#FF8C00"/>
<circle cx="593.5" cy="774.9" r="2.9" fill="#FF8C00"/>
<path d="M395.4,788.4 L401.5,786.9 L407.5,785.4 L413.6,783.8 L419.6,782.3 L425.7,780.8 L431.8,779.3 L437.8,777.7 L443.9,776.2 L449.9,774.6 L456.0,773.1 L462.1,771.5 L468.1,770.0 L474.2,768.4 L480.2,766.8 L486.3,765.2 L492.4,763.6 L498.4,762.0 L504.5,760.4 L510.5,758.8 L516.6,757.1 L522.7,755.4 L528.7,753.8 L534.8,752.1 L540.8,750.3 L546.9,748.6 L553.0,746.8 L559.0,745.1 L565.1,743.3 L571.1,741.5 L577.2,739.7 L583.3,737.8 L589.3,736.0 L595.4,734.2 L601.4,732.3 L607.5,730.4 L613.6,728.6 L619.6,726.7 L625.7,724.8 L631.7,722.9 L637.8,721.0 L637.8,730.6 L631.7,732.1 L625.7,733.7 L619.6,735.2 L613.6,736.8 L607.5,738.3 L601.4,739.9 L595.4,741.5 L589.3,743.0 L583.3,744.6 L577.2,746.2 L571.1,747.8 L565.1,749.5 L559.0,751.1 L553.0,752.8 L546.9,754.5 L540.8,756.1 L534.8,757.9 L528.7,759.6 L522.7,761.3 L516.6,763.1 L510.5,764.9 L504.5,766.7 L498.4,768.5 L492.4,770.3 L486.3,772.1 L480.2,774.0 L474.2,775.8 L468.1,777.7 L462.1,779.5 L456.0,781.4 L449.9,783.3 L443.9,785.2 L437.8,787.1 L431.8,789.0 L425.7,790.9 L419.6,792.8 L413.6,794.7 L407.5,796.6 L401.5,798.5 L395.4,800.4Z" fill="#999" fill-opacity="0.3"/>
<line x1="395.4" y1="794.4" x2="637.8" y2="725.8" stroke="#FF8C00" stroke-width="2.7"/>
</g>
<path d="M371.9,691.5 V821.3 H658.5" fill="none" stroke="#000" stroke-width="1.5"/>
<line x1="368.5" y1="785.1" x2="371.9" y2="785.1" stroke="#333" stroke-width="1.2"/>
<text class="tk" x="365.7" y="789.6" text-anchor="end">0</text>
<line x1="368.5" y1="748.8" x2="371.9" y2="748.8" stroke="#333" stroke-width="1.2"/>
<text class="tk" x="365.7" y="753.3" text-anchor="end">2</text>
<line x1="368.5" y1="712.5" x2="371.9" y2="712.5" stroke="#333" stroke-width="1.2"/>
<text class="tk" x="365.7" y="717.0" text-anchor="end">4</text>
<line x1="449.3" y1="821.3" x2="449.3" y2="824.6999999999999" stroke="#333" stroke-width="1.2"/>
<text class="tk" x="449.3" y="835.7" text-anchor="middle">20</text>
<line x1="546.2" y1="821.3" x2="546.2" y2="824.6999999999999" stroke="#333" stroke-width="1.2"/>
<text class="tk" x="546.2" y="835.7" text-anchor="middle">40</text>
<line x1="643.1" y1="821.3" x2="643.1" y2="824.6999999999999" stroke="#333" stroke-width="1.2"/>
<text class="tk" x="643.1" y="835.7" text-anchor="middle">60</text>
<text class="at" x="515.2" y="849.1" text-anchor="middle">Prevalence of elevated cholesterol (%)</text>
<text class="at" transform="translate(353.7,756.8) rotate(-90)" text-anchor="middle">ln(ASR) of ureteral cancer</text>
<rect x="0.5" y="889.8" width="683" height="24.8" fill="none" stroke="#000" stroke-width="1.1"/>
<text class="lg" x="8.2" y="907" style="font-size:11px">Men:</text>
<circle cx="40.5" cy="904" r="2.4" fill="#2B5A8C"/>
<text class="lg" x="50" y="907.2">Individual country</text>
<line x1="140.5" y1="903.3" x2="170" y2="903.3" stroke="#3A63A0" stroke-width="1" stroke-dasharray="1,1.4"/>
<text class="lg" x="177.6" y="907.2">95% CI</text>
<line x1="218.1" y1="903.5" x2="246.4" y2="903.5" stroke="#2B5A8C" stroke-width="1.5"/>
<text class="lg" x="255.3" y="907.2">Fitted values</text>
<text class="lg" x="351.6" y="906" style="font-size:11px">Women:</text>
<circle cx="401.1" cy="903.1" r="2.4" fill="#FF8C00"/>
<text class="lg" x="411" y="906.8">Individual country</text>
<line x1="415.7" y1="909.3" x2="423" y2="909.3" stroke="#3A63A0" stroke-width="1" stroke-dasharray="1,1.4"/>
<line x1="503.1" y1="902.8" x2="534.6" y2="902.8" stroke="#F39A3A" stroke-width="1.1" stroke-dasharray="1.2,1.2"/>
<text class="lg" x="541" y="907.3">95% CI</text>
<line x1="584.3" y1="903.4" x2="612.9" y2="903.4" stroke="#EE9530" stroke-width="1.6"/>
<text class="lg" x="618.1" y="907.3">Fitted values</text>

</svg></body></html>
